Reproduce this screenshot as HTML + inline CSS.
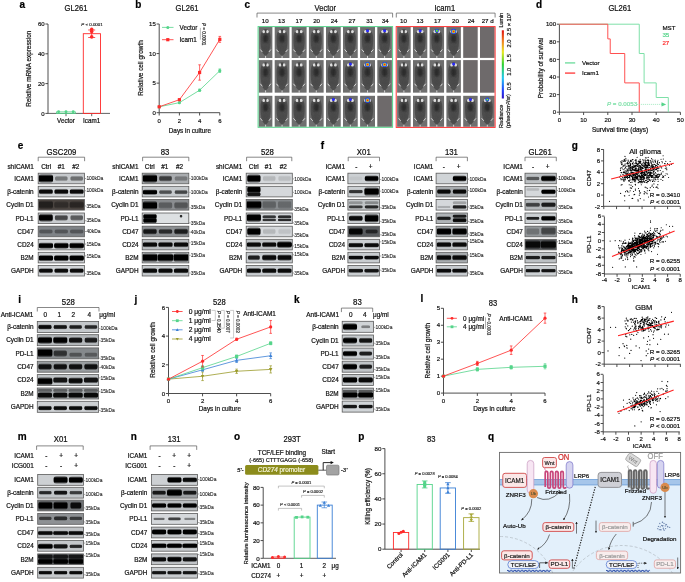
<!DOCTYPE html><html><head><meta charset="utf-8"><style>html,body{margin:0;padding:0;background:#fff;overflow:hidden}svg{display:block;filter:blur(0.35px)}text{font-family:"Liberation Sans",sans-serif}</style></head><body>
<svg width="685" height="582" viewBox="0 0 685 582">
<defs><filter id="bl" x="-30%" y="-60%" width="160%" height="220%"><feGaussianBlur stdDeviation="0.7"/></filter><linearGradient id="vg" x1="0" y1="0" x2="0" y2="1"><stop offset="0" stop-opacity="0.1"/><stop offset="0.25" stop-opacity="1"/><stop offset="0.75" stop-opacity="1"/><stop offset="1" stop-opacity="0.1"/></linearGradient><linearGradient id="hg"><stop offset="0" stop-color="#fff" stop-opacity="0"/><stop offset="0.12" stop-color="#fff" stop-opacity="1"/><stop offset="0.88" stop-color="#fff" stop-opacity="1"/><stop offset="1" stop-color="#fff" stop-opacity="0"/></linearGradient><mask id="hm" maskContentUnits="objectBoundingBox"><rect width="1" height="1" fill="url(#hg)"/></mask><radialGradient id="rg"><stop offset="0" stop-opacity="1"/><stop offset="0.62" stop-opacity="1"/><stop offset="0.85" stop-opacity="0.55"/><stop offset="1" stop-opacity="0"/></radialGradient><filter id="bl3" x="-40%" y="-100%" width="180%" height="300%"><feGaussianBlur stdDeviation="1.3"/></filter><filter id="bl2" x="-30%" y="-30%" width="160%" height="160%"><feGaussianBlur stdDeviation="0.9"/></filter><linearGradient id="cbar" x1="0" y1="1" x2="0" y2="0"><stop offset="0" stop-color="#3010c0"/><stop offset="0.12" stop-color="#2040ff"/><stop offset="0.3" stop-color="#20c8f0"/><stop offset="0.5" stop-color="#30d030"/><stop offset="0.68" stop-color="#e8e820"/><stop offset="0.84" stop-color="#f08020"/><stop offset="1" stop-color="#e01010"/></linearGradient></defs>
<rect width="685" height="582" fill="#fff"/>
<text x="19.5" y="8" style="font-size:10px;stroke-width:0.2px;font-weight:bold" fill="#000" stroke="#000">a</text>
<text transform="translate(76,10.7) scale(1,1.07)" x="0" y="0" style="font-size:7.6px;stroke-width:0.2px" text-anchor="middle" fill="#111" stroke="#111">GL261</text>
<line x1="48" y1="24" x2="48" y2="113.4" stroke="#3a3a3a" stroke-width="0.9"/>
<line x1="45.4" y1="24" x2="48" y2="24" stroke="#3a3a3a" stroke-width="0.9"/>
<text x="44.6" y="26.16" style="font-size:6px;stroke-width:0.19px" text-anchor="end" fill="#111" stroke="#111">60</text>
<line x1="45.4" y1="53.8" x2="48" y2="53.8" stroke="#3a3a3a" stroke-width="0.9"/>
<text x="44.6" y="55.96" style="font-size:6px;stroke-width:0.19px" text-anchor="end" fill="#111" stroke="#111">40</text>
<line x1="45.4" y1="83.6" x2="48" y2="83.6" stroke="#3a3a3a" stroke-width="0.9"/>
<text x="44.6" y="85.76" style="font-size:6px;stroke-width:0.19px" text-anchor="end" fill="#111" stroke="#111">20</text>
<line x1="45.4" y1="113.4" x2="48" y2="113.4" stroke="#3a3a3a" stroke-width="0.9"/>
<text x="44.6" y="115.56" style="font-size:6px;stroke-width:0.19px" text-anchor="end" fill="#111" stroke="#111">0</text>
<line x1="48" y1="113.4" x2="110" y2="113.4" stroke="#3a3a3a" stroke-width="0.8"/>
<line x1="66" y1="113.4" x2="66" y2="116.2" stroke="#3a3a3a" stroke-width="0.8"/>
<line x1="91.7" y1="113.4" x2="91.7" y2="116.2" stroke="#3a3a3a" stroke-width="0.8"/>
<text x="66" y="122.5" style="font-size:6.3px;stroke-width:0.2px" text-anchor="middle" fill="#111" stroke="#111">Vector</text>
<text x="91.7" y="122.5" style="font-size:6.3px;stroke-width:0.2px" text-anchor="middle" fill="#111" stroke="#111">Icam1</text>
<text transform="translate(30.8,68.7) rotate(-90)" x="0" y="0" style="font-size:6.4px;stroke-width:0.2px" text-anchor="middle" fill="#111" stroke="#111">Relative mRNA expression</text>
<rect x="56.5" y="111.9" width="19" height="1.5" fill="none" stroke="#55d48a" stroke-width="0.8"/>
<circle cx="58.6" cy="111.7" r="1.45" fill="#55d48a"/>
<circle cx="66" cy="111.7" r="1.45" fill="#55d48a"/>
<circle cx="73.2" cy="111.7" r="1.45" fill="#55d48a"/>
<rect x="83.3" y="33.7" width="17.2" height="79.7" fill="none" stroke="#ff2a2a" stroke-width="0.9"/>
<line x1="91.7" y1="30" x2="91.7" y2="37.5" stroke="#ff2a2a" stroke-width="0.8"/>
<line x1="88.2" y1="30" x2="95.2" y2="30" stroke="#ff2a2a" stroke-width="0.8"/>
<line x1="88.2" y1="37.5" x2="95.2" y2="37.5" stroke="#ff2a2a" stroke-width="0.8"/>
<circle cx="91.7" cy="29.4" r="1.8" fill="#ff2a2a"/>
<circle cx="91.7" cy="31.6" r="1.8" fill="#ff2a2a"/>
<circle cx="91.7" cy="36.9" r="1.8" fill="#ff2a2a"/>
<text x="81.3" y="25.6" style="font-size:4.4px;stroke-width:0.14px" fill="#111" stroke="#111"><tspan font-style="italic">P</tspan> &lt; 0.0001</text>
<text x="135.3" y="8" style="font-size:10px;stroke-width:0.2px;font-weight:bold" fill="#000" stroke="#000">b</text>
<text transform="translate(187,11) scale(1,1.07)" x="0" y="0" style="font-size:7.6px;stroke-width:0.2px" text-anchor="middle" fill="#111" stroke="#111">GL261</text>
<line x1="159.2" y1="24" x2="159.2" y2="112.7" stroke="#3a3a3a" stroke-width="0.9"/>
<line x1="156.6" y1="24" x2="159.2" y2="24" stroke="#3a3a3a" stroke-width="0.9"/>
<text x="155.8" y="26.16" style="font-size:6px;stroke-width:0.19px" text-anchor="end" fill="#111" stroke="#111">15</text>
<line x1="156.6" y1="53.57" x2="159.2" y2="53.57" stroke="#3a3a3a" stroke-width="0.9"/>
<text x="155.8" y="55.73" style="font-size:6px;stroke-width:0.19px" text-anchor="end" fill="#111" stroke="#111">10</text>
<line x1="156.6" y1="83.14" x2="159.2" y2="83.14" stroke="#3a3a3a" stroke-width="0.9"/>
<text x="155.8" y="85.3" style="font-size:6px;stroke-width:0.19px" text-anchor="end" fill="#111" stroke="#111">5</text>
<line x1="156.6" y1="112.7" x2="159.2" y2="112.7" stroke="#3a3a3a" stroke-width="0.9"/>
<text x="155.8" y="114.86" style="font-size:6px;stroke-width:0.19px" text-anchor="end" fill="#111" stroke="#111">0</text>
<line x1="159.2" y1="112.7" x2="219.8" y2="112.7" stroke="#3a3a3a" stroke-width="0.9"/>
<line x1="159.2" y1="112.7" x2="159.2" y2="115.5" stroke="#3a3a3a" stroke-width="0.9"/>
<text x="159.2" y="122.8" style="font-size:6px;stroke-width:0.19px" text-anchor="middle" fill="#111" stroke="#111">0</text>
<line x1="179.4" y1="112.7" x2="179.4" y2="115.5" stroke="#3a3a3a" stroke-width="0.9"/>
<text x="179.4" y="122.8" style="font-size:6px;stroke-width:0.19px" text-anchor="middle" fill="#111" stroke="#111">2</text>
<line x1="199.6" y1="112.7" x2="199.6" y2="115.5" stroke="#3a3a3a" stroke-width="0.9"/>
<text x="199.6" y="122.8" style="font-size:6px;stroke-width:0.19px" text-anchor="middle" fill="#111" stroke="#111">4</text>
<line x1="219.8" y1="112.7" x2="219.8" y2="115.5" stroke="#3a3a3a" stroke-width="0.9"/>
<text x="219.8" y="122.8" style="font-size:6px;stroke-width:0.19px" text-anchor="middle" fill="#111" stroke="#111">6</text>
<text x="189.9" y="132.5" style="font-size:6.4px;stroke-width:0.2px" text-anchor="middle" fill="#111" stroke="#111">Days in culture</text>
<text transform="translate(143.2,68) rotate(-90)" x="0" y="0" style="font-size:6.4px;stroke-width:0.2px" text-anchor="middle" fill="#111" stroke="#111">Relative cell growth</text>
<polyline points="159.2,106.79 179.4,102.65 199.6,90.23 219.8,70.72" fill="none" stroke="#55d48a" stroke-width="0.8"/>
<circle cx="159.2" cy="106.79" r="1.6" fill="#55d48a"/>
<circle cx="179.4" cy="102.65" r="1.6" fill="#55d48a"/>
<line x1="199.6" y1="91.41" x2="199.6" y2="89.05" stroke="#55d48a" stroke-width="0.7"/>
<line x1="198.3" y1="89.05" x2="200.9" y2="89.05" stroke="#55d48a" stroke-width="0.7"/>
<line x1="198.3" y1="91.41" x2="200.9" y2="91.41" stroke="#55d48a" stroke-width="0.7"/>
<circle cx="199.6" cy="90.23" r="1.6" fill="#55d48a"/>
<line x1="219.8" y1="72.49" x2="219.8" y2="68.94" stroke="#55d48a" stroke-width="0.7"/>
<line x1="218.5" y1="68.94" x2="221.1" y2="68.94" stroke="#55d48a" stroke-width="0.7"/>
<line x1="218.5" y1="72.49" x2="221.1" y2="72.49" stroke="#55d48a" stroke-width="0.7"/>
<circle cx="219.8" cy="70.72" r="1.6" fill="#55d48a"/>
<polyline points="159.2,106.79 179.4,99.69 199.6,72.49 219.8,39.38" fill="none" stroke="#ff2a2a" stroke-width="0.8"/>
<rect x="157.6" y="105.19" width="3.2" height="3.2" fill="#ff2a2a"/>
<rect x="177.8" y="98.09" width="3.2" height="3.2" fill="#ff2a2a"/>
<line x1="199.6" y1="80.18" x2="199.6" y2="64.8" stroke="#ff2a2a" stroke-width="0.7"/>
<line x1="198.3" y1="64.8" x2="200.9" y2="64.8" stroke="#ff2a2a" stroke-width="0.7"/>
<line x1="198.3" y1="80.18" x2="200.9" y2="80.18" stroke="#ff2a2a" stroke-width="0.7"/>
<rect x="198" y="70.89" width="3.2" height="3.2" fill="#ff2a2a"/>
<line x1="219.8" y1="42.34" x2="219.8" y2="36.42" stroke="#ff2a2a" stroke-width="0.7"/>
<line x1="218.5" y1="36.42" x2="221.1" y2="36.42" stroke="#ff2a2a" stroke-width="0.7"/>
<line x1="218.5" y1="42.34" x2="221.1" y2="42.34" stroke="#ff2a2a" stroke-width="0.7"/>
<rect x="218.2" y="37.78" width="3.2" height="3.2" fill="#ff2a2a"/>
<line x1="162" y1="27.4" x2="173.5" y2="27.4" stroke="#55d48a" stroke-width="0.8"/>
<circle cx="167.8" cy="27.4" r="1.5" fill="#55d48a"/>
<text x="179.6" y="29.7" style="font-size:6.3px;stroke-width:0.2px" fill="#111" stroke="#111">Vector</text>
<line x1="162" y1="39.7" x2="173.5" y2="39.7" stroke="#ff2a2a" stroke-width="0.8"/>
<rect x="166.2" y="38.1" width="3.2" height="3.2" fill="#ff2a2a"/>
<text x="179.6" y="42" style="font-size:6.3px;stroke-width:0.2px" fill="#111" stroke="#111">Icam1</text>
<line x1="200.4" y1="27.9" x2="200.4" y2="39.6" stroke="#aaa" stroke-width="0.8"/>
<text transform="translate(201.6,22.9) rotate(90)" x="0" y="0" style="font-size:4.6px;stroke-width:0.15px" fill="#111" stroke="#111"><tspan font-style="italic">P</tspan> = 0.0001</text>
<text x="244.6" y="8" style="font-size:10px;stroke-width:0.2px;font-weight:bold" fill="#000" stroke="#000">c</text>
<text transform="translate(325.3,10.5) scale(1,1.07)" x="0" y="0" style="font-size:7.6px;stroke-width:0.2px" text-anchor="middle" fill="#111" stroke="#111">Vector</text>
<text transform="translate(444.8,10.5) scale(1,1.07)" x="0" y="0" style="font-size:7.6px;stroke-width:0.2px" text-anchor="middle" fill="#111" stroke="#111">Icam1</text>
<path d="M257,17.5 V13.1 H392.6 V17.5" stroke="#555" stroke-width="0.7" fill="none"/>
<path d="M396.3,17.5 V13.1 H495.1 V17.5" stroke="#555" stroke-width="0.7" fill="none"/>
<text x="265.2" y="23.4" style="font-size:6.2px;stroke-width:0.2px" text-anchor="middle" fill="#111" stroke="#111">10</text>
<text x="281.4" y="23.4" style="font-size:6.2px;stroke-width:0.2px" text-anchor="middle" fill="#111" stroke="#111">13</text>
<text x="299" y="23.4" style="font-size:6.2px;stroke-width:0.2px" text-anchor="middle" fill="#111" stroke="#111">17</text>
<text x="316.6" y="23.4" style="font-size:6.2px;stroke-width:0.2px" text-anchor="middle" fill="#111" stroke="#111">20</text>
<text x="334.3" y="23.4" style="font-size:6.2px;stroke-width:0.2px" text-anchor="middle" fill="#111" stroke="#111">24</text>
<text x="352" y="23.4" style="font-size:6.2px;stroke-width:0.2px" text-anchor="middle" fill="#111" stroke="#111">27</text>
<text x="369.6" y="23.4" style="font-size:6.2px;stroke-width:0.2px" text-anchor="middle" fill="#111" stroke="#111">31</text>
<text x="385.3" y="23.4" style="font-size:6.2px;stroke-width:0.2px" text-anchor="middle" fill="#111" stroke="#111">34</text>
<text x="403.5" y="23.4" style="font-size:6.2px;stroke-width:0.2px" text-anchor="middle" fill="#111" stroke="#111">10</text>
<text x="420" y="23.4" style="font-size:6.2px;stroke-width:0.2px" text-anchor="middle" fill="#111" stroke="#111">13</text>
<text x="437.5" y="23.4" style="font-size:6.2px;stroke-width:0.2px" text-anchor="middle" fill="#111" stroke="#111">17</text>
<text x="455.4" y="23.4" style="font-size:6.2px;stroke-width:0.2px" text-anchor="middle" fill="#111" stroke="#111">20</text>
<text x="471.1" y="23.4" style="font-size:6.2px;stroke-width:0.2px" text-anchor="middle" fill="#111" stroke="#111">24</text>
<text x="487.7" y="23.4" style="font-size:6.2px;stroke-width:0.2px" text-anchor="middle" fill="#111" stroke="#111">27 d</text>
<defs><g id="mouse"><rect x="0" y="0" width="14.6" height="31" fill="#6e6e6e"/><path d="M7.3,2 C11,2.5 12.8,6 12.8,11 C13,18 12,23.5 10,26.5 L7.3,29.5 L4.6,26.5 C2.6,23.5 1.6,18 1.8,11 C1.8,6 3.6,2.5 7.3,2 Z" fill="#4e4e4e" filter="url(#bl)"/><ellipse cx="7.3" cy="11.5" rx="2.8" ry="4.2" fill="#2a2a2a" filter="url(#bl2)"/><ellipse cx="7.3" cy="21" rx="3" ry="3.5" fill="#484848" filter="url(#bl2)"/><ellipse cx="5.3" cy="4.6" rx="1.45" ry="1.6" fill="#dddddd" filter="url(#bl)"/><ellipse cx="9.3" cy="4.6" rx="1.45" ry="1.6" fill="#dddddd" filter="url(#bl)"/><ellipse cx="7.3" cy="4" rx="0.8" ry="1.6" fill="#444" filter="url(#bl)"/><path d="M1.6,22.5 L3.8,25 M13,22.5 L10.8,25 M7.3,28.8 V31" stroke="#e0e0e0" stroke-width="0.9" fill="none"/></g></defs>
<use href="#mouse" transform="translate(258.8,27) scale(0.93,1)"/>
<use href="#mouse" transform="translate(274.7,27) scale(1.01,1)"/>
<use href="#mouse" transform="translate(291.7,27) scale(1.02,1)"/>
<use href="#mouse" transform="translate(308.9,27) scale(1.01,1)"/>
<use href="#mouse" transform="translate(326,27) scale(1.01,1)"/>
<use href="#mouse" transform="translate(343,27) scale(1.01,1)"/>
<use href="#mouse" transform="translate(360.1,27) scale(1.02,1)"/>
<circle cx="367.55" cy="30.8" r="1.5" fill="#2a2aff"/>
<use href="#mouse" transform="translate(377.3,27) scale(1,1)"/>
<circle cx="384.6" cy="30.8" r="1.5" fill="#2a2aff"/>
<use href="#mouse" transform="translate(397.1,27) scale(0.93,1)"/>
<use href="#mouse" transform="translate(413,27) scale(0.98,1)"/>
<circle cx="420.15" cy="30.8" r="1.5" fill="#2a2aff"/>
<use href="#mouse" transform="translate(429.6,27) scale(0.99,1)"/>
<circle cx="436.85" cy="30.8" r="2" fill="#2a3aff"/>
<circle cx="436.85" cy="30.8" r="1.2" fill="#30d040"/>
<circle cx="436.85" cy="30.8" r="0.5" fill="#e0e020"/>
<use href="#mouse" transform="translate(446.4,27) scale(0.99,1)"/>
<circle cx="453.65" cy="31.4" r="2.6" fill="#2a2aff"/>
<circle cx="453.65" cy="31.4" r="2" fill="#30c8a0"/>
<circle cx="453.65" cy="31.4" r="1.5" fill="#e8e020"/>
<circle cx="453.65" cy="31.4" r="1" fill="#ff2010"/>
<rect x="463.2" y="27" width="14.5" height="30.9" fill="#6e6a6b"/>
<rect x="480" y="27" width="14.6" height="30.9" fill="#6e6a6b"/>
<use href="#mouse" transform="translate(258.8,60.1) scale(0.93,1.05)"/>
<use href="#mouse" transform="translate(274.7,60.1) scale(1.01,1.05)"/>
<use href="#mouse" transform="translate(291.7,60.1) scale(1.02,1.05)"/>
<use href="#mouse" transform="translate(308.9,60.1) scale(1.01,1.05)"/>
<use href="#mouse" transform="translate(326,60.1) scale(1.01,1.05)"/>
<use href="#mouse" transform="translate(343,60.1) scale(1.01,1.05)"/>
<circle cx="350.4" cy="63.9" r="1.5" fill="#2a2aff"/>
<use href="#mouse" transform="translate(360.1,60.1) scale(1.02,1.05)"/>
<circle cx="367.55" cy="64.5" r="2.6" fill="#2a2aff"/>
<circle cx="367.55" cy="64.5" r="2" fill="#30c8a0"/>
<circle cx="367.55" cy="64.5" r="1.5" fill="#e8e020"/>
<circle cx="367.55" cy="64.5" r="1" fill="#ff2010"/>
<use href="#mouse" transform="translate(377.3,60.1) scale(1,1.05)"/>
<circle cx="384.6" cy="64.5" r="2.6" fill="#2a2aff"/>
<circle cx="384.6" cy="64.5" r="2" fill="#30c8a0"/>
<circle cx="384.6" cy="64.5" r="1.5" fill="#e8e020"/>
<circle cx="384.6" cy="64.5" r="1" fill="#ff2010"/>
<use href="#mouse" transform="translate(397.1,60.1) scale(0.93,1.05)"/>
<use href="#mouse" transform="translate(413,60.1) scale(0.98,1.05)"/>
<use href="#mouse" transform="translate(429.6,60.1) scale(0.99,1.05)"/>
<use href="#mouse" transform="translate(446.4,60.1) scale(0.99,1.05)"/>
<circle cx="453.65" cy="63.9" r="1.5" fill="#2a2aff"/>
<rect x="463.2" y="60.1" width="14.5" height="32.6" fill="#6e6a6b"/>
<rect x="480" y="60.1" width="14.6" height="32.6" fill="#6e6a6b"/>
<use href="#mouse" transform="translate(258.8,95.8) scale(0.93,1)"/>
<use href="#mouse" transform="translate(274.7,95.8) scale(1.01,1)"/>
<use href="#mouse" transform="translate(291.7,95.8) scale(1.02,1)"/>
<use href="#mouse" transform="translate(308.9,95.8) scale(1.01,1)"/>
<use href="#mouse" transform="translate(326,95.8) scale(1.01,1)"/>
<circle cx="333.35" cy="99.6" r="1.5" fill="#2a2aff"/>
<use href="#mouse" transform="translate(343,95.8) scale(1.01,1)"/>
<circle cx="350.4" cy="99.6" r="1.5" fill="#2a2aff"/>
<use href="#mouse" transform="translate(360.1,95.8) scale(1.02,1)"/>
<circle cx="367.55" cy="100.2" r="2.6" fill="#2a2aff"/>
<circle cx="367.55" cy="100.2" r="2" fill="#30c8a0"/>
<circle cx="367.55" cy="100.2" r="1.5" fill="#e8e020"/>
<circle cx="367.55" cy="100.2" r="1" fill="#ff2010"/>
<rect x="377.3" y="95.8" width="14.6" height="31" fill="#6e6a6b"/>
<use href="#mouse" transform="translate(397.1,95.8) scale(0.93,1)"/>
<use href="#mouse" transform="translate(413,95.8) scale(0.98,1)"/>
<use href="#mouse" transform="translate(429.6,95.8) scale(0.99,1)"/>
<use href="#mouse" transform="translate(446.4,95.8) scale(0.99,1)"/>
<use href="#mouse" transform="translate(463.2,95.8) scale(0.99,1)"/>
<circle cx="470.45" cy="99.6" r="1.5" fill="#2a2aff"/>
<use href="#mouse" transform="translate(480,95.8) scale(1,1)"/>
<circle cx="487.3" cy="99.6" r="2" fill="#2a3aff"/>
<circle cx="487.3" cy="99.6" r="1.2" fill="#30d040"/>
<circle cx="487.3" cy="99.6" r="0.5" fill="#e0e020"/>
<rect x="258.1" y="26.6" width="134.5" height="100.7" fill="none" stroke="#55d48a" stroke-width="1"/>
<rect x="396.2" y="26.6" width="98.9" height="100.8" fill="none" stroke="#ff3030" stroke-width="1"/>
<rect x="501.8" y="30.3" width="2.1" height="68.2" fill="url(#cbar)"/>
<text transform="translate(503.1,27.4) rotate(-90)" x="0" y="0" style="font-size:5.3px;stroke-width:0.17px" fill="#111" stroke="#111">Lumin</text>
<text transform="translate(511.4,35.8) rotate(-90)" x="0" y="0" style="font-size:5.7px;stroke-width:0.18px" fill="#111" stroke="#111">2.5 × 10<tspan dy="-1.8" font-size="3.6">7</tspan></text>
<text transform="translate(511.4,43.5) rotate(-90)" x="0" y="0" style="font-size:5.7px;stroke-width:0.18px" text-anchor="middle" fill="#111" stroke="#111">2.0</text>
<text transform="translate(511.4,58.1) rotate(-90)" x="0" y="0" style="font-size:5.7px;stroke-width:0.18px" text-anchor="middle" fill="#111" stroke="#111">1.5</text>
<text transform="translate(511.4,71.8) rotate(-90)" x="0" y="0" style="font-size:5.7px;stroke-width:0.18px" text-anchor="middle" fill="#111" stroke="#111">1.0</text>
<text transform="translate(511.4,86.2) rotate(-90)" x="0" y="0" style="font-size:5.7px;stroke-width:0.18px" text-anchor="middle" fill="#111" stroke="#111">0.5</text>
<text transform="translate(503.3,127.9) rotate(-90)" x="0" y="0" style="font-size:5.5px;stroke-width:0.18px" fill="#111" stroke="#111">Radiance</text>
<text transform="translate(510.4,127.9) rotate(-90)" x="0" y="0" style="font-size:5.5px;stroke-width:0.18px" fill="#111" stroke="#111">(p/sec/cm<tspan dy="-1.5" font-size="3.6">2</tspan><tspan dy="1.5">/sr)</tspan></text>
<text x="536" y="8" style="font-size:10px;stroke-width:0.2px;font-weight:bold" fill="#000" stroke="#000">d</text>
<text transform="translate(619.8,10.6) scale(1,1.07)" x="0" y="0" style="font-size:7.6px;stroke-width:0.2px" text-anchor="middle" fill="#111" stroke="#111">GL261</text>
<line x1="559.4" y1="24.2" x2="559.4" y2="112.2" stroke="#3a3a3a" stroke-width="0.9"/>
<line x1="556.8" y1="24.2" x2="559.4" y2="24.2" stroke="#3a3a3a" stroke-width="0.9"/>
<text x="556" y="26.36" style="font-size:6px;stroke-width:0.19px" text-anchor="end" fill="#111" stroke="#111">100</text>
<line x1="556.8" y1="41.8" x2="559.4" y2="41.8" stroke="#3a3a3a" stroke-width="0.9"/>
<text x="556" y="43.96" style="font-size:6px;stroke-width:0.19px" text-anchor="end" fill="#111" stroke="#111">80</text>
<line x1="556.8" y1="59.4" x2="559.4" y2="59.4" stroke="#3a3a3a" stroke-width="0.9"/>
<text x="556" y="61.56" style="font-size:6px;stroke-width:0.19px" text-anchor="end" fill="#111" stroke="#111">60</text>
<line x1="556.8" y1="77" x2="559.4" y2="77" stroke="#3a3a3a" stroke-width="0.9"/>
<text x="556" y="79.16" style="font-size:6px;stroke-width:0.19px" text-anchor="end" fill="#111" stroke="#111">40</text>
<line x1="556.8" y1="94.6" x2="559.4" y2="94.6" stroke="#3a3a3a" stroke-width="0.9"/>
<text x="556" y="96.76" style="font-size:6px;stroke-width:0.19px" text-anchor="end" fill="#111" stroke="#111">20</text>
<line x1="556.8" y1="112.2" x2="559.4" y2="112.2" stroke="#3a3a3a" stroke-width="0.9"/>
<text x="556" y="114.36" style="font-size:6px;stroke-width:0.19px" text-anchor="end" fill="#111" stroke="#111">0</text>
<line x1="559.4" y1="112.2" x2="680.4" y2="112.2" stroke="#3a3a3a" stroke-width="0.9"/>
<line x1="559.4" y1="112.2" x2="559.4" y2="115" stroke="#3a3a3a" stroke-width="0.9"/>
<text x="559.4" y="122.4" style="font-size:6px;stroke-width:0.19px" text-anchor="middle" fill="#111" stroke="#111">0</text>
<line x1="583.6" y1="112.2" x2="583.6" y2="115" stroke="#3a3a3a" stroke-width="0.9"/>
<text x="583.6" y="122.4" style="font-size:6px;stroke-width:0.19px" text-anchor="middle" fill="#111" stroke="#111">10</text>
<line x1="607.8" y1="112.2" x2="607.8" y2="115" stroke="#3a3a3a" stroke-width="0.9"/>
<text x="607.8" y="122.4" style="font-size:6px;stroke-width:0.19px" text-anchor="middle" fill="#111" stroke="#111">20</text>
<line x1="632" y1="112.2" x2="632" y2="115" stroke="#3a3a3a" stroke-width="0.9"/>
<text x="632" y="122.4" style="font-size:6px;stroke-width:0.19px" text-anchor="middle" fill="#111" stroke="#111">30</text>
<line x1="656.2" y1="112.2" x2="656.2" y2="115" stroke="#3a3a3a" stroke-width="0.9"/>
<text x="656.2" y="122.4" style="font-size:6px;stroke-width:0.19px" text-anchor="middle" fill="#111" stroke="#111">40</text>
<line x1="680.4" y1="112.2" x2="680.4" y2="115" stroke="#3a3a3a" stroke-width="0.9"/>
<text x="680.4" y="122.4" style="font-size:6px;stroke-width:0.19px" text-anchor="middle" fill="#111" stroke="#111">50</text>
<text x="620" y="131.9" style="font-size:6.4px;stroke-width:0.2px" text-anchor="middle" fill="#111" stroke="#111">Survival time (days)</text>
<text transform="translate(543.2,68) rotate(-90)" x="0" y="0" style="font-size:6.4px;stroke-width:0.2px" text-anchor="middle" fill="#111" stroke="#111">Probability of survival</text>
<path d="M559.4,24.2 H639.26 V53.5 H644.1 V82.9 H656.2 V97.5 H668.3 V112.2" stroke="#7ee0a8" stroke-width="1" fill="none"/>
<path d="M559.4,24.2 H607.8 V38.9 H610.22 V53.5 H624.74 V82.9 H639.26 V112.2" stroke="#ff5050" stroke-width="1" fill="none"/>
<line x1="565" y1="62.9" x2="575.2" y2="62.9" stroke="#7ee0a8" stroke-width="1.5"/>
<text x="582" y="65.1" style="font-size:6.2px;stroke-width:0.2px" fill="#111" stroke="#111">Vector</text>
<line x1="565" y1="73.1" x2="575.2" y2="73.1" stroke="#ff5050" stroke-width="1.5"/>
<text x="582" y="75.3" style="font-size:6.2px;stroke-width:0.2px" fill="#111" stroke="#111">Icam1</text>
<text x="662.4" y="30.1" style="font-size:6.2px;stroke-width:0.2px" fill="#111" stroke="#111">MST</text>
<text x="662.4" y="37.4" style="font-size:6.2px;stroke-width:0.2px" fill="#55d48a" stroke="#55d48a">35</text>
<text x="662.4" y="44.8" style="font-size:6.2px;stroke-width:0.2px" fill="#ff3030" stroke="#ff3030">27</text>
<text x="607" y="106.3" style="font-size:6.2px;stroke-width:0.2px" fill="#7ee0a8" stroke="#7ee0a8"><tspan font-style="italic">P</tspan> = 0.0053</text>
<line x1="637" y1="104.4" x2="662" y2="104.4" stroke="#7ee0a8" stroke-width="0.6" stroke-dasharray="1.2,0.8"/>
<path d="M661.5,102.2 L666.2,104.4 L661.5,106.6 Z" stroke="none" stroke-width="0" fill="#55d48a"/>
<text x="17.8" y="148.8" style="font-size:10px;stroke-width:0.2px;font-weight:bold" fill="#000" stroke="#000">e</text>
<text transform="translate(61.5,154.5) scale(1,1.07)" x="0" y="0" style="font-size:7.8px;stroke-width:0.2px" text-anchor="middle" fill="#111" stroke="#111">GSC209</text>
<path d="M38.2,161.2 V157.2 H84.6 V161.2" stroke="#555" stroke-width="0.7" fill="none"/>
<text x="33.7" y="168.9" style="font-size:6.4px;stroke-width:0.2px" text-anchor="end" fill="#111" stroke="#111">shICAM1</text>
<text x="46.2" y="168.9" style="font-size:6.4px;stroke-width:0.2px" text-anchor="middle" fill="#111" stroke="#111">Ctrl</text>
<text x="61.2" y="168.9" style="font-size:6.4px;stroke-width:0.2px" text-anchor="middle" fill="#111" stroke="#111">#1</text>
<text x="75.8" y="168.9" style="font-size:6.4px;stroke-width:0.2px" text-anchor="middle" fill="#111" stroke="#111">#2</text>
<text x="33.7" y="180.8" style="font-size:6.4px;stroke-width:0.2px" text-anchor="end" fill="#111" stroke="#111">ICAM1</text>
<rect x="38.2" y="173.2" width="46.2" height="10.6" fill="#c6c9cc" stroke="#5a5a5a" stroke-width="0.8"/>
<clipPath id="cb1"><rect x="38.6" y="173.6" width="45.4" height="9.8"/></clipPath><g clip-path="url(#cb1)">
<rect x="38.67" y="174" width="14.45" height="9" rx="3.2" fill="url(#vg)" fill-opacity="1"/>
<rect x="55.02" y="175.7" width="12.57" height="5.61" rx="2.52" fill="url(#vg)" fill-opacity="0.4"/>
<rect x="70.42" y="175.7" width="12.57" height="5.61" rx="2.52" fill="url(#vg)" fill-opacity="0.45"/>
</g>
<line x1="85" y1="178.5" x2="86.2" y2="178.5" stroke="#444" stroke-width="0.5"/>
<text x="86.4" y="180.2" style="font-size:4.9px;stroke-width:0.1px" fill="#222" stroke="#222">100kDa</text>
<text x="33.7" y="193.9" style="font-size:6.4px;stroke-width:0.2px" text-anchor="end" fill="#111" stroke="#111">&#946;-catenin</text>
<rect x="38.2" y="186.3" width="46.2" height="10.6" fill="#d2d5d8" stroke="#5a5a5a" stroke-width="0.8"/>
<clipPath id="cb2"><rect x="38.6" y="186.7" width="45.4" height="9.8"/></clipPath><g clip-path="url(#cb2)">
<rect x="38.99" y="188.8" width="13.82" height="5.61" rx="2.52" fill="url(#vg)" fill-opacity="0.95"/>
<rect x="54.39" y="188.8" width="13.82" height="5.61" rx="2.52" fill="url(#vg)" fill-opacity="0.95"/>
<rect x="69.79" y="188.8" width="13.82" height="5.61" rx="2.52" fill="url(#vg)" fill-opacity="0.95"/>
</g>
<line x1="85" y1="190.75" x2="86.2" y2="190.75" stroke="#444" stroke-width="0.5"/>
<text x="86.4" y="192.45" style="font-size:4.9px;stroke-width:0.1px" fill="#222" stroke="#222">100kDa</text>
<text x="33.7" y="207.1" style="font-size:6.4px;stroke-width:0.2px" text-anchor="end" fill="#111" stroke="#111">Cyclin D1</text>
<rect x="38.2" y="199.5" width="46.2" height="10.6" fill="#4a4440" stroke="#5a5a5a" stroke-width="0.8"/>
<clipPath id="cb3"><rect x="38.6" y="199.9" width="45.4" height="9.8"/></clipPath><g clip-path="url(#cb3)">
<rect x="38.83" y="200.3" width="14.14" height="9" rx="3.2" fill="url(#vg)" fill-opacity="0.55"/>
<rect x="54.23" y="200.92" width="14.14" height="7.75" rx="3.2" fill="url(#vg)" fill-opacity="0.35"/>
<rect x="69.63" y="200.92" width="14.14" height="7.75" rx="3.2" fill="url(#vg)" fill-opacity="0.45"/>
</g>
<line x1="85" y1="205.97" x2="86.2" y2="205.97" stroke="#444" stroke-width="0.5"/>
<text x="86.4" y="207.67" style="font-size:4.9px;stroke-width:0.1px" fill="#222" stroke="#222">35kDa</text>
<text x="33.7" y="220.6" style="font-size:6.4px;stroke-width:0.2px" text-anchor="end" fill="#111" stroke="#111">PD-L1</text>
<rect x="38.2" y="213" width="46.2" height="10.6" fill="#c8cbce" stroke="#5a5a5a" stroke-width="0.8"/>
<clipPath id="cb4"><rect x="38.6" y="213.4" width="45.4" height="9.8"/></clipPath><g clip-path="url(#cb4)">
<rect x="38.99" y="213.53" width="13.82" height="8.47" rx="3.2" fill="url(#vg)" fill-opacity="1"/>
<rect x="54.86" y="214.61" width="12.88" height="6.32" rx="2.85" fill="url(#vg)" fill-opacity="0.65"/>
<rect x="70.42" y="214.61" width="12.57" height="6.32" rx="2.85" fill="url(#vg)" fill-opacity="0.55"/>
</g>
<line x1="85" y1="220.74" x2="86.2" y2="220.74" stroke="#444" stroke-width="0.5"/>
<text x="86.4" y="222.44" style="font-size:4.9px;stroke-width:0.1px" fill="#222" stroke="#222">35kDa</text>
<text x="33.7" y="233.8" style="font-size:6.4px;stroke-width:0.2px" text-anchor="end" fill="#111" stroke="#111">CD47</text>
<rect x="38.2" y="226.2" width="46.2" height="10.6" fill="#7f8387" stroke="#5a5a5a" stroke-width="0.8"/>
<clipPath id="cb5"><rect x="38.6" y="226.6" width="45.4" height="9.8"/></clipPath><g clip-path="url(#cb5)">
<rect x="39.22" y="229.05" width="13.35" height="4.89" rx="2.2" fill="url(#vg)" fill-opacity="0.35"/>
<rect x="54.62" y="229.05" width="13.35" height="4.89" rx="2.2" fill="url(#vg)" fill-opacity="0.35"/>
<rect x="70.02" y="229.05" width="13.35" height="4.89" rx="2.2" fill="url(#vg)" fill-opacity="0.35"/>
</g>
<line x1="85" y1="231.5" x2="86.2" y2="231.5" stroke="#444" stroke-width="0.5"/>
<text x="86.4" y="233.2" style="font-size:4.9px;stroke-width:0.1px" fill="#222" stroke="#222">40kDa</text>
<text x="33.7" y="246.9" style="font-size:6.4px;stroke-width:0.2px" text-anchor="end" fill="#111" stroke="#111">CD24</text>
<rect x="38.2" y="239.3" width="46.2" height="10.6" fill="#d0d3d6" stroke="#5a5a5a" stroke-width="0.8"/>
<clipPath id="cb6"><rect x="38.6" y="239.7" width="45.4" height="9.8"/></clipPath><g clip-path="url(#cb6)">
<rect x="38.67" y="242.35" width="14.45" height="6.61" rx="2.97" fill="url(#vg)" fill-opacity="1"/>
<rect x="54.07" y="242.35" width="14.45" height="6.61" rx="2.97" fill="url(#vg)" fill-opacity="1"/>
<rect x="69.47" y="242.35" width="14.45" height="6.61" rx="2.97" fill="url(#vg)" fill-opacity="1"/>
</g>
<line x1="85" y1="244.07" x2="86.2" y2="244.07" stroke="#444" stroke-width="0.5"/>
<text x="86.4" y="245.77" style="font-size:4.9px;stroke-width:0.1px" fill="#222" stroke="#222">15kDa</text>
<text x="33.7" y="259.9" style="font-size:6.4px;stroke-width:0.2px" text-anchor="end" fill="#111" stroke="#111">B2M</text>
<rect x="38.2" y="252.3" width="46.2" height="10.6" fill="#d0d3d6" stroke="#5a5a5a" stroke-width="0.8"/>
<clipPath id="cb7"><rect x="38.6" y="252.7" width="45.4" height="9.8"/></clipPath><g clip-path="url(#cb7)">
<rect x="38.67" y="254.82" width="14.45" height="6.61" rx="2.97" fill="url(#vg)" fill-opacity="1"/>
<rect x="54.07" y="254.82" width="14.45" height="6.61" rx="2.97" fill="url(#vg)" fill-opacity="1"/>
<rect x="69.47" y="254.82" width="14.45" height="6.61" rx="2.97" fill="url(#vg)" fill-opacity="1"/>
</g>
<line x1="85" y1="255.9" x2="86.2" y2="255.9" stroke="#444" stroke-width="0.5"/>
<text x="86.4" y="257.6" style="font-size:4.9px;stroke-width:0.1px" fill="#222" stroke="#222">15kDa</text>
<text x="33.7" y="273" style="font-size:6.4px;stroke-width:0.2px" text-anchor="end" fill="#111" stroke="#111">GAPDH</text>
<rect x="38.2" y="265.4" width="46.2" height="10.6" fill="#d0d3d6" stroke="#5a5a5a" stroke-width="0.8"/>
<clipPath id="cb8"><rect x="38.6" y="265.8" width="45.4" height="9.8"/></clipPath><g clip-path="url(#cb8)">
<rect x="38.99" y="268.11" width="13.82" height="5.18" rx="2.33" fill="url(#vg)" fill-opacity="0.95"/>
<rect x="54.39" y="268.11" width="13.82" height="5.18" rx="2.33" fill="url(#vg)" fill-opacity="0.95"/>
<rect x="69.79" y="268.11" width="13.82" height="5.18" rx="2.33" fill="url(#vg)" fill-opacity="0.95"/>
</g>
<line x1="85" y1="273.67" x2="86.2" y2="273.67" stroke="#444" stroke-width="0.5"/>
<text x="86.4" y="275.37" style="font-size:4.9px;stroke-width:0.1px" fill="#222" stroke="#222">35kDa</text>
<text transform="translate(165,154.5) scale(1,1.07)" x="0" y="0" style="font-size:7.8px;stroke-width:0.2px" text-anchor="middle" fill="#111" stroke="#111">83</text>
<path d="M142.6,161.2 V157.2 H188.8 V161.2" stroke="#555" stroke-width="0.7" fill="none"/>
<text x="138.5" y="168.9" style="font-size:6.4px;stroke-width:0.2px" text-anchor="end" fill="#111" stroke="#111">shICAM1</text>
<text x="149.8" y="168.9" style="font-size:6.4px;stroke-width:0.2px" text-anchor="middle" fill="#111" stroke="#111">Ctrl</text>
<text x="164.7" y="168.9" style="font-size:6.4px;stroke-width:0.2px" text-anchor="middle" fill="#111" stroke="#111">#1</text>
<text x="179.5" y="168.9" style="font-size:6.4px;stroke-width:0.2px" text-anchor="middle" fill="#111" stroke="#111">#2</text>
<text x="138.5" y="180.8" style="font-size:6.4px;stroke-width:0.2px" text-anchor="end" fill="#111" stroke="#111">ICAM1</text>
<rect x="142.2" y="173.2" width="46.6" height="10.6" fill="#aaadb0" stroke="#5a5a5a" stroke-width="0.8"/>
<clipPath id="cb9"><rect x="142.6" y="173.6" width="45.8" height="9.8"/></clipPath><g clip-path="url(#cb9)">
<rect x="142.84" y="174" width="14.26" height="9" rx="3.2" fill="url(#vg)" fill-opacity="1"/>
<rect x="159.16" y="175.34" width="12.68" height="6.32" rx="2.85" fill="url(#vg)" fill-opacity="0.65"/>
<rect x="174.7" y="175.7" width="12.68" height="5.61" rx="2.52" fill="url(#vg)" fill-opacity="0.3"/>
</g>
<line x1="189.4" y1="178.5" x2="190.6" y2="178.5" stroke="#444" stroke-width="0.5"/>
<text x="190.8" y="180.2" style="font-size:4.9px;stroke-width:0.1px" fill="#222" stroke="#222">100kDa</text>
<text x="138.5" y="193.9" style="font-size:6.4px;stroke-width:0.2px" text-anchor="end" fill="#111" stroke="#111">&#946;-catenin</text>
<rect x="142.2" y="186.3" width="46.6" height="10.6" fill="#c6cacd" stroke="#5a5a5a" stroke-width="0.8"/>
<clipPath id="cb10"><rect x="142.6" y="186.7" width="45.8" height="9.8"/></clipPath><g clip-path="url(#cb10)">
<rect x="142.84" y="189.33" width="14.26" height="5.61" rx="2.52" fill="url(#vg)" fill-opacity="1"/>
<rect x="159.16" y="189.83" width="12.68" height="4.61" rx="2.07" fill="url(#vg)" fill-opacity="0.6"/>
<rect x="174.7" y="189.83" width="12.68" height="4.61" rx="2.07" fill="url(#vg)" fill-opacity="0.65"/>
</g>
<line x1="189.4" y1="192.34" x2="190.6" y2="192.34" stroke="#444" stroke-width="0.5"/>
<text x="190.8" y="194.04" style="font-size:4.9px;stroke-width:0.1px" fill="#222" stroke="#222">100kDa</text>
<text x="138.5" y="207.1" style="font-size:6.4px;stroke-width:0.2px" text-anchor="end" fill="#111" stroke="#111">Cyclin D1</text>
<rect x="142.2" y="199.5" width="46.6" height="10.6" fill="#8a8d90" stroke="#5a5a5a" stroke-width="0.8"/>
<clipPath id="cb11"><rect x="142.6" y="199.9" width="45.8" height="9.8"/></clipPath><g clip-path="url(#cb11)">
<rect x="142.84" y="200.83" width="14.26" height="9" rx="3.2" fill="url(#vg)" fill-opacity="1"/>
<rect x="158.77" y="201.45" width="13.47" height="7.75" rx="3.2" fill="url(#vg)" fill-opacity="0.35"/>
<rect x="174.3" y="201.45" width="13.47" height="7.75" rx="3.2" fill="url(#vg)" fill-opacity="0.4"/>
</g>
<line x1="189.4" y1="207.77" x2="190.6" y2="207.77" stroke="#444" stroke-width="0.5"/>
<text x="190.8" y="209.47" style="font-size:4.9px;stroke-width:0.1px" fill="#222" stroke="#222">35kDa</text>
<text x="138.5" y="220.6" style="font-size:6.4px;stroke-width:0.2px" text-anchor="end" fill="#111" stroke="#111">PD-L1</text>
<rect x="142.2" y="213" width="46.6" height="10.6" fill="#dde0e2" stroke="#5a5a5a" stroke-width="0.8"/>
<clipPath id="cb12"><rect x="142.6" y="213.4" width="45.8" height="9.8"/></clipPath><g clip-path="url(#cb12)">
<rect x="143.23" y="213.59" width="13.47" height="5.61" rx="2.52" fill="url(#vg)" fill-opacity="1"/>
<rect x="143.23" y="217.26" width="13.47" height="6.32" rx="2.85" fill="url(#vg)" fill-opacity="1"/>
<rect x="179.85" y="214.45" width="2.38" height="3.46" rx="1.56" fill="url(#vg)" fill-opacity="0.8"/>
</g>
<line x1="189.4" y1="222.86" x2="190.6" y2="222.86" stroke="#444" stroke-width="0.5"/>
<text x="190.8" y="224.56" style="font-size:4.9px;stroke-width:0.1px" fill="#222" stroke="#222">35kDa</text>
<text x="138.5" y="233.8" style="font-size:6.4px;stroke-width:0.2px" text-anchor="end" fill="#111" stroke="#111">CD47</text>
<rect x="142.2" y="226.2" width="46.6" height="10.6" fill="#8c8f92" stroke="#5a5a5a" stroke-width="0.8"/>
<clipPath id="cb13"><rect x="142.6" y="226.6" width="45.8" height="9.8"/></clipPath><g clip-path="url(#cb13)">
<rect x="143.23" y="228.34" width="13.47" height="6.32" rx="2.85" fill="url(#vg)" fill-opacity="0.85"/>
<rect x="158.77" y="228.7" width="13.47" height="5.61" rx="2.52" fill="url(#vg)" fill-opacity="0.7"/>
<rect x="174.3" y="228.34" width="13.47" height="6.32" rx="2.85" fill="url(#vg)" fill-opacity="0.8"/>
</g>
<line x1="189.4" y1="232.03" x2="190.6" y2="232.03" stroke="#444" stroke-width="0.5"/>
<text x="190.8" y="233.73" style="font-size:4.9px;stroke-width:0.1px" fill="#222" stroke="#222">40kDa</text>
<text x="138.5" y="246.9" style="font-size:6.4px;stroke-width:0.2px" text-anchor="end" fill="#111" stroke="#111">CD24</text>
<rect x="142.2" y="239.3" width="46.6" height="10.6" fill="#babec1" stroke="#5a5a5a" stroke-width="0.8"/>
<clipPath id="cb14"><rect x="142.6" y="239.7" width="45.8" height="9.8"/></clipPath><g clip-path="url(#cb14)">
<rect x="142.84" y="241.8" width="14.26" height="5.61" rx="2.52" fill="url(#vg)" fill-opacity="0.95"/>
<rect x="158.37" y="241.8" width="14.26" height="5.61" rx="2.52" fill="url(#vg)" fill-opacity="0.95"/>
<rect x="173.9" y="241.8" width="14.26" height="5.61" rx="2.52" fill="url(#vg)" fill-opacity="0.95"/>
</g>
<line x1="189.4" y1="242.8" x2="190.6" y2="242.8" stroke="#444" stroke-width="0.5"/>
<text x="190.8" y="244.5" style="font-size:4.9px;stroke-width:0.1px" fill="#222" stroke="#222">15kDa</text>
<text x="138.5" y="259.9" style="font-size:6.4px;stroke-width:0.2px" text-anchor="end" fill="#111" stroke="#111">B2M</text>
<rect x="142.2" y="252.3" width="46.6" height="10.6" fill="#bcc0c3" stroke="#5a5a5a" stroke-width="0.8"/>
<clipPath id="cb15"><rect x="142.6" y="252.7" width="45.8" height="9.8"/></clipPath><g clip-path="url(#cb15)">
<rect x="142.36" y="253.1" width="15.21" height="9" rx="3.2" fill="url(#vg)" fill-opacity="1"/>
<rect x="157.89" y="253.1" width="15.21" height="9" rx="3.2" fill="url(#vg)" fill-opacity="1"/>
<rect x="173.43" y="253.1" width="15.21" height="9" rx="3.2" fill="url(#vg)" fill-opacity="1"/>
</g>
<line x1="189.4" y1="255.37" x2="190.6" y2="255.37" stroke="#444" stroke-width="0.5"/>
<text x="190.8" y="257.07" style="font-size:4.9px;stroke-width:0.1px" fill="#222" stroke="#222">15kDa</text>
<text x="138.5" y="273" style="font-size:6.4px;stroke-width:0.2px" text-anchor="end" fill="#111" stroke="#111">GAPDH</text>
<rect x="142.2" y="265.4" width="46.6" height="10.6" fill="#c6cacd" stroke="#5a5a5a" stroke-width="0.8"/>
<clipPath id="cb16"><rect x="142.6" y="265.8" width="45.8" height="9.8"/></clipPath><g clip-path="url(#cb16)">
<rect x="142.84" y="267.9" width="14.26" height="5.61" rx="2.52" fill="url(#vg)" fill-opacity="0.95"/>
<rect x="158.37" y="267.9" width="14.26" height="5.61" rx="2.52" fill="url(#vg)" fill-opacity="0.95"/>
<rect x="173.9" y="267.9" width="14.26" height="5.61" rx="2.52" fill="url(#vg)" fill-opacity="0.95"/>
</g>
<line x1="189.4" y1="273.03" x2="190.6" y2="273.03" stroke="#444" stroke-width="0.5"/>
<text x="190.8" y="274.73" style="font-size:4.9px;stroke-width:0.1px" fill="#222" stroke="#222">35kDa</text>
<text transform="translate(267.4,154.5) scale(1,1.07)" x="0" y="0" style="font-size:7.8px;stroke-width:0.2px" text-anchor="middle" fill="#111" stroke="#111">528</text>
<path d="M246.6,161.2 V157.2 H291.8 V161.2" stroke="#555" stroke-width="0.7" fill="none"/>
<text x="242.2" y="168.9" style="font-size:6.4px;stroke-width:0.2px" text-anchor="end" fill="#111" stroke="#111">shICAM1</text>
<text x="253.8" y="168.9" style="font-size:6.4px;stroke-width:0.2px" text-anchor="middle" fill="#111" stroke="#111">Ctrl</text>
<text x="268.4" y="168.9" style="font-size:6.4px;stroke-width:0.2px" text-anchor="middle" fill="#111" stroke="#111">#1</text>
<text x="283.3" y="168.9" style="font-size:6.4px;stroke-width:0.2px" text-anchor="middle" fill="#111" stroke="#111">#2</text>
<text x="242.2" y="180.8" style="font-size:6.4px;stroke-width:0.2px" text-anchor="end" fill="#111" stroke="#111">ICAM1</text>
<rect x="246.2" y="173.2" width="46.1" height="10.6" fill="#d5d8db" stroke="#5a5a5a" stroke-width="0.8"/>
<clipPath id="cb17"><rect x="246.6" y="173.6" width="45.3" height="9.8"/></clipPath><g clip-path="url(#cb17)">
<rect x="247.22" y="174" width="13.32" height="9" rx="3.2" fill="url(#vg)" fill-opacity="1"/>
<rect x="262.98" y="175.34" width="12.54" height="6.32" rx="2.85" fill="url(#vg)" fill-opacity="0.15"/>
<rect x="278.35" y="175.34" width="12.54" height="6.32" rx="2.85" fill="url(#vg)" fill-opacity="0.12"/>
</g>
<line x1="292.9" y1="178.92" x2="294.1" y2="178.92" stroke="#444" stroke-width="0.5"/>
<text x="294.3" y="180.62" style="font-size:4.9px;stroke-width:0.1px" fill="#222" stroke="#222">100kDa</text>
<text x="242.2" y="193.9" style="font-size:6.4px;stroke-width:0.2px" text-anchor="end" fill="#111" stroke="#111">&#946;-catenin</text>
<rect x="246.2" y="186.3" width="46.1" height="10.6" fill="#d5d8db" stroke="#5a5a5a" stroke-width="0.8"/>
<clipPath id="cb18"><rect x="246.6" y="186.7" width="45.3" height="9.8"/></clipPath><g clip-path="url(#cb18)">
<rect x="247.22" y="185.6" width="13.32" height="7.75" rx="3.2" fill="url(#vg)" fill-opacity="1"/>
<rect x="247.22" y="191.8" width="13.32" height="4.89" rx="2.2" fill="url(#vg)" fill-opacity="0.9"/>
</g>
<line x1="292.9" y1="192.34" x2="294.1" y2="192.34" stroke="#444" stroke-width="0.5"/>
<text x="294.3" y="194.04" style="font-size:4.9px;stroke-width:0.1px" fill="#222" stroke="#222">100kDa</text>
<text x="242.2" y="207.1" style="font-size:6.4px;stroke-width:0.2px" text-anchor="end" fill="#111" stroke="#111">Cyclin D1</text>
<rect x="246.2" y="199.5" width="46.1" height="10.6" fill="#878b8e" stroke="#5a5a5a" stroke-width="0.8"/>
<clipPath id="cb19"><rect x="246.6" y="199.9" width="45.3" height="9.8"/></clipPath><g clip-path="url(#cb19)">
<rect x="246.44" y="200.3" width="14.89" height="9" rx="3.2" fill="url(#vg)" fill-opacity="1"/>
<rect x="262.59" y="200.3" width="13.32" height="9" rx="3.2" fill="url(#vg)" fill-opacity="0.3"/>
<rect x="277.96" y="200.3" width="13.32" height="9" rx="3.2" fill="url(#vg)" fill-opacity="0.25"/>
</g>
<line x1="292.9" y1="209.25" x2="294.1" y2="209.25" stroke="#444" stroke-width="0.5"/>
<text x="294.3" y="210.95" style="font-size:4.9px;stroke-width:0.1px" fill="#222" stroke="#222">35kDa</text>
<text x="242.2" y="220.6" style="font-size:6.4px;stroke-width:0.2px" text-anchor="end" fill="#111" stroke="#111">PD-L1</text>
<rect x="246.2" y="213" width="46.1" height="10.6" fill="#d0d3d6" stroke="#5a5a5a" stroke-width="0.8"/>
<clipPath id="cb20"><rect x="246.6" y="213.4" width="45.3" height="9.8"/></clipPath><g clip-path="url(#cb20)">
<rect x="246.83" y="213.27" width="14.11" height="9" rx="3.2" fill="url(#vg)" fill-opacity="1"/>
<rect x="262.59" y="214.98" width="13.32" height="3.46" rx="1.56" fill="url(#vg)" fill-opacity="0.75"/>
<rect x="262.59" y="218.16" width="13.32" height="3.46" rx="1.56" fill="url(#vg)" fill-opacity="0.75"/>
<rect x="277.96" y="214.98" width="13.32" height="3.46" rx="1.56" fill="url(#vg)" fill-opacity="0.8"/>
<rect x="277.96" y="218.16" width="13.32" height="3.46" rx="1.56" fill="url(#vg)" fill-opacity="0.8"/>
</g>
<line x1="292.9" y1="222.86" x2="294.1" y2="222.86" stroke="#444" stroke-width="0.5"/>
<text x="294.3" y="224.56" style="font-size:4.9px;stroke-width:0.1px" fill="#222" stroke="#222">35kDa</text>
<text x="242.2" y="233.8" style="font-size:6.4px;stroke-width:0.2px" text-anchor="end" fill="#111" stroke="#111">CD47</text>
<rect x="246.2" y="226.2" width="46.1" height="10.6" fill="#d5d8db" stroke="#5a5a5a" stroke-width="0.8"/>
<clipPath id="cb21"><rect x="246.6" y="226.6" width="45.3" height="9.8"/></clipPath><g clip-path="url(#cb21)">
<rect x="247.22" y="227" width="13.32" height="9" rx="3.2" fill="url(#vg)" fill-opacity="1"/>
<rect x="262.98" y="228.34" width="12.54" height="6.32" rx="2.85" fill="url(#vg)" fill-opacity="0.15"/>
<rect x="278.35" y="228.34" width="12.54" height="6.32" rx="2.85" fill="url(#vg)" fill-opacity="0.1"/>
</g>
<line x1="292.9" y1="235.21" x2="294.1" y2="235.21" stroke="#444" stroke-width="0.5"/>
<text x="294.3" y="236.91" style="font-size:4.9px;stroke-width:0.1px" fill="#222" stroke="#222">35kDa</text>
<text x="242.2" y="246.9" style="font-size:6.4px;stroke-width:0.2px" text-anchor="end" fill="#111" stroke="#111">CD24</text>
<rect x="246.2" y="239.3" width="46.1" height="10.6" fill="#bfc3c6" stroke="#5a5a5a" stroke-width="0.8"/>
<clipPath id="cb22"><rect x="246.6" y="239.7" width="45.3" height="9.8"/></clipPath><g clip-path="url(#cb22)">
<rect x="246.83" y="241.8" width="14.11" height="5.61" rx="2.52" fill="url(#vg)" fill-opacity="0.95"/>
<rect x="262.2" y="241.8" width="14.11" height="5.61" rx="2.52" fill="url(#vg)" fill-opacity="0.95"/>
<rect x="277.17" y="241.08" width="14.89" height="7.04" rx="3.17" fill="url(#vg)" fill-opacity="1"/>
</g>
<line x1="292.9" y1="245.98" x2="294.1" y2="245.98" stroke="#444" stroke-width="0.5"/>
<text x="294.3" y="247.68" style="font-size:4.9px;stroke-width:0.1px" fill="#222" stroke="#222">15kDa</text>
<text x="242.2" y="259.9" style="font-size:6.4px;stroke-width:0.2px" text-anchor="end" fill="#111" stroke="#111">B2M</text>
<rect x="246.2" y="252.3" width="46.1" height="10.6" fill="#c8ccd0" stroke="#5a5a5a" stroke-width="0.8"/>
<clipPath id="cb23"><rect x="246.6" y="252.7" width="45.3" height="9.8"/></clipPath><g clip-path="url(#cb23)">
<rect x="248.01" y="254.8" width="11.76" height="5.61" rx="2.52" fill="url(#vg)" fill-opacity="0.85"/>
<rect x="262.2" y="254.29" width="14.11" height="6.61" rx="2.97" fill="url(#vg)" fill-opacity="0.95"/>
<rect x="277.56" y="254.29" width="14.11" height="6.61" rx="2.97" fill="url(#vg)" fill-opacity="0.95"/>
</g>
<line x1="292.9" y1="254.74" x2="294.1" y2="254.74" stroke="#444" stroke-width="0.5"/>
<text x="294.3" y="256.44" style="font-size:4.9px;stroke-width:0.1px" fill="#222" stroke="#222">15kDa</text>
<text x="242.2" y="273" style="font-size:6.4px;stroke-width:0.2px" text-anchor="end" fill="#111" stroke="#111">GAPDH</text>
<rect x="246.2" y="265.4" width="46.1" height="10.6" fill="#c8ccd0" stroke="#5a5a5a" stroke-width="0.8"/>
<clipPath id="cb24"><rect x="246.6" y="265.8" width="45.3" height="9.8"/></clipPath><g clip-path="url(#cb24)">
<rect x="246.83" y="267.9" width="14.11" height="5.61" rx="2.52" fill="url(#vg)" fill-opacity="0.95"/>
<rect x="262.2" y="267.9" width="14.11" height="5.61" rx="2.52" fill="url(#vg)" fill-opacity="0.95"/>
<rect x="277.56" y="267.9" width="14.11" height="5.61" rx="2.52" fill="url(#vg)" fill-opacity="0.95"/>
</g>
<line x1="292.9" y1="273.03" x2="294.1" y2="273.03" stroke="#444" stroke-width="0.5"/>
<text x="294.3" y="274.73" style="font-size:4.9px;stroke-width:0.1px" fill="#222" stroke="#222">35kDa</text>
<text x="320.7" y="148.8" style="font-size:10px;stroke-width:0.2px;font-weight:bold" fill="#000" stroke="#000">f</text>
<text transform="translate(363.8,154.5) scale(1,1.07)" x="0" y="0" style="font-size:7.8px;stroke-width:0.2px" text-anchor="middle" fill="#111" stroke="#111">X01</text>
<path d="M348.2,161.2 V157.2 H379.5 V161.2" stroke="#555" stroke-width="0.7" fill="none"/>
<text x="345" y="168.9" style="font-size:6.4px;stroke-width:0.2px" text-anchor="end" fill="#111" stroke="#111">ICAM1</text>
<text x="356.2" y="168.9" style="font-size:6.4px;stroke-width:0.2px" text-anchor="middle" fill="#111" stroke="#111">-</text>
<text x="370.7" y="168.9" style="font-size:6.4px;stroke-width:0.2px" text-anchor="middle" fill="#111" stroke="#111">+</text>
<text x="345" y="180.8" style="font-size:6.4px;stroke-width:0.2px" text-anchor="end" fill="#111" stroke="#111">ICAM1</text>
<rect x="347.9" y="173.2" width="31.6" height="10.6" fill="#ccd0d3" stroke="#5a5a5a" stroke-width="0.8"/>
<clipPath id="cb25"><rect x="348.3" y="173.6" width="30.8" height="9.8"/></clipPath><g clip-path="url(#cb25)">
<rect x="349.35" y="176.05" width="12.89" height="4.89" rx="2.2" fill="url(#vg)" fill-opacity="0.05"/>
<rect x="364.75" y="175.19" width="13.7" height="6.61" rx="2.97" fill="url(#vg)" fill-opacity="1"/>
</g>
<line x1="380.1" y1="179.56" x2="381.3" y2="179.56" stroke="#444" stroke-width="0.5"/>
<text x="381.5" y="181.26" style="font-size:4.9px;stroke-width:0.1px" fill="#222" stroke="#222">100kDa</text>
<text x="345" y="193.9" style="font-size:6.4px;stroke-width:0.2px" text-anchor="end" fill="#111" stroke="#111">&#946;-catenin</text>
<rect x="347.9" y="186.3" width="31.6" height="10.6" fill="#cbcfd2" stroke="#5a5a5a" stroke-width="0.8"/>
<clipPath id="cb26"><rect x="348.3" y="186.7" width="30.8" height="9.8"/></clipPath><g clip-path="url(#cb26)">
<rect x="348.95" y="189.51" width="13.7" height="4.18" rx="1.88" fill="url(#vg)" fill-opacity="0.75"/>
<rect x="364.35" y="187.1" width="14.5" height="9" rx="3.2" fill="url(#vg)" fill-opacity="1"/>
</g>
<line x1="380.1" y1="191.18" x2="381.3" y2="191.18" stroke="#444" stroke-width="0.5"/>
<text x="381.5" y="192.88" style="font-size:4.9px;stroke-width:0.1px" fill="#222" stroke="#222">100kDa</text>
<text x="345" y="207.1" style="font-size:6.4px;stroke-width:0.2px" text-anchor="end" fill="#111" stroke="#111">Cyclin D1</text>
<rect x="347.9" y="199.5" width="31.6" height="10.6" fill="#c0c4c7" stroke="#5a5a5a" stroke-width="0.8"/>
<clipPath id="cb27"><rect x="348.3" y="199.9" width="30.8" height="9.8"/></clipPath><g clip-path="url(#cb27)">
<rect x="348.95" y="200.95" width="13.7" height="3.46" rx="1.56" fill="url(#vg)" fill-opacity="0.25"/>
<rect x="348.95" y="205.05" width="13.7" height="3.75" rx="1.69" fill="url(#vg)" fill-opacity="0.7"/>
<rect x="364.75" y="200.95" width="13.7" height="3.46" rx="1.56" fill="url(#vg)" fill-opacity="0.3"/>
<rect x="364.75" y="204.9" width="13.7" height="4.03" rx="1.82" fill="url(#vg)" fill-opacity="0.8"/>
</g>
<line x1="380.1" y1="207.77" x2="381.3" y2="207.77" stroke="#444" stroke-width="0.5"/>
<text x="381.5" y="209.47" style="font-size:4.9px;stroke-width:0.1px" fill="#222" stroke="#222">35kDa</text>
<text x="345" y="220.6" style="font-size:6.4px;stroke-width:0.2px" text-anchor="end" fill="#111" stroke="#111">PD-L1</text>
<rect x="347.9" y="213" width="31.6" height="10.6" fill="#ccd0d3" stroke="#5a5a5a" stroke-width="0.8"/>
<clipPath id="cb28"><rect x="348.3" y="213.4" width="30.8" height="9.8"/></clipPath><g clip-path="url(#cb28)">
<rect x="348.95" y="215.14" width="13.7" height="6.32" rx="2.85" fill="url(#vg)" fill-opacity="0.95"/>
<rect x="364.75" y="213.8" width="13.7" height="9" rx="3.2" fill="url(#vg)" fill-opacity="1"/>
</g>
<line x1="380.1" y1="221.37" x2="381.3" y2="221.37" stroke="#444" stroke-width="0.5"/>
<text x="381.5" y="223.07" style="font-size:4.9px;stroke-width:0.1px" fill="#222" stroke="#222">35kDa</text>
<text x="345" y="233.8" style="font-size:6.4px;stroke-width:0.2px" text-anchor="end" fill="#111" stroke="#111">CD47</text>
<rect x="347.9" y="226.2" width="31.6" height="10.6" fill="#585b5e" stroke="#5a5a5a" stroke-width="0.8"/>
<clipPath id="cb29"><rect x="348.3" y="226.6" width="30.8" height="9.8"/></clipPath><g clip-path="url(#cb29)">
<rect x="348.95" y="227.62" width="13.7" height="7.75" rx="3.2" fill="url(#vg)" fill-opacity="0.95"/>
<rect x="365.56" y="229.05" width="12.09" height="4.89" rx="2.2" fill="url(#vg)" fill-opacity="0.6"/>
</g>
<line x1="380.1" y1="234.79" x2="381.3" y2="234.79" stroke="#444" stroke-width="0.5"/>
<text x="381.5" y="236.49" style="font-size:4.9px;stroke-width:0.1px" fill="#222" stroke="#222">35kDa</text>
<text x="345" y="246.9" style="font-size:6.4px;stroke-width:0.2px" text-anchor="end" fill="#111" stroke="#111">CD24</text>
<rect x="347.9" y="239.3" width="31.6" height="10.6" fill="#ccd0d3" stroke="#5a5a5a" stroke-width="0.8"/>
<clipPath id="cb30"><rect x="348.3" y="239.7" width="30.8" height="9.8"/></clipPath><g clip-path="url(#cb30)">
<rect x="348.55" y="242.54" width="14.5" height="5.18" rx="2.33" fill="url(#vg)" fill-opacity="0.95"/>
<rect x="364.35" y="242.54" width="14.5" height="5.18" rx="2.33" fill="url(#vg)" fill-opacity="0.95"/>
</g>
<line x1="380.1" y1="241.84" x2="381.3" y2="241.84" stroke="#444" stroke-width="0.5"/>
<text x="381.5" y="243.54" style="font-size:4.9px;stroke-width:0.1px" fill="#222" stroke="#222">15kDa</text>
<text x="345" y="259.9" style="font-size:6.4px;stroke-width:0.2px" text-anchor="end" fill="#111" stroke="#111">B2M</text>
<rect x="347.9" y="252.3" width="31.6" height="10.6" fill="#c9cdd0" stroke="#5a5a5a" stroke-width="0.8"/>
<clipPath id="cb31"><rect x="348.3" y="252.7" width="30.8" height="9.8"/></clipPath><g clip-path="url(#cb31)">
<rect x="348.55" y="255.3" width="14.5" height="4.61" rx="2.07" fill="url(#vg)" fill-opacity="0.95"/>
<rect x="364.35" y="255.3" width="14.5" height="4.61" rx="2.07" fill="url(#vg)" fill-opacity="0.95"/>
</g>
<line x1="380.1" y1="256.01" x2="381.3" y2="256.01" stroke="#444" stroke-width="0.5"/>
<text x="381.5" y="257.71" style="font-size:4.9px;stroke-width:0.1px" fill="#222" stroke="#222">15kDa</text>
<text x="345" y="273" style="font-size:6.4px;stroke-width:0.2px" text-anchor="end" fill="#111" stroke="#111">GAPDH</text>
<rect x="347.9" y="265.4" width="31.6" height="10.6" fill="#c9cdd0" stroke="#5a5a5a" stroke-width="0.8"/>
<clipPath id="cb32"><rect x="348.3" y="265.8" width="30.8" height="9.8"/></clipPath><g clip-path="url(#cb32)">
<rect x="348.55" y="268.4" width="14.5" height="4.61" rx="2.07" fill="url(#vg)" fill-opacity="0.9"/>
<rect x="364.35" y="268.4" width="14.5" height="4.61" rx="2.07" fill="url(#vg)" fill-opacity="0.9"/>
</g>
<line x1="380.1" y1="270.17" x2="381.3" y2="270.17" stroke="#444" stroke-width="0.5"/>
<text x="381.5" y="271.87" style="font-size:4.9px;stroke-width:0.1px" fill="#222" stroke="#222">35kDa</text>
<text transform="translate(451.4,154.5) scale(1,1.07)" x="0" y="0" style="font-size:7.8px;stroke-width:0.2px" text-anchor="middle" fill="#111" stroke="#111">131</text>
<path d="M436.1,161.2 V157.2 H467.4 V161.2" stroke="#555" stroke-width="0.7" fill="none"/>
<text x="433.4" y="168.9" style="font-size:6.4px;stroke-width:0.2px" text-anchor="end" fill="#111" stroke="#111">ICAM1</text>
<text x="443.7" y="168.9" style="font-size:6.4px;stroke-width:0.2px" text-anchor="middle" fill="#111" stroke="#111">-</text>
<text x="458.6" y="168.9" style="font-size:6.4px;stroke-width:0.2px" text-anchor="middle" fill="#111" stroke="#111">+</text>
<text x="433.4" y="180.8" style="font-size:6.4px;stroke-width:0.2px" text-anchor="end" fill="#111" stroke="#111">ICAM1</text>
<rect x="436.1" y="173.2" width="31.3" height="10.6" fill="#d0d4d7" stroke="#5a5a5a" stroke-width="0.8"/>
<clipPath id="cb33"><rect x="436.5" y="173.6" width="30.5" height="9.8"/></clipPath><g clip-path="url(#cb33)">
<rect x="452.79" y="175.19" width="13.57" height="6.61" rx="2.97" fill="url(#vg)" fill-opacity="1"/>
</g>
<line x1="468" y1="179.14" x2="469.2" y2="179.14" stroke="#444" stroke-width="0.5"/>
<text x="469.4" y="180.84" style="font-size:4.9px;stroke-width:0.1px" fill="#222" stroke="#222">100kDa</text>
<text x="433.4" y="193.9" style="font-size:6.4px;stroke-width:0.2px" text-anchor="end" fill="#111" stroke="#111">&#946;-catenin</text>
<rect x="436.1" y="186.3" width="31.3" height="10.6" fill="#a8acaf" stroke="#5a5a5a" stroke-width="0.8"/>
<clipPath id="cb34"><rect x="436.5" y="186.7" width="30.5" height="9.8"/></clipPath><g clip-path="url(#cb34)">
<rect x="437.14" y="188.87" width="13.57" height="5.47" rx="2.46" fill="url(#vg)" fill-opacity="0.95"/>
<rect x="452.79" y="188.87" width="13.57" height="5.47" rx="2.46" fill="url(#vg)" fill-opacity="0.95"/>
</g>
<line x1="468" y1="190.43" x2="469.2" y2="190.43" stroke="#444" stroke-width="0.5"/>
<text x="469.4" y="192.13" style="font-size:4.9px;stroke-width:0.1px" fill="#222" stroke="#222">100kDa</text>
<text x="433.4" y="207.1" style="font-size:6.4px;stroke-width:0.2px" text-anchor="end" fill="#111" stroke="#111">Cyclin D1</text>
<rect x="436.1" y="199.5" width="31.3" height="10.6" fill="#d5d8db" stroke="#5a5a5a" stroke-width="0.8"/>
<clipPath id="cb35"><rect x="436.5" y="199.9" width="30.5" height="9.8"/></clipPath><g clip-path="url(#cb35)">
<rect x="437.54" y="205.55" width="12.77" height="2.75" rx="1.24" fill="url(#vg)" fill-opacity="0.2"/>
<rect x="452.79" y="200.95" width="13.57" height="3.46" rx="1.56" fill="url(#vg)" fill-opacity="0.25"/>
<rect x="452.79" y="204.76" width="13.57" height="4.32" rx="1.94" fill="url(#vg)" fill-opacity="0.85"/>
</g>
<line x1="468" y1="206.92" x2="469.2" y2="206.92" stroke="#444" stroke-width="0.5"/>
<text x="469.4" y="208.62" style="font-size:4.9px;stroke-width:0.1px" fill="#222" stroke="#222">35kDa</text>
<text x="433.4" y="220.6" style="font-size:6.4px;stroke-width:0.2px" text-anchor="end" fill="#111" stroke="#111">PD-L1</text>
<rect x="436.1" y="213" width="31.3" height="10.6" fill="#b0b4b7" stroke="#5a5a5a" stroke-width="0.8"/>
<clipPath id="cb36"><rect x="436.5" y="213.4" width="30.5" height="9.8"/></clipPath><g clip-path="url(#cb36)">
<rect x="437.14" y="216.14" width="13.57" height="4.32" rx="1.94" fill="url(#vg)" fill-opacity="0.85"/>
<rect x="452.79" y="214.16" width="13.57" height="4.03" rx="1.82" fill="url(#vg)" fill-opacity="0.85"/>
<rect x="452.79" y="217.76" width="13.57" height="4.89" rx="2.2" fill="url(#vg)" fill-opacity="0.95"/>
</g>
<line x1="468" y1="221.37" x2="469.2" y2="221.37" stroke="#444" stroke-width="0.5"/>
<text x="469.4" y="223.07" style="font-size:4.9px;stroke-width:0.1px" fill="#222" stroke="#222">35kDa</text>
<text x="433.4" y="233.8" style="font-size:6.4px;stroke-width:0.2px" text-anchor="end" fill="#111" stroke="#111">CD47</text>
<rect x="436.1" y="226.2" width="31.3" height="10.6" fill="#a9adb0" stroke="#5a5a5a" stroke-width="0.8"/>
<clipPath id="cb37"><rect x="436.5" y="226.6" width="30.5" height="9.8"/></clipPath><g clip-path="url(#cb37)">
<rect x="436.74" y="227.62" width="14.37" height="7.75" rx="3.2" fill="url(#vg)" fill-opacity="1"/>
<rect x="452.39" y="227.62" width="14.37" height="7.75" rx="3.2" fill="url(#vg)" fill-opacity="1"/>
</g>
<line x1="468" y1="233.94" x2="469.2" y2="233.94" stroke="#444" stroke-width="0.5"/>
<text x="469.4" y="235.64" style="font-size:4.9px;stroke-width:0.1px" fill="#222" stroke="#222">35kDa</text>
<text x="433.4" y="246.9" style="font-size:6.4px;stroke-width:0.2px" text-anchor="end" fill="#111" stroke="#111">CD24</text>
<rect x="436.1" y="239.3" width="31.3" height="10.6" fill="#c0c4c7" stroke="#5a5a5a" stroke-width="0.8"/>
<clipPath id="cb38"><rect x="436.5" y="239.7" width="30.5" height="9.8"/></clipPath><g clip-path="url(#cb38)">
<rect x="436.74" y="241.72" width="14.37" height="5.75" rx="2.59" fill="url(#vg)" fill-opacity="0.95"/>
<rect x="452.39" y="241.72" width="14.37" height="5.75" rx="2.59" fill="url(#vg)" fill-opacity="0.95"/>
</g>
<line x1="468" y1="241.53" x2="469.2" y2="241.53" stroke="#444" stroke-width="0.5"/>
<text x="469.4" y="243.23" style="font-size:4.9px;stroke-width:0.1px" fill="#222" stroke="#222">15kDa</text>
<text x="433.4" y="259.9" style="font-size:6.4px;stroke-width:0.2px" text-anchor="end" fill="#111" stroke="#111">B2M</text>
<rect x="436.1" y="252.3" width="31.3" height="10.6" fill="#a8acaf" stroke="#5a5a5a" stroke-width="0.8"/>
<clipPath id="cb39"><rect x="436.5" y="252.7" width="30.5" height="9.8"/></clipPath><g clip-path="url(#cb39)">
<rect x="436.74" y="254.58" width="14.37" height="6.04" rx="2.72" fill="url(#vg)" fill-opacity="0.95"/>
<rect x="452.39" y="254.58" width="14.37" height="6.04" rx="2.72" fill="url(#vg)" fill-opacity="0.95"/>
</g>
<line x1="468" y1="255.06" x2="469.2" y2="255.06" stroke="#444" stroke-width="0.5"/>
<text x="469.4" y="256.76" style="font-size:4.9px;stroke-width:0.1px" fill="#222" stroke="#222">15kDa</text>
<text x="433.4" y="273" style="font-size:6.4px;stroke-width:0.2px" text-anchor="end" fill="#111" stroke="#111">GAPDH</text>
<rect x="436.1" y="265.4" width="31.3" height="10.6" fill="#c8ccd0" stroke="#5a5a5a" stroke-width="0.8"/>
<clipPath id="cb40"><rect x="436.5" y="265.8" width="30.5" height="9.8"/></clipPath><g clip-path="url(#cb40)">
<rect x="436.58" y="268.25" width="14.69" height="4.89" rx="2.2" fill="url(#vg)" fill-opacity="0.95"/>
<rect x="452.23" y="268.25" width="14.69" height="4.89" rx="2.2" fill="url(#vg)" fill-opacity="0.95"/>
</g>
<line x1="468" y1="273.03" x2="469.2" y2="273.03" stroke="#444" stroke-width="0.5"/>
<text x="469.4" y="274.73" style="font-size:4.9px;stroke-width:0.1px" fill="#222" stroke="#222">35kDa</text>
<text transform="translate(540.1,154.5) scale(1,1.07)" x="0" y="0" style="font-size:7.8px;stroke-width:0.2px" text-anchor="middle" fill="#111" stroke="#111">GL261</text>
<path d="M525,161.2 V157.2 H556.3 V161.2" stroke="#555" stroke-width="0.7" fill="none"/>
<text x="522.9" y="168.9" style="font-size:6.4px;stroke-width:0.2px" text-anchor="end" fill="#111" stroke="#111">ICAM1</text>
<text x="533" y="168.9" style="font-size:6.4px;stroke-width:0.2px" text-anchor="middle" fill="#111" stroke="#111">-</text>
<text x="547.5" y="168.9" style="font-size:6.4px;stroke-width:0.2px" text-anchor="middle" fill="#111" stroke="#111">+</text>
<text x="522.9" y="180.8" style="font-size:6.4px;stroke-width:0.2px" text-anchor="end" fill="#111" stroke="#111">ICAM1</text>
<rect x="525" y="173.2" width="31.3" height="10.6" fill="#bcc0c3" stroke="#5a5a5a" stroke-width="0.8"/>
<clipPath id="cb41"><rect x="525.4" y="173.6" width="30.5" height="9.8"/></clipPath><g clip-path="url(#cb41)">
<rect x="526.44" y="176.34" width="12.77" height="4.32" rx="1.94" fill="url(#vg)" fill-opacity="0.55"/>
<rect x="541.13" y="175.19" width="14.69" height="6.61" rx="2.97" fill="url(#vg)" fill-opacity="1"/>
</g>
<line x1="556.9" y1="178.5" x2="558.1" y2="178.5" stroke="#444" stroke-width="0.5"/>
<text x="558.3" y="180.2" style="font-size:4.9px;stroke-width:0.1px" fill="#222" stroke="#222">100kDa</text>
<text x="522.9" y="193.9" style="font-size:6.4px;stroke-width:0.2px" text-anchor="end" fill="#111" stroke="#111">&#946;-catenin</text>
<rect x="525" y="186.3" width="31.3" height="10.6" fill="#d5d8db" stroke="#5a5a5a" stroke-width="0.8"/>
<clipPath id="cb42"><rect x="525.4" y="186.7" width="30.5" height="9.8"/></clipPath><g clip-path="url(#cb42)">
<rect x="526.44" y="187.89" width="12.77" height="3.18" rx="1.43" fill="url(#vg)" fill-opacity="0.15"/>
<rect x="541.29" y="189.08" width="14.37" height="5.47" rx="2.46" fill="url(#vg)" fill-opacity="1"/>
</g>
<line x1="556.9" y1="190.43" x2="558.1" y2="190.43" stroke="#444" stroke-width="0.5"/>
<text x="558.3" y="192.13" style="font-size:4.9px;stroke-width:0.1px" fill="#222" stroke="#222">100kDa</text>
<text x="522.9" y="207.1" style="font-size:6.4px;stroke-width:0.2px" text-anchor="end" fill="#111" stroke="#111">Cyclin D1</text>
<rect x="525" y="199.5" width="31.3" height="10.6" fill="#b4b8bb" stroke="#5a5a5a" stroke-width="0.8"/>
<clipPath id="cb43"><rect x="525.4" y="199.9" width="30.5" height="9.8"/></clipPath><g clip-path="url(#cb43)">
<rect x="525.8" y="202.35" width="14.05" height="4.89" rx="2.2" fill="url(#vg)" fill-opacity="0.65"/>
<rect x="541.29" y="202.07" width="14.37" height="5.47" rx="2.46" fill="url(#vg)" fill-opacity="0.85"/>
</g>
<line x1="556.9" y1="206.92" x2="558.1" y2="206.92" stroke="#444" stroke-width="0.5"/>
<text x="558.3" y="208.62" style="font-size:4.9px;stroke-width:0.1px" fill="#222" stroke="#222">35kDa</text>
<text x="522.9" y="220.6" style="font-size:6.4px;stroke-width:0.2px" text-anchor="end" fill="#111" stroke="#111">PD-L1</text>
<rect x="525" y="213" width="31.3" height="10.6" fill="#ccd0d3" stroke="#5a5a5a" stroke-width="0.8"/>
<clipPath id="cb44"><rect x="525.4" y="213.4" width="30.5" height="9.8"/></clipPath><g clip-path="url(#cb44)">
<rect x="526.44" y="216.43" width="12.77" height="3.75" rx="1.69" fill="url(#vg)" fill-opacity="0.85"/>
<rect x="541.29" y="215.42" width="14.37" height="5.75" rx="2.59" fill="url(#vg)" fill-opacity="1"/>
</g>
<line x1="556.9" y1="220.95" x2="558.1" y2="220.95" stroke="#444" stroke-width="0.5"/>
<text x="558.3" y="222.65" style="font-size:4.9px;stroke-width:0.1px" fill="#222" stroke="#222">35kDa</text>
<text x="522.9" y="233.8" style="font-size:6.4px;stroke-width:0.2px" text-anchor="end" fill="#111" stroke="#111">CD47</text>
<rect x="525" y="226.2" width="31.3" height="10.6" fill="#94989b" stroke="#5a5a5a" stroke-width="0.8"/>
<clipPath id="cb45"><rect x="525.4" y="226.6" width="30.5" height="9.8"/></clipPath><g clip-path="url(#cb45)">
<rect x="526.44" y="227.62" width="12.77" height="7.75" rx="3.2" fill="url(#vg)" fill-opacity="0.25"/>
<rect x="541.29" y="226.47" width="14.37" height="9" rx="3.2" fill="url(#vg)" fill-opacity="0.55"/>
</g>
<line x1="556.9" y1="232.35" x2="558.1" y2="232.35" stroke="#444" stroke-width="0.5"/>
<text x="558.3" y="234.05" style="font-size:4.9px;stroke-width:0.1px" fill="#222" stroke="#222">35kDa</text>
<text x="522.9" y="246.9" style="font-size:6.4px;stroke-width:0.2px" text-anchor="end" fill="#111" stroke="#111">CD24</text>
<rect x="525" y="239.3" width="31.3" height="10.6" fill="#55585b" stroke="#5a5a5a" stroke-width="0.8"/>
<clipPath id="cb46"><rect x="525.4" y="239.7" width="30.5" height="9.8"/></clipPath><g clip-path="url(#cb46)">
<rect x="525.24" y="240.1" width="15.16" height="9" rx="3.2" fill="url(#vg)" fill-opacity="0.9"/>
<rect x="540.89" y="240.1" width="15.16" height="9" rx="3.2" fill="url(#vg)" fill-opacity="0.9"/>
</g>
<line x1="556.9" y1="241.84" x2="558.1" y2="241.84" stroke="#444" stroke-width="0.5"/>
<text x="558.3" y="243.54" style="font-size:4.9px;stroke-width:0.1px" fill="#222" stroke="#222">15kDa</text>
<text x="522.9" y="259.9" style="font-size:6.4px;stroke-width:0.2px" text-anchor="end" fill="#111" stroke="#111">B2M</text>
<rect x="525" y="252.3" width="31.3" height="10.6" fill="#bdc1c4" stroke="#5a5a5a" stroke-width="0.8"/>
<clipPath id="cb47"><rect x="525.4" y="252.7" width="30.5" height="9.8"/></clipPath><g clip-path="url(#cb47)">
<rect x="525.64" y="255.44" width="14.37" height="4.32" rx="1.94" fill="url(#vg)" fill-opacity="0.85"/>
<rect x="541.29" y="255.44" width="14.37" height="4.32" rx="1.94" fill="url(#vg)" fill-opacity="0.85"/>
</g>
<line x1="556.9" y1="255.06" x2="558.1" y2="255.06" stroke="#444" stroke-width="0.5"/>
<text x="558.3" y="256.76" style="font-size:4.9px;stroke-width:0.1px" fill="#222" stroke="#222">15kDa</text>
<text x="522.9" y="273" style="font-size:6.4px;stroke-width:0.2px" text-anchor="end" fill="#111" stroke="#111">GAPDH</text>
<rect x="525" y="265.4" width="31.3" height="10.6" fill="#ccd0d3" stroke="#5a5a5a" stroke-width="0.8"/>
<clipPath id="cb48"><rect x="525.4" y="265.8" width="30.5" height="9.8"/></clipPath><g clip-path="url(#cb48)">
<rect x="525.64" y="268.54" width="14.37" height="4.32" rx="1.94" fill="url(#vg)" fill-opacity="0.9"/>
<rect x="541.29" y="268.54" width="14.37" height="4.32" rx="1.94" fill="url(#vg)" fill-opacity="0.9"/>
</g>
<line x1="556.9" y1="272.08" x2="558.1" y2="272.08" stroke="#444" stroke-width="0.5"/>
<text x="558.3" y="273.78" style="font-size:4.9px;stroke-width:0.1px" fill="#222" stroke="#222">35kDa</text>
<text x="18.2" y="302.6" style="font-size:10px;stroke-width:0.2px;font-weight:bold" fill="#000" stroke="#000">i</text>
<text transform="translate(68.3,304.9) scale(1,1.07)" x="0" y="0" style="font-size:7.8px;stroke-width:0.2px" text-anchor="middle" fill="#111" stroke="#111">528</text>
<path d="M37.3,311.5 V307.5 H99 V311.5" stroke="#555" stroke-width="0.7" fill="none"/>
<text x="33.3" y="317.2" style="font-size:6.4px;stroke-width:0.2px" text-anchor="end" fill="#111" stroke="#111">Anti-ICAM1</text>
<text x="45.2" y="317.2" style="font-size:6.4px;stroke-width:0.2px" text-anchor="middle" fill="#111" stroke="#111">0</text>
<text x="59.2" y="317.2" style="font-size:6.4px;stroke-width:0.2px" text-anchor="middle" fill="#111" stroke="#111">1</text>
<text x="73.2" y="317.2" style="font-size:6.4px;stroke-width:0.2px" text-anchor="middle" fill="#111" stroke="#111">2</text>
<text x="89.3" y="317.2" style="font-size:6.4px;stroke-width:0.2px" text-anchor="middle" fill="#111" stroke="#111">4</text>
<text x="99.3" y="317.2" style="font-size:6.4px;stroke-width:0.2px" fill="#111" stroke="#111">&#956;g/ml</text>
<text x="33.6" y="329.1" style="font-size:6.4px;stroke-width:0.2px" text-anchor="end" fill="#111" stroke="#111">&#946;-catenin</text>
<rect x="37.3" y="321.5" width="61.3" height="11" fill="#c4c8cb" stroke="#5a5a5a" stroke-width="0.8"/>
<clipPath id="cb49"><rect x="37.7" y="321.9" width="60.5" height="10.2"/></clipPath><g clip-path="url(#cb49)">
<rect x="38.32" y="324.32" width="13.29" height="5.35" rx="2.41" fill="url(#vg)" fill-opacity="0.95"/>
<rect x="53.64" y="324.47" width="13.29" height="5.05" rx="2.27" fill="url(#vg)" fill-opacity="0.9"/>
<rect x="69.36" y="324.62" width="12.51" height="4.76" rx="2.14" fill="url(#vg)" fill-opacity="0.85"/>
<rect x="84.68" y="324.62" width="12.51" height="4.76" rx="2.14" fill="url(#vg)" fill-opacity="0.8"/>
</g>
<line x1="99.2" y1="328.54" x2="100.4" y2="328.54" stroke="#444" stroke-width="0.5"/>
<text x="100.6" y="330.24" style="font-size:4.9px;stroke-width:0.1px" fill="#222" stroke="#222">100kDa</text>
<text x="33.6" y="342.3" style="font-size:6.4px;stroke-width:0.2px" text-anchor="end" fill="#111" stroke="#111">Cyclin D1</text>
<rect x="37.3" y="334.7" width="61.3" height="11" fill="#b4b8bb" stroke="#5a5a5a" stroke-width="0.8"/>
<clipPath id="cb50"><rect x="37.7" y="335.1" width="60.5" height="10.2"/></clipPath><g clip-path="url(#cb50)">
<rect x="37.93" y="336.34" width="14.07" height="7.73" rx="3.2" fill="url(#vg)" fill-opacity="1"/>
<rect x="53.25" y="336.34" width="14.07" height="7.73" rx="3.2" fill="url(#vg)" fill-opacity="1"/>
<rect x="68.97" y="336.93" width="13.29" height="6.54" rx="2.94" fill="url(#vg)" fill-opacity="0.9"/>
<rect x="84.68" y="337.08" width="12.51" height="6.24" rx="2.81" fill="url(#vg)" fill-opacity="0.85"/>
</g>
<line x1="99.2" y1="340.75" x2="100.4" y2="340.75" stroke="#444" stroke-width="0.5"/>
<text x="100.6" y="342.45" style="font-size:4.9px;stroke-width:0.1px" fill="#222" stroke="#222">35kDa</text>
<text x="33.6" y="355.5" style="font-size:6.4px;stroke-width:0.2px" text-anchor="end" fill="#111" stroke="#111">PD-L1</text>
<rect x="37.3" y="347.9" width="61.3" height="11" fill="#85898c" stroke="#5a5a5a" stroke-width="0.8"/>
<clipPath id="cb51"><rect x="37.7" y="348.3" width="60.5" height="10.2"/></clipPath><g clip-path="url(#cb51)">
<rect x="37.54" y="348.15" width="14.85" height="9.4" rx="3.2" fill="url(#vg)" fill-opacity="1"/>
<rect x="53.64" y="349.76" width="13.29" height="7.28" rx="3.2" fill="url(#vg)" fill-opacity="0.65"/>
<rect x="69.36" y="352.19" width="12.51" height="5.05" rx="2.27" fill="url(#vg)" fill-opacity="0.4"/>
<rect x="84.68" y="352.19" width="12.51" height="5.05" rx="2.27" fill="url(#vg)" fill-opacity="0.35"/>
</g>
<line x1="99.2" y1="358.13" x2="100.4" y2="358.13" stroke="#444" stroke-width="0.5"/>
<text x="100.6" y="359.83" style="font-size:4.9px;stroke-width:0.1px" fill="#222" stroke="#222">35kDa</text>
<text x="33.6" y="368.8" style="font-size:6.4px;stroke-width:0.2px" text-anchor="end" fill="#111" stroke="#111">CD47</text>
<rect x="37.3" y="361.2" width="61.3" height="11" fill="#9a9ea1" stroke="#5a5a5a" stroke-width="0.8"/>
<clipPath id="cb52"><rect x="37.7" y="361.6" width="60.5" height="10.2"/></clipPath><g clip-path="url(#cb52)">
<rect x="38.32" y="363.28" width="13.29" height="6.84" rx="3.08" fill="url(#vg)" fill-opacity="0.9"/>
<rect x="53.64" y="363.28" width="13.29" height="6.84" rx="3.08" fill="url(#vg)" fill-opacity="0.9"/>
<rect x="68.97" y="363.28" width="13.29" height="6.84" rx="3.08" fill="url(#vg)" fill-opacity="0.9"/>
<rect x="84.29" y="363.28" width="13.29" height="6.84" rx="3.08" fill="url(#vg)" fill-opacity="0.9"/>
</g>
<line x1="99.2" y1="367.69" x2="100.4" y2="367.69" stroke="#444" stroke-width="0.5"/>
<text x="100.6" y="369.39" style="font-size:4.9px;stroke-width:0.1px" fill="#222" stroke="#222">40kDa</text>
<text x="33.6" y="382.2" style="font-size:6.4px;stroke-width:0.2px" text-anchor="end" fill="#111" stroke="#111">CD24</text>
<rect x="37.3" y="374.6" width="61.3" height="11" fill="#bfc3c6" stroke="#5a5a5a" stroke-width="0.8"/>
<clipPath id="cb53"><rect x="37.7" y="375" width="60.5" height="10.2"/></clipPath><g clip-path="url(#cb53)">
<rect x="37.54" y="377.04" width="14.85" height="8.32" rx="3.2" fill="url(#vg)" fill-opacity="1"/>
<rect x="53.25" y="376.83" width="14.07" height="6.54" rx="2.94" fill="url(#vg)" fill-opacity="0.9"/>
<rect x="68.58" y="377.23" width="14.07" height="6.84" rx="3.08" fill="url(#vg)" fill-opacity="0.95"/>
<rect x="83.9" y="376.83" width="14.07" height="6.54" rx="2.94" fill="url(#vg)" fill-opacity="0.9"/>
</g>
<line x1="99.2" y1="377.9" x2="100.4" y2="377.9" stroke="#444" stroke-width="0.5"/>
<text x="100.6" y="379.6" style="font-size:4.9px;stroke-width:0.1px" fill="#222" stroke="#222">15kDa</text>
<text x="33.6" y="395.6" style="font-size:6.4px;stroke-width:0.2px" text-anchor="end" fill="#111" stroke="#111">B2M</text>
<rect x="37.3" y="388" width="61.3" height="11" fill="#a7abae" stroke="#5a5a5a" stroke-width="0.8"/>
<clipPath id="cb54"><rect x="37.7" y="388.4" width="60.5" height="10.2"/></clipPath><g clip-path="url(#cb54)">
<rect x="37.93" y="388.63" width="14.07" height="3.57" rx="1.61" fill="url(#vg)" fill-opacity="0.45"/>
<rect x="37.77" y="391.88" width="14.38" height="6.54" rx="2.94" fill="url(#vg)" fill-opacity="0.95"/>
<rect x="53.25" y="388.63" width="14.07" height="3.57" rx="1.61" fill="url(#vg)" fill-opacity="0.45"/>
<rect x="53.1" y="391.88" width="14.38" height="6.54" rx="2.94" fill="url(#vg)" fill-opacity="0.95"/>
<rect x="68.58" y="388.63" width="14.07" height="3.57" rx="1.61" fill="url(#vg)" fill-opacity="0.45"/>
<rect x="68.42" y="391.88" width="14.38" height="6.54" rx="2.94" fill="url(#vg)" fill-opacity="0.95"/>
<rect x="83.9" y="388.63" width="14.07" height="3.57" rx="1.61" fill="url(#vg)" fill-opacity="0.45"/>
<rect x="83.75" y="391.88" width="14.38" height="6.54" rx="2.94" fill="url(#vg)" fill-opacity="0.95"/>
</g>
<line x1="99.2" y1="391.41" x2="100.4" y2="391.41" stroke="#444" stroke-width="0.5"/>
<text x="100.6" y="393.11" style="font-size:4.9px;stroke-width:0.1px" fill="#222" stroke="#222">15kDa</text>
<text x="33.6" y="408.9" style="font-size:6.4px;stroke-width:0.2px" text-anchor="end" fill="#111" stroke="#111">GAPDH</text>
<rect x="37.3" y="401.3" width="61.3" height="11" fill="#cdd0d3" stroke="#5a5a5a" stroke-width="0.8"/>
<clipPath id="cb55"><rect x="37.7" y="401.7" width="60.5" height="10.2"/></clipPath><g clip-path="url(#cb55)">
<rect x="38.32" y="405.59" width="13.29" height="5.05" rx="2.27" fill="url(#vg)" fill-opacity="0.95"/>
<rect x="53.64" y="405.59" width="13.29" height="5.05" rx="2.27" fill="url(#vg)" fill-opacity="0.95"/>
<rect x="68.97" y="405.59" width="13.29" height="5.05" rx="2.27" fill="url(#vg)" fill-opacity="0.95"/>
<rect x="84.29" y="405.59" width="13.29" height="5.05" rx="2.27" fill="url(#vg)" fill-opacity="0.95"/>
</g>
<line x1="99.2" y1="410.43" x2="100.4" y2="410.43" stroke="#444" stroke-width="0.5"/>
<text x="100.6" y="412.13" style="font-size:4.9px;stroke-width:0.1px" fill="#222" stroke="#222">35kDa</text>
<text x="293.9" y="302.9" style="font-size:10px;stroke-width:0.2px;font-weight:bold" fill="#000" stroke="#000">k</text>
<text transform="translate(357.4,305.3) scale(1,1.07)" x="0" y="0" style="font-size:7.8px;stroke-width:0.2px" text-anchor="middle" fill="#111" stroke="#111">83</text>
<path d="M341.4,312.1 V308.1 H372.7 V312.1" stroke="#555" stroke-width="0.7" fill="none"/>
<text x="339" y="317" style="font-size:6.4px;stroke-width:0.2px" text-anchor="end" fill="#111" stroke="#111">Anti-ICAM1</text>
<text x="350.7" y="317" style="font-size:6.4px;stroke-width:0.2px" text-anchor="middle" fill="#111" stroke="#111">0</text>
<text x="364.7" y="317" style="font-size:6.4px;stroke-width:0.2px" text-anchor="middle" fill="#111" stroke="#111">4</text>
<text x="373" y="317" style="font-size:6.4px;stroke-width:0.2px" fill="#111" stroke="#111">&#956;g/ml</text>
<text x="338.7" y="328.9" style="font-size:6.4px;stroke-width:0.2px" text-anchor="end" fill="#111" stroke="#111">&#946;-catenin</text>
<rect x="342.2" y="321.3" width="31.3" height="11" fill="#d0d4d7" stroke="#5a5a5a" stroke-width="0.8"/>
<clipPath id="cb56"><rect x="342.6" y="321.7" width="30.5" height="10.2"/></clipPath><g clip-path="url(#cb56)">
<rect x="343" y="322.94" width="14.05" height="7.73" rx="3.2" fill="url(#vg)" fill-opacity="1"/>
<rect x="361.29" y="325.01" width="8.78" height="3.57" rx="1.61" fill="url(#vg)" fill-opacity="0.4"/>
</g>
<line x1="374.1" y1="327.35" x2="375.3" y2="327.35" stroke="#444" stroke-width="0.5"/>
<text x="375.5" y="329.05" style="font-size:4.9px;stroke-width:0.1px" fill="#222" stroke="#222">100kDa</text>
<text x="338.7" y="342.6" style="font-size:6.4px;stroke-width:0.2px" text-anchor="end" fill="#111" stroke="#111">Cyclin D1</text>
<rect x="342.2" y="335" width="31.3" height="11" fill="#c4c8cb" stroke="#5a5a5a" stroke-width="0.8"/>
<clipPath id="cb57"><rect x="342.6" y="335.4" width="30.5" height="10.2"/></clipPath><g clip-path="url(#cb57)">
<rect x="343" y="337.08" width="14.05" height="6.84" rx="3.08" fill="url(#vg)" fill-opacity="1"/>
<rect x="359.13" y="337.53" width="13.09" height="5.95" rx="2.68" fill="url(#vg)" fill-opacity="0.9"/>
</g>
<line x1="374.1" y1="343.25" x2="375.3" y2="343.25" stroke="#444" stroke-width="0.5"/>
<text x="375.5" y="344.95" style="font-size:4.9px;stroke-width:0.1px" fill="#222" stroke="#222">35kDa</text>
<text x="338.7" y="355.7" style="font-size:6.4px;stroke-width:0.2px" text-anchor="end" fill="#111" stroke="#111">PD-L1</text>
<rect x="342.2" y="348.1" width="31.3" height="11" fill="#c8ccd0" stroke="#5a5a5a" stroke-width="0.8"/>
<clipPath id="cb58"><rect x="342.6" y="348.5" width="30.5" height="10.2"/></clipPath><g clip-path="url(#cb58)">
<rect x="343" y="350.48" width="14.05" height="6.24" rx="2.81" fill="url(#vg)" fill-opacity="1"/>
<rect x="359.29" y="351.07" width="12.77" height="5.05" rx="2.27" fill="url(#vg)" fill-opacity="0.85"/>
</g>
<line x1="374.1" y1="357.56" x2="375.3" y2="357.56" stroke="#444" stroke-width="0.5"/>
<text x="375.5" y="359.26" style="font-size:4.9px;stroke-width:0.1px" fill="#222" stroke="#222">35kDa</text>
<text x="338.7" y="368.8" style="font-size:6.4px;stroke-width:0.2px" text-anchor="end" fill="#111" stroke="#111">CD47</text>
<rect x="342.2" y="361.2" width="31.3" height="11" fill="#c0c4c7" stroke="#5a5a5a" stroke-width="0.8"/>
<clipPath id="cb59"><rect x="342.6" y="361.6" width="30.5" height="10.2"/></clipPath><g clip-path="url(#cb59)">
<rect x="343" y="363.28" width="14.05" height="6.84" rx="3.08" fill="url(#vg)" fill-opacity="1"/>
<rect x="359.29" y="364.02" width="12.77" height="5.35" rx="2.41" fill="url(#vg)" fill-opacity="0.85"/>
</g>
<line x1="374.1" y1="369.45" x2="375.3" y2="369.45" stroke="#444" stroke-width="0.5"/>
<text x="375.5" y="371.15" style="font-size:4.9px;stroke-width:0.1px" fill="#222" stroke="#222">35kDa</text>
<text x="338.7" y="382" style="font-size:6.4px;stroke-width:0.2px" text-anchor="end" fill="#111" stroke="#111">CD24</text>
<rect x="342.2" y="374.4" width="31.3" height="11" fill="#c4c8cb" stroke="#5a5a5a" stroke-width="0.8"/>
<clipPath id="cb60"><rect x="342.6" y="374.8" width="30.5" height="10.2"/></clipPath><g clip-path="url(#cb60)">
<rect x="342.84" y="376.48" width="14.37" height="6.84" rx="3.08" fill="url(#vg)" fill-opacity="1"/>
<rect x="358.49" y="376.63" width="14.37" height="6.54" rx="2.94" fill="url(#vg)" fill-opacity="0.95"/>
</g>
<line x1="374.1" y1="377.37" x2="375.3" y2="377.37" stroke="#444" stroke-width="0.5"/>
<text x="375.5" y="379.07" style="font-size:4.9px;stroke-width:0.1px" fill="#222" stroke="#222">15kDa</text>
<text x="338.7" y="395.7" style="font-size:6.4px;stroke-width:0.2px" text-anchor="end" fill="#111" stroke="#111">B2M</text>
<rect x="342.2" y="388.1" width="31.3" height="11" fill="#b2b6b9" stroke="#5a5a5a" stroke-width="0.8"/>
<clipPath id="cb61"><rect x="342.6" y="388.5" width="30.5" height="10.2"/></clipPath><g clip-path="url(#cb61)">
<rect x="342.84" y="389.54" width="14.37" height="3.27" rx="1.47" fill="url(#vg)" fill-opacity="0.5"/>
<rect x="342.44" y="391.5" width="15.16" height="6.84" rx="3.08" fill="url(#vg)" fill-opacity="1"/>
<rect x="358.49" y="389.54" width="14.37" height="3.27" rx="1.47" fill="url(#vg)" fill-opacity="0.5"/>
<rect x="358.09" y="391.5" width="15.16" height="6.84" rx="3.08" fill="url(#vg)" fill-opacity="1"/>
</g>
<line x1="374.1" y1="390.52" x2="375.3" y2="390.52" stroke="#444" stroke-width="0.5"/>
<text x="375.5" y="392.22" style="font-size:4.9px;stroke-width:0.1px" fill="#222" stroke="#222">15kDa</text>
<text x="338.7" y="408.7" style="font-size:6.4px;stroke-width:0.2px" text-anchor="end" fill="#111" stroke="#111">GAPDH</text>
<rect x="342.2" y="401.1" width="31.3" height="11" fill="#d0d4d7" stroke="#5a5a5a" stroke-width="0.8"/>
<clipPath id="cb62"><rect x="342.6" y="401.5" width="30.5" height="10.2"/></clipPath><g clip-path="url(#cb62)">
<rect x="343" y="404.37" width="14.05" height="4.46" rx="2.01" fill="url(#vg)" fill-opacity="0.9"/>
<rect x="358.65" y="404.37" width="14.05" height="4.46" rx="2.01" fill="url(#vg)" fill-opacity="0.9"/>
</g>
<line x1="374.1" y1="409.13" x2="375.3" y2="409.13" stroke="#444" stroke-width="0.5"/>
<text x="375.5" y="410.83" style="font-size:4.9px;stroke-width:0.1px" fill="#222" stroke="#222">35kDa</text>
<text x="17.8" y="439.5" style="font-size:10px;stroke-width:0.2px;font-weight:bold" fill="#000" stroke="#000">m</text>
<text transform="translate(60.7,441.5) scale(1,1.07)" x="0" y="0" style="font-size:7.8px;stroke-width:0.2px" text-anchor="middle" fill="#111" stroke="#111">X01</text>
<path d="M36.6,449.9 V445.9 H83.2 V449.9" stroke="#555" stroke-width="0.7" fill="none"/>
<text x="33.7" y="457.9" style="font-size:6.4px;stroke-width:0.2px" text-anchor="end" fill="#111" stroke="#111">ICAM1</text>
<text x="33.7" y="468.4" style="font-size:6.4px;stroke-width:0.2px" text-anchor="end" fill="#111" stroke="#111">ICG001</text>
<text x="46.3" y="457.9" style="font-size:6.4px;stroke-width:0.2px" text-anchor="middle" fill="#111" stroke="#111">-</text>
<text x="46.3" y="468.4" style="font-size:6.4px;stroke-width:0.2px" text-anchor="middle" fill="#111" stroke="#111">-</text>
<text x="61" y="457.9" style="font-size:6.4px;stroke-width:0.2px" text-anchor="middle" fill="#111" stroke="#111">+</text>
<text x="61" y="468.4" style="font-size:6.4px;stroke-width:0.2px" text-anchor="middle" fill="#111" stroke="#111">-</text>
<text x="76" y="457.9" style="font-size:6.4px;stroke-width:0.2px" text-anchor="middle" fill="#111" stroke="#111">+</text>
<text x="76" y="468.4" style="font-size:6.4px;stroke-width:0.2px" text-anchor="middle" fill="#111" stroke="#111">+</text>
<text x="33.7" y="482.1" style="font-size:6.4px;stroke-width:0.2px" text-anchor="end" fill="#111" stroke="#111">ICAM1</text>
<rect x="37.7" y="474.5" width="45.8" height="10.8" fill="#cdd0d3" stroke="#5a5a5a" stroke-width="0.8"/>
<clipPath id="cb63"><rect x="38.1" y="474.9" width="45" height="10"/></clipPath><g clip-path="url(#cb63)">
<rect x="53.59" y="475.88" width="14.01" height="8.04" rx="3.2" fill="url(#vg)" fill-opacity="1"/>
<rect x="68.86" y="476.19" width="14.01" height="7.42" rx="3.2" fill="url(#vg)" fill-opacity="1"/>
</g>
<line x1="84.1" y1="480.55" x2="85.3" y2="480.55" stroke="#444" stroke-width="0.5"/>
<text x="85.5" y="482.25" style="font-size:4.9px;stroke-width:0.1px" fill="#222" stroke="#222">100kDa</text>
<text x="33.7" y="494.9" style="font-size:6.4px;stroke-width:0.2px" text-anchor="end" fill="#111" stroke="#111">&#946;-catenin</text>
<rect x="37.7" y="487.3" width="45.8" height="10.8" fill="#c0c4c7" stroke="#5a5a5a" stroke-width="0.8"/>
<clipPath id="cb64"><rect x="38.1" y="487.7" width="45" height="10"/></clipPath><g clip-path="url(#cb64)">
<rect x="39.1" y="490.54" width="12.46" height="4.32" rx="1.94" fill="url(#vg)" fill-opacity="0.8"/>
<rect x="53.98" y="490.23" width="13.24" height="4.94" rx="2.22" fill="url(#vg)" fill-opacity="0.9"/>
<rect x="69.64" y="490.54" width="12.46" height="4.32" rx="1.94" fill="url(#vg)" fill-opacity="0.7"/>
</g>
<line x1="84.1" y1="494.43" x2="85.3" y2="494.43" stroke="#444" stroke-width="0.5"/>
<text x="85.5" y="496.13" style="font-size:4.9px;stroke-width:0.1px" fill="#222" stroke="#222">100kDa</text>
<text x="33.7" y="507.7" style="font-size:6.4px;stroke-width:0.2px" text-anchor="end" fill="#111" stroke="#111">Cyclin D1</text>
<rect x="37.7" y="500.1" width="45.8" height="10.8" fill="#6e7174" stroke="#5a5a5a" stroke-width="0.8"/>
<clipPath id="cb65"><rect x="38.1" y="500.5" width="45" height="10"/></clipPath><g clip-path="url(#cb65)">
<rect x="38.33" y="501.17" width="14.01" height="8.66" rx="3.2" fill="url(#vg)" fill-opacity="1"/>
<rect x="53.59" y="501.17" width="14.01" height="8.66" rx="3.2" fill="url(#vg)" fill-opacity="1"/>
<rect x="70.42" y="501.48" width="10.9" height="8.04" rx="3.2" fill="url(#vg)" fill-opacity="0.9"/>
</g>
<line x1="84.1" y1="507.88" x2="85.3" y2="507.88" stroke="#444" stroke-width="0.5"/>
<text x="85.5" y="509.58" style="font-size:4.9px;stroke-width:0.1px" fill="#222" stroke="#222">35kDa</text>
<text x="33.7" y="521.1" style="font-size:6.4px;stroke-width:0.2px" text-anchor="end" fill="#111" stroke="#111">PD-L1</text>
<rect x="37.7" y="513.5" width="45.8" height="10.8" fill="#8e9194" stroke="#5a5a5a" stroke-width="0.8"/>
<clipPath id="cb66"><rect x="38.1" y="513.9" width="45" height="10"/></clipPath><g clip-path="url(#cb66)">
<rect x="39.1" y="516.2" width="12.46" height="4.32" rx="1.94" fill="url(#vg)" fill-opacity="0.6"/>
<rect x="53.98" y="515.89" width="13.24" height="4.94" rx="2.22" fill="url(#vg)" fill-opacity="0.7"/>
<rect x="69.64" y="516.2" width="12.46" height="4.32" rx="1.94" fill="url(#vg)" fill-opacity="0.6"/>
</g>
<line x1="84.1" y1="521.92" x2="85.3" y2="521.92" stroke="#444" stroke-width="0.5"/>
<text x="85.5" y="523.62" style="font-size:4.9px;stroke-width:0.1px" fill="#222" stroke="#222">35kDa</text>
<text x="33.7" y="534.7" style="font-size:6.4px;stroke-width:0.2px" text-anchor="end" fill="#111" stroke="#111">CD47</text>
<rect x="37.7" y="527.1" width="45.8" height="10.8" fill="#bfc2c5" stroke="#5a5a5a" stroke-width="0.8"/>
<clipPath id="cb67"><rect x="38.1" y="527.5" width="45" height="10"/></clipPath><g clip-path="url(#cb67)">
<rect x="37.94" y="530.57" width="14.79" height="4.94" rx="2.22" fill="url(#vg)" fill-opacity="0.95"/>
<rect x="53.2" y="530.57" width="14.79" height="4.94" rx="2.22" fill="url(#vg)" fill-opacity="0.95"/>
<rect x="68.47" y="530.57" width="14.79" height="4.94" rx="2.22" fill="url(#vg)" fill-opacity="0.95"/>
</g>
<line x1="84.1" y1="534.44" x2="85.3" y2="534.44" stroke="#444" stroke-width="0.5"/>
<text x="85.5" y="536.14" style="font-size:4.9px;stroke-width:0.1px" fill="#222" stroke="#222">35kDa</text>
<text x="33.7" y="548" style="font-size:6.4px;stroke-width:0.2px" text-anchor="end" fill="#111" stroke="#111">CD24</text>
<rect x="37.7" y="540.4" width="45.8" height="10.8" fill="#c5c8cb" stroke="#5a5a5a" stroke-width="0.8"/>
<clipPath id="cb68"><rect x="38.1" y="540.8" width="45" height="10"/></clipPath><g clip-path="url(#cb68)">
<rect x="37.94" y="543.25" width="14.79" height="6.18" rx="2.78" fill="url(#vg)" fill-opacity="1"/>
<rect x="53.59" y="543.56" width="14.01" height="5.56" rx="2.5" fill="url(#vg)" fill-opacity="0.9"/>
<rect x="69.64" y="544.18" width="12.46" height="4.32" rx="1.94" fill="url(#vg)" fill-opacity="0.8"/>
</g>
<line x1="84.1" y1="543.1" x2="85.3" y2="543.1" stroke="#444" stroke-width="0.5"/>
<text x="85.5" y="544.8" style="font-size:4.9px;stroke-width:0.1px" fill="#222" stroke="#222">15kDa</text>
<text x="33.7" y="561.5" style="font-size:6.4px;stroke-width:0.2px" text-anchor="end" fill="#111" stroke="#111">B2M</text>
<rect x="37.7" y="553.9" width="45.8" height="10.8" fill="#6a6d70" stroke="#5a5a5a" stroke-width="0.8"/>
<clipPath id="cb69"><rect x="38.1" y="554.3" width="45" height="10"/></clipPath><g clip-path="url(#cb69)">
<rect x="37.94" y="553.82" width="14.79" height="5.56" rx="2.5" fill="url(#vg)" fill-opacity="0.8"/>
<rect x="37.94" y="558.06" width="14.79" height="6.8" rx="3.06" fill="url(#vg)" fill-opacity="1"/>
<rect x="53.2" y="553.82" width="14.79" height="5.56" rx="2.5" fill="url(#vg)" fill-opacity="0.8"/>
<rect x="53.2" y="558.06" width="14.79" height="6.8" rx="3.06" fill="url(#vg)" fill-opacity="1"/>
<rect x="68.47" y="553.82" width="14.79" height="5.56" rx="2.5" fill="url(#vg)" fill-opacity="0.8"/>
<rect x="68.47" y="558.06" width="14.79" height="6.8" rx="3.06" fill="url(#vg)" fill-opacity="1"/>
</g>
<line x1="84.1" y1="555.63" x2="85.3" y2="555.63" stroke="#444" stroke-width="0.5"/>
<text x="85.5" y="557.33" style="font-size:4.9px;stroke-width:0.1px" fill="#222" stroke="#222">15kDa</text>
<text x="33.7" y="574.9" style="font-size:6.4px;stroke-width:0.2px" text-anchor="end" fill="#111" stroke="#111">GAPDH</text>
<rect x="37.7" y="567.3" width="45.8" height="10.8" fill="#c5c8cb" stroke="#5a5a5a" stroke-width="0.8"/>
<clipPath id="cb70"><rect x="38.1" y="567.7" width="45" height="10"/></clipPath><g clip-path="url(#cb70)">
<rect x="38.72" y="570.54" width="13.24" height="4.32" rx="1.94" fill="url(#vg)" fill-opacity="0.95"/>
<rect x="53.98" y="570.54" width="13.24" height="4.32" rx="1.94" fill="url(#vg)" fill-opacity="0.95"/>
<rect x="69.25" y="570.54" width="13.24" height="4.32" rx="1.94" fill="url(#vg)" fill-opacity="0.95"/>
</g>
<line x1="84.1" y1="574.75" x2="85.3" y2="574.75" stroke="#444" stroke-width="0.5"/>
<text x="85.5" y="576.45" style="font-size:4.9px;stroke-width:0.1px" fill="#222" stroke="#222">35kDa</text>
<text x="130.7" y="439.5" style="font-size:10px;stroke-width:0.2px;font-weight:bold" fill="#000" stroke="#000">n</text>
<text transform="translate(174.2,441.5) scale(1,1.07)" x="0" y="0" style="font-size:7.8px;stroke-width:0.2px" text-anchor="middle" fill="#111" stroke="#111">131</text>
<path d="M150.1,449.9 V445.9 H196.7 V449.9" stroke="#555" stroke-width="0.7" fill="none"/>
<text x="147.3" y="457.9" style="font-size:6.4px;stroke-width:0.2px" text-anchor="end" fill="#111" stroke="#111">ICAM1</text>
<text x="147.3" y="468.4" style="font-size:6.4px;stroke-width:0.2px" text-anchor="end" fill="#111" stroke="#111">ICG001</text>
<text x="159.5" y="457.9" style="font-size:6.4px;stroke-width:0.2px" text-anchor="middle" fill="#111" stroke="#111">-</text>
<text x="159.5" y="468.4" style="font-size:6.4px;stroke-width:0.2px" text-anchor="middle" fill="#111" stroke="#111">-</text>
<text x="174.2" y="457.9" style="font-size:6.4px;stroke-width:0.2px" text-anchor="middle" fill="#111" stroke="#111">+</text>
<text x="174.2" y="468.4" style="font-size:6.4px;stroke-width:0.2px" text-anchor="middle" fill="#111" stroke="#111">-</text>
<text x="189" y="457.9" style="font-size:6.4px;stroke-width:0.2px" text-anchor="middle" fill="#111" stroke="#111">+</text>
<text x="189" y="468.4" style="font-size:6.4px;stroke-width:0.2px" text-anchor="middle" fill="#111" stroke="#111">+</text>
<text x="147.3" y="482.1" style="font-size:6.4px;stroke-width:0.2px" text-anchor="end" fill="#111" stroke="#111">ICAM1</text>
<rect x="151.4" y="474.5" width="46.1" height="10.8" fill="#cdd0d3" stroke="#5a5a5a" stroke-width="0.8"/>
<clipPath id="cb71"><rect x="151.8" y="474.9" width="45.3" height="10"/></clipPath><g clip-path="url(#cb71)">
<rect x="167.4" y="476.5" width="14.11" height="6.8" rx="3.06" fill="url(#vg)" fill-opacity="1"/>
<rect x="182.76" y="477.12" width="14.11" height="5.56" rx="2.5" fill="url(#vg)" fill-opacity="0.95"/>
</g>
<line x1="198.1" y1="479.58" x2="199.3" y2="479.58" stroke="#444" stroke-width="0.5"/>
<text x="199.5" y="481.28" style="font-size:4.9px;stroke-width:0.1px" fill="#222" stroke="#222">100kDa</text>
<text x="147.3" y="494.9" style="font-size:6.4px;stroke-width:0.2px" text-anchor="end" fill="#111" stroke="#111">&#946;-catenin</text>
<rect x="151.4" y="487.3" width="46.1" height="10.8" fill="#9ea1a4" stroke="#5a5a5a" stroke-width="0.8"/>
<clipPath id="cb72"><rect x="151.8" y="487.7" width="45.3" height="10"/></clipPath><g clip-path="url(#cb72)">
<rect x="152.42" y="490.23" width="13.32" height="4.94" rx="2.22" fill="url(#vg)" fill-opacity="0.85"/>
<rect x="167" y="488.68" width="14.89" height="8.04" rx="3.2" fill="url(#vg)" fill-opacity="1"/>
<rect x="183.16" y="490.23" width="13.32" height="4.94" rx="2.22" fill="url(#vg)" fill-opacity="0.85"/>
</g>
<line x1="198.1" y1="494" x2="199.3" y2="494" stroke="#444" stroke-width="0.5"/>
<text x="199.5" y="495.7" style="font-size:4.9px;stroke-width:0.1px" fill="#222" stroke="#222">100kDa</text>
<text x="147.3" y="507.7" style="font-size:6.4px;stroke-width:0.2px" text-anchor="end" fill="#111" stroke="#111">Cyclin D1</text>
<rect x="151.4" y="500.1" width="46.1" height="10.8" fill="#b9bcbf" stroke="#5a5a5a" stroke-width="0.8"/>
<clipPath id="cb73"><rect x="151.8" y="500.5" width="45.3" height="10"/></clipPath><g clip-path="url(#cb73)">
<rect x="152.03" y="502.72" width="14.11" height="5.56" rx="2.5" fill="url(#vg)" fill-opacity="1"/>
<rect x="167.4" y="502.72" width="14.11" height="5.56" rx="2.5" fill="url(#vg)" fill-opacity="1"/>
<rect x="182.76" y="502.72" width="14.11" height="5.56" rx="2.5" fill="url(#vg)" fill-opacity="1"/>
</g>
<line x1="198.1" y1="506.9" x2="199.3" y2="506.9" stroke="#444" stroke-width="0.5"/>
<text x="199.5" y="508.6" style="font-size:4.9px;stroke-width:0.1px" fill="#222" stroke="#222">35kDa</text>
<text x="147.3" y="521.1" style="font-size:6.4px;stroke-width:0.2px" text-anchor="end" fill="#111" stroke="#111">PD-L1</text>
<rect x="151.4" y="513.5" width="46.1" height="10.8" fill="#d5d8db" stroke="#5a5a5a" stroke-width="0.8"/>
<clipPath id="cb74"><rect x="151.8" y="513.9" width="45.3" height="10"/></clipPath><g clip-path="url(#cb74)">
<rect x="153.6" y="517.36" width="10.97" height="3.08" rx="1.39" fill="url(#vg)" fill-opacity="0.5"/>
<rect x="168.18" y="517.05" width="12.54" height="3.7" rx="1.66" fill="url(#vg)" fill-opacity="0.7"/>
<rect x="184.33" y="517.36" width="10.97" height="3.08" rx="1.39" fill="url(#vg)" fill-opacity="0.4"/>
</g>
<line x1="198.1" y1="522.46" x2="199.3" y2="522.46" stroke="#444" stroke-width="0.5"/>
<text x="199.5" y="524.16" style="font-size:4.9px;stroke-width:0.1px" fill="#222" stroke="#222">35kDa</text>
<text x="147.3" y="534.7" style="font-size:6.4px;stroke-width:0.2px" text-anchor="end" fill="#111" stroke="#111">CD47</text>
<rect x="151.4" y="527.1" width="46.1" height="10.8" fill="#c0c3c6" stroke="#5a5a5a" stroke-width="0.8"/>
<clipPath id="cb75"><rect x="151.8" y="527.5" width="45.3" height="10"/></clipPath><g clip-path="url(#cb75)">
<rect x="152.03" y="528.87" width="14.11" height="6.18" rx="2.78" fill="url(#vg)" fill-opacity="1"/>
<rect x="167.4" y="528.87" width="14.11" height="6.18" rx="2.78" fill="url(#vg)" fill-opacity="1"/>
<rect x="182.76" y="528.87" width="14.11" height="6.18" rx="2.78" fill="url(#vg)" fill-opacity="1"/>
</g>
<line x1="198.1" y1="533.47" x2="199.3" y2="533.47" stroke="#444" stroke-width="0.5"/>
<text x="199.5" y="535.17" style="font-size:4.9px;stroke-width:0.1px" fill="#222" stroke="#222">35kDa</text>
<text x="147.3" y="548" style="font-size:6.4px;stroke-width:0.2px" text-anchor="end" fill="#111" stroke="#111">CD24</text>
<rect x="151.4" y="540.4" width="46.1" height="10.8" fill="#c8cbce" stroke="#5a5a5a" stroke-width="0.8"/>
<clipPath id="cb76"><rect x="151.8" y="540.8" width="45.3" height="10"/></clipPath><g clip-path="url(#cb76)">
<rect x="151.64" y="543.02" width="14.89" height="5.56" rx="2.5" fill="url(#vg)" fill-opacity="1"/>
<rect x="167" y="543.02" width="14.89" height="5.56" rx="2.5" fill="url(#vg)" fill-opacity="1"/>
<rect x="182.37" y="543.02" width="14.89" height="5.56" rx="2.5" fill="url(#vg)" fill-opacity="1"/>
</g>
<line x1="198.1" y1="543.1" x2="199.3" y2="543.1" stroke="#444" stroke-width="0.5"/>
<text x="199.5" y="544.8" style="font-size:4.9px;stroke-width:0.1px" fill="#222" stroke="#222">15kDa</text>
<text x="147.3" y="561.5" style="font-size:6.4px;stroke-width:0.2px" text-anchor="end" fill="#111" stroke="#111">B2M</text>
<rect x="151.4" y="553.9" width="46.1" height="10.8" fill="#c0c3c6" stroke="#5a5a5a" stroke-width="0.8"/>
<clipPath id="cb77"><rect x="151.8" y="554.3" width="45.3" height="10"/></clipPath><g clip-path="url(#cb77)">
<rect x="152.03" y="556.52" width="14.11" height="5.56" rx="2.5" fill="url(#vg)" fill-opacity="0.95"/>
<rect x="167.4" y="556.21" width="14.11" height="6.18" rx="2.78" fill="url(#vg)" fill-opacity="1"/>
<rect x="182.76" y="556.52" width="14.11" height="5.56" rx="2.5" fill="url(#vg)" fill-opacity="0.9"/>
</g>
<line x1="198.1" y1="554.55" x2="199.3" y2="554.55" stroke="#444" stroke-width="0.5"/>
<text x="199.5" y="556.25" style="font-size:4.9px;stroke-width:0.1px" fill="#222" stroke="#222">15kDa</text>
<text x="147.3" y="574.9" style="font-size:6.4px;stroke-width:0.2px" text-anchor="end" fill="#111" stroke="#111">GAPDH</text>
<rect x="151.4" y="567.3" width="46.1" height="10.8" fill="#c8cbce" stroke="#5a5a5a" stroke-width="0.8"/>
<clipPath id="cb78"><rect x="151.8" y="567.7" width="45.3" height="10"/></clipPath><g clip-path="url(#cb78)">
<rect x="152.03" y="570.54" width="14.11" height="4.32" rx="1.94" fill="url(#vg)" fill-opacity="0.9"/>
<rect x="167.4" y="570.54" width="14.11" height="4.32" rx="1.94" fill="url(#vg)" fill-opacity="0.9"/>
<rect x="182.76" y="570.54" width="14.11" height="4.32" rx="1.94" fill="url(#vg)" fill-opacity="0.9"/>
</g>
<line x1="198.1" y1="573.78" x2="199.3" y2="573.78" stroke="#444" stroke-width="0.5"/>
<text x="199.5" y="575.48" style="font-size:4.9px;stroke-width:0.1px" fill="#222" stroke="#222">35kDa</text>
<text x="571.7" y="148.8" style="font-size:10px;stroke-width:0.2px;font-weight:bold" fill="#000" stroke="#000">g</text>
<line x1="603.6" y1="149.3" x2="603.6" y2="206.3" stroke="#3a3a3a" stroke-width="0.9"/>
<line x1="601" y1="149.5" x2="603.6" y2="149.5" stroke="#3a3a3a" stroke-width="0.9"/>
<text x="600.2" y="151.66" style="font-size:6px;stroke-width:0.19px" text-anchor="end" fill="#111" stroke="#111">8</text>
<line x1="601" y1="160.9" x2="603.6" y2="160.9" stroke="#3a3a3a" stroke-width="0.9"/>
<text x="600.2" y="163.06" style="font-size:6px;stroke-width:0.19px" text-anchor="end" fill="#111" stroke="#111">6</text>
<line x1="601" y1="172.3" x2="603.6" y2="172.3" stroke="#3a3a3a" stroke-width="0.9"/>
<text x="600.2" y="174.46" style="font-size:6px;stroke-width:0.19px" text-anchor="end" fill="#111" stroke="#111">4</text>
<line x1="601" y1="183.7" x2="603.6" y2="183.7" stroke="#3a3a3a" stroke-width="0.9"/>
<text x="600.2" y="185.86" style="font-size:6px;stroke-width:0.19px" text-anchor="end" fill="#111" stroke="#111">2</text>
<line x1="601" y1="195.1" x2="603.6" y2="195.1" stroke="#3a3a3a" stroke-width="0.9"/>
<text x="600.2" y="197.26" style="font-size:6px;stroke-width:0.19px" text-anchor="end" fill="#111" stroke="#111">0</text>
<line x1="601" y1="206.5" x2="603.6" y2="206.5" stroke="#3a3a3a" stroke-width="0.9"/>
<text x="600.2" y="208.66" style="font-size:6px;stroke-width:0.19px" text-anchor="end" fill="#111" stroke="#111">-2</text>
<line x1="603.6" y1="206.3" x2="680.2" y2="206.3" stroke="#3a3a3a" stroke-width="0.9"/>
<line x1="603.78" y1="206.3" x2="603.78" y2="209.1" stroke="#3a3a3a" stroke-width="0.9"/>
<line x1="616.54" y1="206.3" x2="616.54" y2="209.1" stroke="#3a3a3a" stroke-width="0.9"/>
<line x1="629.3" y1="206.3" x2="629.3" y2="209.1" stroke="#3a3a3a" stroke-width="0.9"/>
<line x1="642.06" y1="206.3" x2="642.06" y2="209.1" stroke="#3a3a3a" stroke-width="0.9"/>
<line x1="654.82" y1="206.3" x2="654.82" y2="209.1" stroke="#3a3a3a" stroke-width="0.9"/>
<line x1="667.58" y1="206.3" x2="667.58" y2="209.1" stroke="#3a3a3a" stroke-width="0.9"/>
<line x1="680.34" y1="206.3" x2="680.34" y2="209.1" stroke="#3a3a3a" stroke-width="0.9"/>
<text x="645.2" y="153.6" style="font-size:7.4px;stroke-width:0.2px" text-anchor="middle" fill="#111" stroke="#111">All glioma</text>
<text transform="translate(590.8,178) rotate(-90)" x="0" y="0" style="font-size:6.2px;stroke-width:0.2px" text-anchor="middle" fill="#111" stroke="#111">CD47</text>
<path d="M624.67,161.17h0M625.41,167.49h0M645.3,165.52h0M640.95,173.65h0M658.1,164.52h0M648.46,162.09h0M625.71,173.96h0M640.91,177.09h0M647.9,179.52h0M642.44,165.23h0M637.43,170.28h0M628.08,168.79h0M638.92,163.57h0M629.33,174.51h0M644,166.83h0M653.26,168.85h0M633.38,177.78h0M665.28,168.57h0M638.01,178.94h0M624.21,172.56h0M645.18,160.95h0M633.44,173.67h0M642.03,163.23h0M653.45,169.57h0M657.83,176.62h0M634.77,170.63h0M648.86,160.46h0M629.76,162.08h0M651.28,163.4h0M635.17,160.27h0M648.63,165.04h0M648.45,175.64h0M648.11,175.24h0M632.56,168.72h0M635.97,167.48h0M633.78,173.55h0M627.34,173.16h0M657.98,160.27h0M667.54,163.67h0M631.83,173.13h0M646.99,174.53h0M630.54,164.52h0M633.75,175.47h0M635.01,177h0M630.87,167.97h0M666.09,173.73h0M640.51,169.62h0M642.31,172.52h0M636.69,168.87h0M629.25,169.73h0M641.57,177.95h0M655.42,162.19h0M656.59,169.5h0M638.21,161.58h0M653.07,164.31h0M655.55,167.1h0M646.74,175.2h0M629.18,165.49h0M620.91,161.57h0M624.28,172.48h0M625.09,178.08h0M653.75,173.06h0M638.01,172.41h0M642.18,165.39h0M655.66,169.44h0M641.83,167.31h0M621.53,172.7h0M640.24,165.95h0M646.57,162.87h0M628.45,163.29h0M655.4,177.29h0M648.74,160.87h0M631.35,168.25h0M645.5,168.07h0M632.35,176.91h0M645.96,172.19h0M642.31,165.72h0M628.96,163.22h0M652.73,177.38h0M663.65,177.24h0M635.46,174.72h0M640.12,176.36h0M636.9,163.35h0M640.04,176.93h0M630.43,168.2h0M627.15,163.23h0M636.27,170.77h0M640.28,169.77h0M637.81,174.47h0M628.9,167.26h0M624.18,172.97h0M646.38,179.97h0M657.2,177.14h0M623.24,161.4h0M628.26,161.24h0M647.94,173.39h0M634.74,166.19h0M646.74,167.34h0M645.45,157.71h0M654.4,164.4h0M628.12,160.13h0M636.58,170.05h0M633.07,167.13h0M643.43,177.13h0M632.4,172.27h0M633.03,178.13h0M637.49,164.53h0M640.89,176.69h0M654.1,173.55h0M622.36,168.02h0M626.59,174.91h0M655.41,161.42h0M662.34,162.74h0M637.11,176.55h0M636.3,163.82h0M645.06,171.24h0M652.25,170.48h0M640.55,178.8h0M636.49,160.12h0M635.06,168.88h0M648.76,162.38h0M631.44,172.07h0M655.2,159.99h0M654.82,177.8h0M647.68,166.62h0M649.72,165.44h0M651.53,177.41h0M638.9,176.46h0M637.05,173.21h0M647.21,175.09h0M655.93,169.66h0M635.13,166.77h0M632.6,163.92h0M635.27,160.6h0M648.14,157.38h0M645.48,164.53h0M639.18,162.75h0M620.64,175.08h0M624.41,177h0M645.08,159.89h0M645.39,169.49h0M640.24,167.75h0M641.24,176.13h0M654.44,168.76h0M633.31,175.54h0M646.14,157.89h0M644.37,177.72h0M652.38,165.1h0M633.2,167.76h0M624.64,177.51h0M632.43,177.88h0M620.46,170.51h0M641.97,168.42h0M665.03,163.66h0M632.75,169.81h0M625.97,168.28h0M661.29,174.14h0M656.5,165.62h0M644.39,163.55h0M653.11,166.08h0M640.69,166.84h0M649.52,169.46h0M650.85,166.83h0M633.24,162.07h0M633.97,167.65h0M625.95,172.21h0M656.89,165.78h0M642.01,182.13h0M624.64,175.44h0M636.33,174.74h0M635.59,173.54h0M652.21,170.31h0M654.88,160.8h0M625.23,179.16h0M622.77,179.13h0M645.99,170.32h0M646.41,165.97h0M666.77,169.66h0M623.38,172.22h0M635.57,166.32h0M635.48,170.96h0M648.56,177.7h0M650.76,169.47h0M655.61,179.08h0M668.58,177.47h0M650.16,170.7h0M648.44,169.2h0M657.44,170.9h0M661.64,167.91h0M652.22,168.94h0M640.65,168.49h0M648.82,165.3h0M630.42,167.64h0M621.11,167.69h0M669.44,165.23h0M639.94,161.59h0M643.14,173.97h0M637.03,166.12h0M625.11,165.93h0M642.89,159.7h0M661,179.33h0M648.45,170.39h0M635.48,169.15h0M644.14,165.97h0M623.25,172.39h0M631.25,172.17h0M638.76,179.93h0M655.61,165.42h0M640.49,171.81h0M638.39,169.25h0M632.53,163.36h0M650.76,172.55h0M659.78,175.47h0M653.05,168.81h0M635.47,165.53h0M646.96,166.04h0M648.49,164.75h0M636.1,177.05h0M627.28,170.1h0M653.61,166.68h0M664.57,163.56h0M647.81,173.6h0M650.66,160.67h0M633.88,172.87h0M648.12,172.07h0M644.69,167.77h0M625.05,164.13h0M636.6,163.88h0M632.8,179.94h0M638.02,166.2h0M635.82,162.25h0M645.48,163.69h0M642.03,164.64h0M636.49,165.54h0M655.27,166.7h0M648.06,167.01h0M636.72,173.34h0M666.63,168.07h0M640.11,166.24h0M651.59,164.85h0M622.04,160.62h0M630.11,166.96h0M643.6,172.31h0M651.61,158.63h0M634.3,174.23h0M630.53,160.34h0M649.21,176.03h0M626.97,177.27h0M651.92,167.31h0M642.29,176.8h0M642.9,173.36h0M636.18,176.36h0M643.42,174.36h0M640,169.8h0M645.18,175.3h0M659.93,174.38h0M630.59,169.68h0M643.31,160.84h0M628.17,170.08h0M638.54,161.08h0M632.04,179.72h0M641.51,164.48h0M623.4,175.01h0M648.41,172.67h0M628.81,165.83h0M639.1,167.39h0M656.38,177.35h0M641.71,174.18h0M638.36,170.44h0M645.42,167.11h0M631.45,166.93h0M652.98,176.46h0M632.16,169.48h0M638.37,163.86h0M649.2,177.73h0M652.29,166.91h0M653.77,177.89h0M647.83,159.94h0M624.02,179.95h0M652.81,175.69h0M634.25,175.83h0M638.36,175.68h0M632.82,172.87h0M636.99,174.06h0M650.77,173.18h0M658.2,170.84h0M634.23,166.68h0M659.29,176.48h0M643.69,166.44h0M632.13,170.24h0M625.62,176.8h0M646.52,176.77h0M642.11,163.31h0M645.93,166.48h0M631.31,170.21h0M651.72,165.66h0M660.78,166.81h0M637.69,172.71h0M629.88,174.9h0M629.11,163h0M647.09,177.43h0M642.22,171.63h0M630.93,174.64h0M631.39,173.24h0M634.54,177.62h0M655.52,175.64h0M647.37,167.52h0M635.97,162.83h0M630.81,175.09h0M645.96,162.21h0M624.53,168.84h0M637.11,157.36h0M646.28,178.09h0M644.03,163.26h0M640.42,161.56h0M645.52,175.53h0M646.99,160.39h0M656,173.73h0M630.09,173.66h0M621.18,179.68h0M643.75,174.44h0M627.61,174.19h0M630.1,168.35h0M630.94,176.1h0M636.28,161.77h0M628.46,172.01h0M626.3,166.27h0M639.66,162.07h0M652.05,173.49h0M625.18,161.32h0M624.91,170.97h0M648.3,178.28h0M635.53,168.24h0M622.95,174.38h0M635.67,176.6h0M625.97,170.78h0M657.2,168.27h0M640.21,170.14h0M639.91,161.41h0M657.06,163.21h0M649.9,174.56h0M623.83,160.03h0M651.98,179.71h0M632.54,178.51h0M649.72,169.85h0M649.38,164.77h0M646.36,167.55h0M640.37,162.78h0M652.82,159.94h0M637.56,175.71h0M665.83,161.3h0M661.29,172.97h0M640.79,161.57h0M639.27,165.98h0M662.81,175.86h0M651.57,170.53h0M625.16,164.11h0M653.53,162.01h0M641.17,175.29h0M657.38,174.55h0M647.57,166.1h0M628.18,165.07h0M628.76,175.42h0M665.82,166.75h0M656.59,175.4h0M638.12,169.36h0M638.8,167.86h0M648.51,162.92h0M644.68,164.76h0M649.31,167.39h0M663.32,159h0M642.34,167.34h0M658,168.68h0M653.48,168.13h0M653.22,165.97h0M638,163.84h0M626.05,160.07h0M658.23,176.37h0M633.93,170.18h0M641.78,170.66h0M642.38,167.62h0M655.45,165.11h0M628.66,175.13h0M641.38,170.93h0M644.73,173.61h0M635.02,163.64h0M633.14,164.07h0M646.3,171.7h0M642.28,168.34h0M637.99,165.59h0M651.37,175.47h0M646.66,164.75h0M620.89,178.6h0M645.65,174.21h0M638.85,169.35h0M647.73,163.74h0M648.23,162.08h0M647.14,172.03h0M635.21,177.69h0M660.08,165.24h0M640.68,167.42h0M640.21,159.98h0M632.29,159.7h0M636.86,171.48h0M637.03,172.71h0M631.25,170.47h0M649.72,172.44h0M646.06,165.48h0M641.92,173.94h0M632.6,175.12h0M642.52,171.38h0M652.02,165.55h0M633.28,169.62h0M647.71,171.99h0M641.83,175.36h0M651.58,161.97h0M630.15,170.08h0M662.91,171.78h0M641.56,172.85h0M635.73,162.08h0M630.03,166.92h0M650.93,173.74h0M646.21,167.5h0M649.79,170.59h0M633.2,165.89h0M638.24,164.13h0M644.45,172.69h0M636.64,172.93h0M645.29,174h0M634.76,177.01h0M656.41,167.94h0M651.43,176.75h0M626.49,177.43h0M632.81,163.11h0M645.51,167.8h0M650.33,170.61h0M650.59,172.07h0M629.69,175.66h0M628.25,174.6h0M634.95,177.78h0M632.58,174.57h0M623.15,169.58h0M638.7,171.72h0M636.63,170.81h0M652.86,167.32h0M628.95,173.7h0M650.58,162.11h0M630.85,166.83h0M644.85,165.87h0M650.55,168.44h0M658.99,167.99h0M630.46,172h0M635.77,159.88h0M657.47,176.76h0M650.37,175.44h0M665.11,175.47h0M647.67,166.16h0M640.03,169.48h0M645.05,170.62h0M627.14,169.68h0M630.99,161.56h0M649.19,163.28h0M657.24,167.31h0M642.73,167.98h0M623.92,171.72h0M635.02,166.52h0M640.26,171.57h0M645.89,174.73h0M643.72,176.5h0M637.85,171h0M641.43,177.22h0M655.84,179.74h0M639.15,162.35h0M624.52,172.56h0M637.2,173.72h0M640.86,166.19h0M627.96,166.29h0M623.14,165.83h0M647.83,165.38h0M640.43,177.42h0M624.74,159.42h0M653.28,171.89h0M630.55,161.1h0M639.24,165.25h0M641.92,173.89h0M647.41,177.21h0M626.08,172.19h0M631.6,160.89h0M636.97,165.91h0M642.8,175.46h0M634.26,165.66h0M644.05,175.91h0M647.94,170.1h0M647.31,177.35h0M633.33,167.48h0M638.2,168.76h0M633.26,176.81h0M663.05,171.74h0M646.29,169.32h0M647.65,162.77h0M627.03,163.7h0M636.19,168.23h0M630.16,175.18h0M661.98,161.5h0M647.53,165.2h0M642.03,175.08h0M642.75,172h0M629.07,168.21h0M640.06,159.33h0M640.54,163.18h0M620.43,170.41h0M643.44,180.87h0M651.21,166.15h0M639.43,175.02h0M631.8,171.96h0M627.42,162.26h0M628.11,170.59h0M634.71,169.66h0M648.59,164.33h0M644.32,166.33h0M636.29,177.45h0M646.52,169.68h0M653.81,171.11h0M632.97,159.61h0M646.53,169.9h0M639.66,161.24h0M652.72,176.43h0M649.85,175.64h0M657.54,161.68h0M646.44,171.25h0M639.05,168.47h0M651.58,176.92h0M622.6,164.12h0M629.12,166.17h0M654.7,168.01h0M644.71,171.69h0M645.32,169.15h0M633.07,179.06h0M630.05,170.48h0M623.79,180.19h0M646.96,166.01h0M657.78,162.86h0M653.57,174.61h0M638.63,173.19h0M624.71,160.25h0M620.47,168.72h0M639.33,162.96h0M630.56,165.54h0M643.79,162.4h0M648.77,165.21h0M646.39,165.27h0M640.03,162.48h0M623.07,166.44h0M627.42,176.24h0M643.67,179.51h0M659.5,162.69h0M644.67,170.33h0M625.87,158.31h0M655.22,176.8h0M621.52,164.61h0M656.53,169.42h0M640.57,173.61h0M632.38,167.88h0M632.31,176.79h0M626.76,173.69h0M658.72,168.03h0M645.76,161.26h0M621.03,172.54h0M651.05,176.92h0M630.15,164.93h0M646.76,168.1h0M635.5,165.56h0M655.39,172.56h0M632.36,163.68h0M627.55,163.33h0M652.48,168.09h0M640.91,171.23h0M652.33,161.75h0M657.51,166.26h0M651.98,175.3h0M633.87,172.33h0M658.36,164.57h0M631.29,176.27h0M636.35,173.55h0M653.29,168.06h0M661.03,159.25h0M642,171.04h0M649.86,173.73h0M624.98,156.45h0M633.91,170.38h0M624.05,165.25h0M639.44,171.83h0M649.8,173.62h0M638.97,170.93h0M649.01,164.29h0M643.18,168.41h0M625.58,173.08h0M621.3,163.25h0M648.82,176.1h0M641.64,172.36h0M624.91,176.93h0M642.01,170.49h0M650.64,174.9h0M651.85,172.31h0M641.08,172.08h0M647.51,170h0M626.95,163.62h0M658.23,174.05h0M654.04,171.48h0M621.07,162.83h0M637.99,175.66h0M647.74,167.68h0M647.77,176.59h0M647.4,160.18h0M624.87,179.89h0M635.28,173.52h0M660.25,170.51h0M621.89,162.25h0M654.33,170.04h0M649.5,173.92h0M638.88,172.96h0M627.05,171.33h0M627.48,177.01h0M641.73,169.38h0M627.8,174.93h0M649,172.03h0M630.78,164.8h0M637.89,171.14h0M640.92,167.78h0M650.72,167.99h0M632.54,166.57h0M630.58,170.15h0M637.45,176.7h0M644.6,173.22h0M627.27,163.84h0M645.24,162.64h0M657.35,163.99h0M648.85,163.14h0M622.63,177.5h0M635.72,170.27h0M630.58,163.63h0M643.47,164.97h0M638.89,167h0M648.49,160.14h0M637.12,166.53h0M646.89,173.12h0M643.7,177.41h0M657.38,175.25h0M654.79,167.08h0M637.74,177.71h0M662.41,177.36h0M635.57,181.71h0M634.45,179.59h0M630.64,182.5h0M642.99,176.08h0M633.68,179.38h0M650.34,180.86h0M632.72,177.69h0M647.86,181.6h0M649.93,179.88h0M647.47,177.81h0M649.38,177.42h0M637.76,177.33h0M646.77,178.24h0M635.3,180.43h0M630.01,179.14h0M644.68,175.14h0M635.47,179.85h0M639.48,176.15h0M644.11,174.44h0M642.33,179.4h0M635.95,178.25h0M633.59,174.79h0M649.16,179.62h0M650.87,176.18h0M650.82,175.49h0M625.18,179.79h0M657.78,178.04h0M658.36,177.38h0M646.57,182.36h0M637.06,179.76h0M644.29,178.82h0M647.15,182.73h0M637.67,178.73h0M623.39,180.18h0M634.36,180.09h0M619.54,177.03h0M642.28,177.71h0M652.51,181.4h0M641.74,175.68h0M634.67,178.8h0M644.91,173.4h0M654.36,174.91h0M648.46,181.5h0M636.81,176.84h0M658.15,181.34h0M635.56,184.92h0M626.33,175.98h0M624.75,176.91h0M644.69,181.68h0M637.28,177.85h0M653.96,179.62h0M639.24,182.22h0M629.18,177.42h0M645.34,180.51h0M663.57,176.67h0M653.92,183.89h0M625.26,177.39h0M628.19,177.38h0M649.45,175.06h0M643.74,176.33h0M641.04,181.32h0M646.36,180.37h0M623.82,177.97h0M642.7,176.89h0M657.97,179.51h0M634.05,180.21h0M639.88,179.18h0M629.77,177.78h0M631.71,176.1h0M641.49,179.25h0M621.16,179.19h0M639.97,177.87h0M631.12,176.58h0M641.84,178.75h0M630.99,175.56h0M642.06,182.69h0M639.52,181.24h0M654.71,181.25h0M656.48,176.36h0M642.46,176.66h0M629.79,177.77h0M644.64,178.12h0M627.28,175.09h0M639.91,176.35h0M647.88,179.8h0M659,174.76h0M634.97,174.7h0M651.44,175.76h0M644.03,175.86h0M627.81,177.33h0M641.69,181.22h0M662.75,180.49h0M647.52,181.46h0M644.95,182.47h0M636.73,178.05h0M626.42,175.14h0M642.42,181.86h0M654.94,176.99h0M638.73,180.62h0M635.32,175.34h0M636.93,177.08h0M629.47,176.64h0M629.17,181.17h0M628.58,180.67h0M644.24,177.15h0M640.84,179.66h0M627.43,178.58h0M640.28,181.47h0M641.67,180.94h0M632.22,179.61h0M632.61,177.99h0M629.9,180.58h0M636.04,178.64h0M635.03,174.31h0M622.03,184.6h0M637.23,178.69h0M653.26,180.8h0M635.87,176.16h0M643.37,178.55h0M639.08,182.08h0M639.74,193.06h0M630.2,190.71h0M644.32,191.61h0M638.48,188.46h0M652,186.23h0M639.34,190.69h0M641.34,184.73h0M631.04,185.15h0M639.31,195.15h0M652.19,185.09h0M657.82,184.7h0M647.43,188.23h0M629.23,184.75h0M620.62,193.4h0M643.49,181.71h0M656.02,187.35h0M623.99,181.52h0M649.23,180.28h0M643.97,200.01h0M653.5,187.23h0M650.29,187.68h0M644.6,193.85h0M634.69,194.42h0M645.17,187.19h0M632.03,198.52h0M627.02,190.54h0M632.6,186.62h0M657.19,187.21h0M632.7,198.41h0M621.11,185.04h0M640.57,192.84h0M627.48,191.67h0M629.12,195.37h0M633.56,191.5h0M628.89,192.04h0M649.4,190.23h0M644.68,182.37h0M640.79,182.67h0M640.27,198.57h0M625.58,191.68h0M630.34,187.92h0M649.58,190.46h0M647.21,193.76h0M638.21,182.64h0M646.76,193.04h0M624.71,195.89h0M635.41,190.22h0M646.25,187.73h0M624.73,200.74h0M638.16,200.89h0M637.97,199.72h0M656.85,186.92h0M632.01,182.17h0M624.4,195.75h0M639.53,191.28h0M635.25,184.43h0M647.29,190.79h0M633.97,194.73h0M644.01,193.71h0M631.55,188.2h0M634.36,181.61h0M635.35,189.11h0M648.57,197h0M645.25,192.23h0M609.52,201.37h0M663.11,155.77h0M670.13,161.47h0M671.41,164.32h0M658.01,188.26h0M667.58,174.01h0" stroke="#000" stroke-width="1.16" stroke-linecap="round" fill="none"/>
<line x1="611.1" y1="179" x2="673.8" y2="163.3" stroke="#ff2020" stroke-width="1.1"/>
<text x="680.2" y="196.6" style="font-size:6.2px;stroke-width:0.2px" text-anchor="end" fill="#111" stroke="#111">R = 0.3410</text>
<text x="680.2" y="204.2" style="font-size:6.2px;stroke-width:0.2px" text-anchor="end" fill="#111" stroke="#111"><tspan font-style="italic">P</tspan> &lt; 0.0001</text>
<line x1="604.4" y1="216.6" x2="604.4" y2="274" stroke="#3a3a3a" stroke-width="0.9"/>
<line x1="601.8" y1="216.1" x2="604.4" y2="216.1" stroke="#3a3a3a" stroke-width="0.9"/>
<text x="601" y="218.26" style="font-size:6px;stroke-width:0.19px" text-anchor="end" fill="#111" stroke="#111">6</text>
<line x1="601.8" y1="224.3" x2="604.4" y2="224.3" stroke="#3a3a3a" stroke-width="0.9"/>
<text x="601" y="226.46" style="font-size:6px;stroke-width:0.19px" text-anchor="end" fill="#111" stroke="#111">4</text>
<line x1="601.8" y1="232.5" x2="604.4" y2="232.5" stroke="#3a3a3a" stroke-width="0.9"/>
<text x="601" y="234.66" style="font-size:6px;stroke-width:0.19px" text-anchor="end" fill="#111" stroke="#111">2</text>
<line x1="601.8" y1="240.7" x2="604.4" y2="240.7" stroke="#3a3a3a" stroke-width="0.9"/>
<text x="601" y="242.86" style="font-size:6px;stroke-width:0.19px" text-anchor="end" fill="#111" stroke="#111">0</text>
<line x1="601.8" y1="248.9" x2="604.4" y2="248.9" stroke="#3a3a3a" stroke-width="0.9"/>
<text x="601" y="251.06" style="font-size:6px;stroke-width:0.19px" text-anchor="end" fill="#111" stroke="#111">-2</text>
<line x1="601.8" y1="257.1" x2="604.4" y2="257.1" stroke="#3a3a3a" stroke-width="0.9"/>
<text x="601" y="259.26" style="font-size:6px;stroke-width:0.19px" text-anchor="end" fill="#111" stroke="#111">-4</text>
<line x1="601.8" y1="265.3" x2="604.4" y2="265.3" stroke="#3a3a3a" stroke-width="0.9"/>
<text x="601" y="267.46" style="font-size:6px;stroke-width:0.19px" text-anchor="end" fill="#111" stroke="#111">-6</text>
<line x1="601.8" y1="273.5" x2="604.4" y2="273.5" stroke="#3a3a3a" stroke-width="0.9"/>
<text x="601" y="275.66" style="font-size:6px;stroke-width:0.19px" text-anchor="end" fill="#111" stroke="#111">-8</text>
<line x1="604.4" y1="274" x2="680.2" y2="274" stroke="#3a3a3a" stroke-width="0.9"/>
<line x1="604.43" y1="274" x2="604.43" y2="276.8" stroke="#3a3a3a" stroke-width="0.9"/>
<text x="604.43" y="282.2" style="font-size:6px;stroke-width:0.19px" text-anchor="middle" fill="#111" stroke="#111">-4</text>
<line x1="617.07" y1="274" x2="617.07" y2="276.8" stroke="#3a3a3a" stroke-width="0.9"/>
<text x="617.07" y="282.2" style="font-size:6px;stroke-width:0.19px" text-anchor="middle" fill="#111" stroke="#111">-2</text>
<line x1="629.7" y1="274" x2="629.7" y2="276.8" stroke="#3a3a3a" stroke-width="0.9"/>
<text x="629.7" y="282.2" style="font-size:6px;stroke-width:0.19px" text-anchor="middle" fill="#111" stroke="#111">0</text>
<line x1="642.33" y1="274" x2="642.33" y2="276.8" stroke="#3a3a3a" stroke-width="0.9"/>
<text x="642.33" y="282.2" style="font-size:6px;stroke-width:0.19px" text-anchor="middle" fill="#111" stroke="#111">2</text>
<line x1="654.97" y1="274" x2="654.97" y2="276.8" stroke="#3a3a3a" stroke-width="0.9"/>
<text x="654.97" y="282.2" style="font-size:6px;stroke-width:0.19px" text-anchor="middle" fill="#111" stroke="#111">4</text>
<line x1="667.6" y1="274" x2="667.6" y2="276.8" stroke="#3a3a3a" stroke-width="0.9"/>
<text x="667.6" y="282.2" style="font-size:6px;stroke-width:0.19px" text-anchor="middle" fill="#111" stroke="#111">6</text>
<line x1="680.24" y1="274" x2="680.24" y2="276.8" stroke="#3a3a3a" stroke-width="0.9"/>
<text x="680.24" y="282.2" style="font-size:6px;stroke-width:0.19px" text-anchor="middle" fill="#111" stroke="#111">8</text>
<text x="641" y="289.3" style="font-size:6.2px;stroke-width:0.2px" text-anchor="middle" fill="#111" stroke="#111">ICAM1</text>
<text transform="translate(590.8,244.3) rotate(-90)" x="0" y="0" style="font-size:6.2px;stroke-width:0.2px" text-anchor="middle" fill="#111" stroke="#111">PD-L1</text>
<path d="M626.3,247.17h0M642.41,235.87h0M632.92,250.69h0M653.17,234.4h0M640.91,243.43h0M632.01,249.65h0M635.13,257.1h0M658.98,233.37h0M660.89,230.44h0M644.71,238.69h0M622.44,255.66h0M648.33,242.51h0M623.17,251.03h0M626.52,249.63h0M655.6,242.86h0M635.05,243.81h0M639.36,243.67h0M631.02,249.3h0M637.81,239.52h0M628.18,249.79h0M646.86,236.15h0M651.5,243.45h0M635.35,238.45h0M634.85,245.05h0M630.97,250.72h0M634.02,256.21h0M629.23,252.84h0M653.43,235.5h0M643.7,245h0M625.35,248.04h0M631.1,248.32h0M649.22,241.35h0M639.29,248.87h0M650.3,237.79h0M646.82,234.41h0M622.92,251.01h0M646.13,240.33h0M642.69,241.13h0M623.87,251.08h0M651.47,239.87h0M637.54,241.55h0M621.63,249.92h0M655.1,239.29h0M631.1,245.54h0M634.9,249.88h0M641.24,251h0M646.41,246.9h0M633.91,243.54h0M639.22,243.43h0M653.66,232.13h0M660.93,238.23h0M648.95,247.87h0M647.75,235.44h0M632.1,245.41h0M648.14,241.68h0M633.02,240.48h0M626.03,249.16h0M649.32,239.48h0M655.76,231.45h0M644.35,234.76h0M647.24,246.71h0M636.22,244.59h0M641.52,251.04h0M663.11,241.77h0M627.97,247.14h0M641.6,236.9h0M641.85,241.86h0M647.03,244.62h0M626.29,251.78h0M650,241.46h0M652.39,241.66h0M647.32,241.17h0M648.21,240.89h0M641.63,245.62h0M652.38,239.41h0M644.72,239.49h0M630.44,251.7h0M639.16,239.01h0M628.78,253.19h0M629.47,250.17h0M628.67,252.36h0M645.02,246.96h0M639.51,249.56h0M637.55,242.94h0M619.08,252.41h0M641.92,243.71h0M642.25,241.51h0M626.33,250.26h0M646.23,236.08h0M625.68,252.58h0M625.63,250.09h0M628.68,253.06h0M647.51,231.42h0M618.54,245.68h0M630.24,245.17h0M643.24,237.54h0M637.51,248.83h0M639,241.18h0M630.51,246.26h0M639.56,243.61h0M639.74,241.69h0M647.87,242.31h0M636.05,255.15h0M630.66,254.6h0M646.56,246.27h0M632.52,244.92h0M649.81,234.97h0M630.94,246.82h0M650.57,243.64h0M637.33,250.59h0M633.1,243.9h0M640.6,245.55h0M633.96,240.03h0M647.37,246.62h0M661.79,237.23h0M638.12,247.09h0M633.83,243.9h0M624.9,250.14h0M636.34,238.09h0M643.66,240.83h0M645.05,239.58h0M640.94,254.46h0M644.01,243.97h0M646.87,240.08h0M634.11,250.44h0M629.32,247.25h0M638.61,248.6h0M635.97,244.3h0M632.91,247.59h0M633.49,258.07h0M640.62,243.67h0M647.96,235.33h0M632.31,244.7h0M642.42,242.88h0M648.14,237.12h0M626.8,243.09h0M637.9,247.92h0M632.66,248.12h0M628.27,244.19h0M644.06,246.46h0M648.09,239.91h0M640.53,239.8h0M638.76,245.81h0M644.83,250.18h0M627.49,247.02h0M650.59,247.21h0M639.84,247.12h0M636.84,242.85h0M654.89,230.56h0M649.34,237.65h0M641.17,251.8h0M643.72,247.85h0M628.38,248.34h0M623.66,243.09h0M645.82,240.26h0M644.62,241.28h0M640.37,240.97h0M632.89,245.86h0M641.42,240.24h0M628.53,247.73h0M638.41,242.09h0M645.21,241.29h0M644.4,240.49h0M653.57,237.39h0M645.15,246.14h0M637.64,241.8h0M650.38,244.22h0M639.31,245.63h0M640.27,246.15h0M635.42,246.28h0M640.99,239.38h0M631.08,251.92h0M647.72,238.9h0M637.82,250.04h0M650.41,244.63h0M651.2,238.59h0M638.22,245.63h0M648.02,240.9h0M622.1,254.4h0M643.78,238.66h0M650.18,245.9h0M661.25,227.77h0M638.6,253.32h0M630.88,243.34h0M660.68,238.18h0M621.02,255.99h0M659.13,236.49h0M625.49,259.06h0M646.17,238.22h0M634.87,247.1h0M640.5,245.45h0M634.16,249.02h0M633.71,241.4h0M643.77,238.25h0M658.37,246.65h0M639.05,240.43h0M637.54,247.75h0M643.73,244.97h0M631.18,249.06h0M640.26,244.03h0M648.82,240.54h0M634.89,233.09h0M637.4,246.39h0M638.25,247.91h0M623.73,249.89h0M654.5,246.2h0M632.04,245.55h0M632.81,244.8h0M639.22,249.25h0M637.52,247.41h0M645.2,253.04h0M643.88,236.88h0M641.23,242.66h0M634.29,245.03h0M638.21,250.43h0M627.7,259.14h0M644.1,241.79h0M650.74,238.76h0M646.73,247.26h0M620.79,254.38h0M636.37,244.08h0M638.36,245.56h0M640.13,243.04h0M641.74,242.11h0M634.62,246.75h0M624.8,255.11h0M636.95,243.56h0M632.05,253.46h0M649.39,244.01h0M622.27,255.51h0M627.69,259.58h0M635.79,238.61h0M632.18,250.87h0M651.28,239.27h0M638.66,238.86h0M627.75,249.38h0M644.81,241.38h0M627.83,253.09h0M657.71,237.47h0M637.03,240.74h0M621.57,251.84h0M621.87,245.47h0M629.68,247.86h0M630.38,247.5h0M642.92,242.97h0M636.49,244.52h0M637.28,247.45h0M646.09,238.05h0M626.05,254.13h0M631.86,246.18h0M625.53,243.31h0M640.16,243.44h0M648.55,243.95h0M643.49,241.02h0M652.79,243.54h0M653.74,236.07h0M642.28,238.66h0M637.23,246.11h0M648.2,242.37h0M650.69,233.95h0M641.96,242.6h0M633.23,250.83h0M654.31,242.84h0M640.64,242.62h0M630.73,250.81h0M632.69,237.97h0M643.55,236.74h0M660.33,231.61h0M653.11,240.76h0M632.87,240.77h0M654.59,242.64h0M651.39,238.27h0M647.91,236.79h0M659.04,239.14h0M639.9,238.72h0M637.28,242.85h0M639.14,251.75h0M634.34,242.57h0M634.43,252.94h0M634.87,245.71h0M644.89,240.69h0M645.27,246.49h0M633.88,249.83h0M635.53,243.97h0M653.42,239.67h0M650.68,234.99h0M628.43,252.22h0M641.53,249.37h0M658.88,244.52h0M627.63,245.67h0M632.49,244.02h0M630.08,243.5h0M634.15,243.29h0M650.16,246.39h0M631.1,255.14h0M628.87,244.57h0M639.74,240.5h0M654.4,233.79h0M647.36,242.91h0M636.17,244.2h0M648.84,235.8h0M643.1,244.02h0M639.31,237.16h0M642.93,234.24h0M632.92,243.1h0M642.31,239.8h0M632.55,245.55h0M639.48,245.41h0M628.1,254.87h0M636.77,242.95h0M642.77,241.84h0M643.4,248.42h0M650.86,239.32h0M632.59,249.32h0M650.12,239.09h0M623.41,241.65h0M625.26,242.56h0M648.73,244.78h0M652.71,233.46h0M650.69,236.89h0M643.46,241.66h0M634.82,244.89h0M653.07,239.17h0M660.01,242.58h0M640.53,250.12h0M622.53,249.91h0M636.93,247.58h0M629.55,249.18h0M623.91,251.28h0M634.9,251.38h0M644.37,250.19h0M644.54,240.99h0M645.52,241.17h0M648.22,241.78h0M629.32,246.64h0M632.28,248.62h0M641.43,247.37h0M650.11,246.48h0M652.54,239.06h0M657.3,232.25h0M647.03,239.88h0M641.4,249.29h0M634.61,250.16h0M633.05,247.31h0M632.23,246.49h0M637.64,246.91h0M644.16,240.29h0M626.75,250.64h0M669.63,231.98h0M644.86,245.8h0M650.05,233.33h0M646.07,242.09h0M640.51,251.87h0M646.19,242.78h0M644.21,240.67h0M642.36,234.02h0M649.47,242.94h0M646.37,238.7h0M640.62,237.68h0M636.53,252.85h0M629.5,246.53h0M630.29,247.22h0M625.05,248.34h0M637.64,248.8h0M634.64,247.28h0M649.41,239.16h0M638.16,244.02h0M649.15,238.29h0M657.82,239.88h0M648.47,240.02h0M633.89,243.87h0M648.6,236.31h0M645.07,245.68h0M641.94,241.54h0M656.94,236.63h0M641.76,236.57h0M640.88,245.53h0M643.1,239.42h0M641.76,250.42h0M636.19,241.21h0M632.8,243.19h0M641.94,246.59h0M648.23,249.81h0M619.22,258.96h0M645.54,242.91h0M646.56,241.65h0M641.54,245.58h0M636.26,241.25h0M647.93,246.46h0M645.98,232.92h0M647.81,244.84h0M647.68,239.94h0M637.03,241.01h0M652.52,241.14h0M641.45,245.06h0M640.27,237.05h0M635.9,243.18h0M642.82,242.47h0M628.98,245.74h0M629.26,245.19h0M639.33,243.64h0M635.63,249.36h0M629.98,247.95h0M639.39,242.99h0M637.35,241.74h0M641.66,242.77h0M637.81,244.92h0M646.73,244.24h0M628.23,247.06h0M644.43,242.06h0M642.65,248.43h0M630.54,247.78h0M639.9,249.27h0M644.86,250.08h0M652.58,243.36h0M634.63,250.55h0M626.8,250.63h0M621.35,252.9h0M641.88,244.48h0M639.99,250.1h0M621.8,256.92h0M650.73,238.32h0M622.37,243.84h0M646.45,236.78h0M650.24,234.34h0M623.36,250.35h0M632.46,238.82h0M647.01,241.18h0M637.64,253.89h0M641.19,247.06h0M653.68,235.34h0M639.39,245.9h0M651.17,241.75h0M651.1,238.64h0M637.31,243.5h0M657.55,243.71h0M647.61,237.79h0M637.6,238.75h0M646.83,238.92h0M630.14,245.51h0M627.31,246.95h0M661.58,239.11h0M655.67,242.28h0M640.83,240.61h0M625.76,248.33h0M632.45,249.65h0M648.54,240.9h0M644.18,242.23h0M643.94,235.81h0M641.4,244.63h0M640.42,240.77h0M644.72,251.19h0M639.41,242.38h0M666.18,235.98h0M637.43,249.94h0M639.46,251.71h0M631.78,247.65h0M625.1,251.13h0M633.31,241.34h0M656.05,228.56h0M641.55,240.52h0M663.78,237.17h0M657.1,241h0M650.69,246.34h0M636.18,246.37h0M637.61,253.23h0M641.39,244.68h0M654.98,235.49h0M618.47,252.11h0M650.79,240.07h0M633.06,252.61h0M636.45,249.43h0M637.38,246.43h0M652.92,243h0M643.46,247.28h0M642.89,238.45h0M634.42,251.3h0M640.49,243.71h0M633.74,244.73h0M640.85,240.79h0M626.36,246.28h0M652.78,242.36h0M659.96,234.98h0M627.1,253.75h0M632.66,249.73h0M637.74,243.65h0M638.08,246.15h0M630.48,256.57h0M633,252.07h0M648.95,250.73h0M651.57,251.56h0M638.13,244.71h0M628.95,252.63h0M648.88,245.06h0M639.17,244.16h0M646.67,246.72h0M653.31,239.32h0M650.27,245.93h0M651.05,239.97h0M647.92,243.56h0M648.76,240.35h0M621.06,240.96h0M633.41,244.68h0M638.14,246.7h0M636.34,241.56h0M649.5,236.23h0M623.71,247.09h0M624.98,240.16h0M643.97,237.55h0M640.06,243.39h0M632.96,238.3h0M636.79,240.62h0M631.95,247.89h0M636.18,246.02h0M634.97,243.31h0M646.73,248.2h0M635.67,251.39h0M650.91,245.01h0M644.83,241.42h0M639.55,252.56h0M657.23,237.7h0M646.97,236.67h0M630.03,252.28h0M657.45,228.65h0M631.83,247.65h0M649.7,240.74h0M653.41,236.02h0M639.38,241.38h0M635.33,240.45h0M633.46,241.01h0M665.45,241.29h0M657.28,243.43h0M639.43,236.35h0M651.09,236.64h0M643.92,241.67h0M644.8,242.92h0M637.28,250.39h0M657.75,236.94h0M659.38,233h0M644.75,246.81h0M637.54,244.79h0M638.92,245.73h0M636.05,246.67h0M635.28,247.25h0M624.35,253.97h0M655.07,241.99h0M634.85,249.63h0M638.5,246.83h0M660.42,240.25h0M653.88,240.43h0M644.68,231.18h0M640.04,244h0M636.73,246.28h0M641.47,242.38h0M629.07,252.43h0M647.95,241.94h0M640.56,240.89h0M641.27,242.8h0M629.27,248.28h0M623.03,243.17h0M632.42,239.76h0M635.2,246.48h0M653.43,237.65h0M642.09,244.28h0M637.63,248.09h0M632.45,254.7h0M638.73,247.84h0M654.51,228.95h0M659.58,241.19h0M636.63,245.85h0M624.75,243.34h0M647.53,239.64h0M659.91,233.8h0M637.27,243.82h0M635.59,243.63h0M627.03,246.94h0M637.32,246.84h0M636.45,245.88h0M622.67,248.31h0M638.34,236.83h0M640.18,239.77h0M640.03,244.48h0M627.99,250.75h0M634.42,256.6h0M637.35,248.08h0M643.45,238.06h0M637.29,239.87h0M652.96,235.39h0M637,244.66h0M656.98,230.39h0M651.98,246.54h0M658.43,233.39h0M654.06,235.73h0M637.34,242.97h0M639.95,237.44h0M648.95,244.39h0M632.7,242.44h0M649.36,238.87h0M643.91,247.71h0M631.74,244.93h0M621.84,249.06h0M646.34,238.49h0M649.04,231.98h0M643.41,246.03h0M623.1,260.41h0M641.44,239.45h0M623.45,249.77h0M633.19,247.71h0M642.65,242.64h0M628.41,245.26h0M639.09,252.35h0M648.31,233.69h0M636.5,238.32h0M624.38,251.23h0M653.68,232.68h0M645.71,236.96h0M636.28,242.24h0M650.21,235.64h0M644.3,238.49h0M644.88,239.26h0M624.72,247.41h0M630.91,249.15h0M641.04,242.36h0M627.07,251.36h0M642.9,244.47h0M640.75,242.56h0M642.62,245.17h0M642.3,240.46h0M627.54,245.49h0M630.28,246.19h0M646.66,238.41h0M628.47,252.48h0M628.44,246.05h0M641.81,250.95h0M647.94,235.55h0M635.11,246.19h0M642.92,247.08h0M636.06,243.07h0M636.91,245.17h0M641.54,235.83h0M643.1,241.18h0M635.58,240.3h0M641.08,243.57h0M653.76,232.53h0M630.99,248.87h0M653.37,240.55h0M656.35,238.01h0M660.17,239.97h0M620.61,257.99h0M660.5,238.78h0M635.96,248.01h0M632.86,246.09h0M641.69,245.92h0M635,240.12h0M650.1,235.54h0M653,239.5h0M649.31,233.02h0M632,241.24h0M621,257.89h0M630.22,252.03h0M635.39,242.24h0M632.91,248.37h0M627.13,256.01h0M638.47,247.78h0M649.33,239.67h0M621.89,248.07h0M628.13,250.43h0M629.71,251.65h0M634.18,251.43h0M632.79,248.07h0M647.57,237.85h0M658.33,243.58h0M636.26,240.22h0M628.76,249.21h0M647.58,234.25h0M646.06,240.12h0M638.59,241.85h0M641.24,241.99h0M633.67,247.08h0M631.26,252.21h0M631.61,250.99h0M633.37,249.15h0M624.76,248.8h0M643.36,235.96h0M625.79,253.9h0M631.3,247.24h0M631.52,250.74h0M647.53,241.77h0M623.77,246.44h0M662.84,229.95h0M638.48,238.76h0M639.41,245.75h0M642.67,237.34h0M641.28,244.8h0M626.1,248.79h0M629.22,248.77h0M626.07,253.36h0M630.29,250.79h0M628.57,243.3h0M647.97,242.24h0M629.57,243.49h0M637.63,242.51h0M650.27,241.63h0M644.54,240.26h0M635.74,246.47h0M633.81,261.13h0M636.15,238.46h0M650.39,228.11h0M640.85,239.86h0M633.81,249.73h0M631.27,245.57h0M647.93,249.05h0M647.19,237.21h0M648.07,246.27h0M642.09,241.77h0M626.62,254.29h0M662.33,237.94h0M635.13,254.37h0M633.84,240.66h0M644.01,246.07h0M640.46,242.27h0M645.99,245.89h0M643.85,245.34h0M635.03,249.69h0M631.97,245.17h0M622.29,250.31h0M667.46,236.81h0M637.18,245.47h0M655.77,243.82h0M645.74,242.15h0M659.84,236.94h0M660.14,240.07h0M643.67,247.29h0M634.05,251.81h0M635.96,239.02h0M634.66,235.6h0M656.27,236.18h0M640.13,242.65h0M632.43,244.55h0M640.96,252.04h0M640.39,241.41h0M640.56,242.49h0M640.07,246.1h0M650.58,233.78h0M636.95,241.85h0M629.12,243.08h0M631.74,247.2h0M649.54,242.36h0M640.43,239.57h0M634.48,244.82h0M650.99,238.55h0M632.21,248.88h0M637.49,245h0M646.31,248.17h0M639.28,243.5h0M655.09,244.22h0M631.14,243.83h0M639.56,239.57h0M639.55,247.01h0M639.42,239.03h0M647.21,240.33h0M641.43,238.92h0M646.18,240.53h0M647.26,240.72h0M628.88,244.71h0M651.98,233.32h0M639.34,249.44h0M644.06,244.91h0M621.36,250.92h0M632.36,246.84h0M635.16,242.54h0M648.49,238.52h0M651.7,241.62h0M663.48,241.92h0M647.37,236.73h0M636.04,245.15h0M628.12,250.71h0M642.88,248.26h0M620.65,253.36h0M631.65,251.49h0M638.32,250.57h0M650.79,234.87h0M640.29,246.44h0M639.38,244.76h0M632.13,249.98h0M644.16,246.21h0M633.64,248.53h0M630.08,246.99h0M627.3,245.29h0M647.02,241.38h0M648.31,236.13h0M636.1,245.88h0M633.94,248.06h0M636.12,245.3h0M645,232.85h0M643.23,238.82h0M637.67,238.09h0M641.11,244.38h0M637.17,245.11h0M636.05,244.94h0M657.26,236.85h0M632.47,254.89h0M638.87,248.78h0M632.33,246.58h0M643.29,240.82h0M651.2,243.57h0M633.44,250.42h0M629.98,250.87h0M631.57,244.64h0M629.38,239.23h0M619.66,248.85h0M624.46,252.4h0M627.89,248.98h0M644.5,244.05h0M633.34,250.96h0M631.53,251.11h0M633.13,246.66h0M648.39,243.71h0M619.92,253.79h0M647.77,245.33h0M643.26,247.7h0M627.26,248.4h0M621.53,253.34h0M629.38,246.93h0M634.71,249.31h0M644.84,246.13h0M628.34,250.66h0M638.84,244.13h0M637.78,240.22h0M645.04,242.82h0M662.03,241.9h0M641.9,246.75h0M660.49,234.83h0M647.54,239.6h0M653.83,240.99h0M648.36,248.07h0M645.03,237.53h0M647.98,238.58h0M621.18,251.5h0M636.15,239.5h0M644.73,239.67h0M652.24,237.17h0M626.12,253.23h0M619.01,247.7h0M637.55,250.62h0M644.26,244.36h0M636.46,240.31h0M619.36,258.72h0M638.46,245.96h0M650.46,241.59h0M644.53,235.3h0M626.06,255.85h0M632.44,248.23h0M628.68,247.81h0M631.84,242.87h0M644.38,239.73h0M641.55,242.83h0M623.48,251.9h0M621.97,246.06h0M628.3,252.82h0M634.93,237.2h0M628.54,241.96h0M640.73,233.24h0M637.22,247.72h0M639.13,246.98h0M632.4,244.43h0M634.94,242.66h0M645.25,238.34h0M654.8,233.93h0M630.13,242.71h0M651.79,234.5h0M628.95,243.43h0M620.99,247.76h0M635.38,247.36h0M637.7,247.59h0M646.59,241.87h0M638.95,244.52h0M635.83,250.2h0M645.24,238.71h0M627.83,245.21h0M651.79,238.84h0M653.75,247.81h0M652.87,242.21h0M642.34,247.19h0M663.43,236.57h0M645.95,248h0M636.52,243.91h0M638.3,248.12h0M654.03,245.09h0M640.26,244.9h0M635.85,243.25h0M641.77,244.34h0M645.85,242.27h0M644.65,237.09h0M641.82,243.28h0M633.86,240.85h0M648.91,238.48h0M642.46,246.76h0M640.31,242.9h0M628.09,253.06h0M638.38,236.93h0M643.05,249.11h0M651.92,235.74h0M646.45,243.96h0M638.36,235.8h0M650.45,220.91h0M621.64,258.25h0M635.29,249.98h0M632.96,244.06h0M652.58,245.15h0M645.13,238.61h0M642.01,237.79h0M650.97,243.23h0M640.89,242.76h0M627.79,250.13h0M649.57,238.77h0M639.85,233.49h0M645.72,237.94h0M631.04,242.75h0M635.25,246.9h0M635.49,251.41h0M645.22,247.31h0M647.76,244.49h0M652.09,237.98h0M651.12,244.4h0M645.21,239.03h0M642.36,243.75h0M633.86,260.34h0M644.61,247.69h0M629.35,246.95h0M632.09,244.52h0M639.88,245.17h0M631.92,246.72h0M624.42,252.85h0M647.53,245.03h0M638.34,246.44h0M627.28,257.62h0M631.02,251.07h0M629.42,248.7h0M642.7,240.48h0M643.18,247.84h0M653.37,237.34h0M646.93,246.82h0M650.37,230.36h0M644.8,237.54h0M633.91,245.94h0M639.12,241.74h0M641.26,242.55h0M630.67,252.95h0M639.55,233.72h0M610.12,241.11h0M615.17,240.7h0M619.59,240.7h0M612.64,267.35h0M625.28,266.94h0M636.65,266.94h0M650.55,222.25h0M666.34,224.71h0M672.66,226.35h0M669.5,226.35h0M657.49,254.23h0" stroke="#000" stroke-width="1.16" stroke-linecap="round" fill="none"/>
<line x1="612" y1="256.4" x2="674.6" y2="231" stroke="#ff2020" stroke-width="1.1"/>
<text x="680.2" y="263.1" style="font-size:6.2px;stroke-width:0.2px" text-anchor="end" fill="#111" stroke="#111">R = 0.6255</text>
<text x="680.2" y="270.8" style="font-size:6.2px;stroke-width:0.2px" text-anchor="end" fill="#111" stroke="#111"><tspan font-style="italic">P</tspan> &lt; 0.0001</text>
<text x="571.8" y="302.7" style="font-size:10px;stroke-width:0.2px;font-weight:bold" fill="#000" stroke="#000">h</text>
<line x1="604.2" y1="306.6" x2="604.2" y2="364.2" stroke="#3a3a3a" stroke-width="0.9"/>
<line x1="601.6" y1="306.6" x2="604.2" y2="306.6" stroke="#3a3a3a" stroke-width="0.9"/>
<text x="600.8" y="308.76" style="font-size:6px;stroke-width:0.19px" text-anchor="end" fill="#111" stroke="#111">8</text>
<line x1="601.6" y1="318.1" x2="604.2" y2="318.1" stroke="#3a3a3a" stroke-width="0.9"/>
<text x="600.8" y="320.26" style="font-size:6px;stroke-width:0.19px" text-anchor="end" fill="#111" stroke="#111">6</text>
<line x1="601.6" y1="329.6" x2="604.2" y2="329.6" stroke="#3a3a3a" stroke-width="0.9"/>
<text x="600.8" y="331.76" style="font-size:6px;stroke-width:0.19px" text-anchor="end" fill="#111" stroke="#111">4</text>
<line x1="601.6" y1="341.1" x2="604.2" y2="341.1" stroke="#3a3a3a" stroke-width="0.9"/>
<text x="600.8" y="343.26" style="font-size:6px;stroke-width:0.19px" text-anchor="end" fill="#111" stroke="#111">2</text>
<line x1="601.6" y1="352.6" x2="604.2" y2="352.6" stroke="#3a3a3a" stroke-width="0.9"/>
<text x="600.8" y="354.76" style="font-size:6px;stroke-width:0.19px" text-anchor="end" fill="#111" stroke="#111">0</text>
<line x1="601.6" y1="364.1" x2="604.2" y2="364.1" stroke="#3a3a3a" stroke-width="0.9"/>
<text x="600.8" y="366.26" style="font-size:6px;stroke-width:0.19px" text-anchor="end" fill="#111" stroke="#111">-2</text>
<line x1="604.2" y1="364.2" x2="680.6" y2="364.2" stroke="#3a3a3a" stroke-width="0.9"/>
<line x1="604.2" y1="364.2" x2="604.2" y2="367" stroke="#3a3a3a" stroke-width="0.9"/>
<line x1="616.9" y1="364.2" x2="616.9" y2="367" stroke="#3a3a3a" stroke-width="0.9"/>
<line x1="629.6" y1="364.2" x2="629.6" y2="367" stroke="#3a3a3a" stroke-width="0.9"/>
<line x1="642.3" y1="364.2" x2="642.3" y2="367" stroke="#3a3a3a" stroke-width="0.9"/>
<line x1="655" y1="364.2" x2="655" y2="367" stroke="#3a3a3a" stroke-width="0.9"/>
<line x1="667.7" y1="364.2" x2="667.7" y2="367" stroke="#3a3a3a" stroke-width="0.9"/>
<line x1="680.4" y1="364.2" x2="680.4" y2="367" stroke="#3a3a3a" stroke-width="0.9"/>
<text transform="translate(643.7,310.1) scale(1,1.07)" x="0" y="0" style="font-size:7.5px;stroke-width:0.2px" text-anchor="middle" fill="#111" stroke="#111">GBM</text>
<text transform="translate(590.8,335.5) rotate(-90)" x="0" y="0" style="font-size:6.2px;stroke-width:0.2px" text-anchor="middle" fill="#111" stroke="#111">CD47</text>
<path d="M634.29,318.39h0M637.89,322.19h0M644.88,330.32h0M643.35,324.82h0M659.48,326.78h0M650.19,324.02h0M655.18,320.83h0M647.93,324.98h0M655.16,328.69h0M664.43,318.92h0M643.13,321.86h0M652.49,326.27h0M648.44,328.32h0M643.53,328.88h0M665.37,317.42h0M657.88,329.96h0M644.45,321.8h0M646.28,319.74h0M633.41,322.18h0M649.09,320.3h0M642.19,317.14h0M643.91,322.69h0M625.67,323.75h0M626.43,328.76h0M634.84,327.73h0M656.19,322.26h0M642.25,329.06h0M626.86,319.98h0M641.45,327.72h0M647.71,320.17h0M647.35,324.46h0M646.33,323.99h0M636.76,330.62h0M640.3,326.39h0M652.03,325.36h0M656.74,322.29h0M660.89,327.08h0M637.76,323.18h0M625.06,320.9h0M627.91,321.18h0M652.45,322.11h0M650.62,329.7h0M636.29,318.56h0M632.27,326.22h0M648.86,328.17h0M638.54,328.96h0M644.08,323.71h0M654.2,330.84h0M648.23,328.97h0M640.32,321.58h0M647.67,328.47h0M657.62,329.79h0M647.79,322.07h0M635.65,329.22h0M648.41,324.59h0M638.6,326.81h0M645.81,329.51h0M652.6,323.37h0M635.54,326.54h0M656.67,324.31h0M628.45,330.52h0M636.02,318.42h0M639.99,325.16h0M659.15,329.21h0M654.29,322.63h0M648.97,324.93h0M644.38,320.38h0M638.79,326.44h0M641.93,319.53h0M647.6,328.14h0M653.4,327.29h0M658.42,321.94h0M651.77,322.86h0M648.18,320.38h0M630.25,319.62h0M655.05,324.13h0M634.81,323.41h0M653.87,327.73h0M650.8,327.06h0M625.25,326.84h0M642.08,330.91h0M652.72,325.66h0M648.97,331.22h0M649.65,325.25h0M634.56,323.8h0M635.36,320.9h0M634.99,321.66h0M651.14,323.73h0M657.39,329.23h0M645.79,321.4h0M635.51,321.91h0M628,320.48h0M636.07,326.21h0M639.71,326.05h0M658.01,326.78h0M629.63,329.74h0M660.83,325.94h0M633.83,329.98h0M658.73,321.9h0M635.17,324.94h0M668.6,325.08h0M652.03,322.03h0M649.87,327.62h0M647.85,316.91h0M647.43,318.12h0M642.86,320.89h0M649.91,318.74h0M641.42,319.55h0M642.82,318.3h0M653.52,332.09h0M632.33,319.97h0M644.05,329.88h0M649.58,322.5h0M642.62,328.54h0M637.2,330.63h0M642.73,327.87h0M640.97,328.5h0M631.36,322.02h0M656.57,318.38h0M647.25,321.82h0M643.57,329.86h0M650.49,323.57h0M642.33,329.35h0M636.07,328.23h0M650.83,325.52h0M651.52,331.02h0M628.41,330.57h0M637.34,320.68h0M632.63,320.05h0M651.45,325.06h0M658.07,326.71h0M642.07,331.1h0M650.01,327.32h0M641.59,320.9h0M644.27,323.24h0M655.19,328.03h0M642.99,322.37h0M630.63,328.29h0M640.87,320.63h0M640.18,327.27h0M626.38,323.84h0M650.5,324.35h0M645.07,320.25h0M656.33,326.48h0M642.84,326.77h0M642.56,327.45h0M644.86,319.38h0M636.18,330.79h0M649.25,323.11h0M656.39,321.68h0M648.15,326.08h0M644.32,325.89h0M661.62,325.95h0M642.51,319.28h0M654.83,326.71h0M646.35,317.84h0M644.56,319.45h0M661.33,327.79h0M659.15,323.87h0M648.95,319.07h0M643.05,327.87h0M665.16,321.76h0M644.18,319.08h0M639.65,321.77h0M631.54,318.98h0M651.31,320.87h0M650.28,325.35h0M656.54,329.81h0M666.16,324.8h0M653.74,320.51h0M644.1,324.52h0M640.23,325.91h0M627.77,325.92h0M654.25,321.17h0M667.78,322.37h0M655.22,317.64h0M661.67,316.86h0M633.01,319.88h0M635.15,326.86h0M653.51,320.6h0M658.98,321.03h0M645.95,319.15h0M648.95,327.94h0M626.12,328.25h0M642.42,326.36h0M660.92,319.98h0M649.49,325.54h0M626.33,318.18h0M664.39,319.6h0M643.55,330.95h0M634.4,328.17h0M654.47,327.88h0M657.82,325.41h0M660.84,325.5h0M647.46,321.56h0M635.29,324.93h0M658.73,329.27h0M665.65,326.97h0M656.06,326.57h0M640.36,323.7h0M635.25,322.35h0M658.09,329.55h0M658.84,323.1h0M646.18,323.06h0M638.66,328.27h0M639.75,327.5h0M652.67,319.32h0M630.36,319.09h0M638.11,322.86h0M641.01,323.16h0M625.84,336.34h0M631.8,334.42h0M660.74,339.32h0M630.74,339.14h0M641.88,329.81h0M629.77,334.84h0M653.05,334.66h0M649.87,340.1h0M637.95,332.53h0M664.5,334.13h0M648.5,336.52h0M633.67,335.33h0M625.71,334.65h0M643.55,330.4h0M653.53,338.32h0M643.7,337.89h0M626.9,336.86h0M636.68,334.26h0M623.03,343.64h0M657.57,344.16h0M624.12,345.86h0M647.52,341.33h0M648.66,349.08h0M646.25,355.66h0M641.04,360.56h0M636.07,345.9h0M627.14,348.09h0M626.87,347.8h0M629.64,353.42h0M649.89,344.7h0M639.39,347.76h0M619.37,347.74h0M624.75,358.1h0M624.57,346.56h0M626.79,345.4h0M646.21,350.89h0M647.11,344.39h0M631.03,350.44h0M619.07,355.52h0M647.86,353.53h0M671.51,312.35h0M608.01,350.88h0M668.34,334.2h0M615.63,327.3h0M610.55,327.3h0" stroke="#000" stroke-width="1.24" stroke-linecap="round" fill="none"/>
<line x1="618" y1="335.8" x2="673.8" y2="321.1" stroke="#ff2020" stroke-width="1.1"/>
<text x="680.2" y="353.7" style="font-size:6.2px;stroke-width:0.2px" text-anchor="end" fill="#111" stroke="#111">R = 0.3265</text>
<text x="680.2" y="361.2" style="font-size:6.2px;stroke-width:0.2px" text-anchor="end" fill="#111" stroke="#111"><tspan font-style="italic">P</tspan> &lt; 0.0001</text>
<line x1="603.2" y1="374.7" x2="603.2" y2="431.9" stroke="#3a3a3a" stroke-width="0.9"/>
<line x1="600.6" y1="374.3" x2="603.2" y2="374.3" stroke="#3a3a3a" stroke-width="0.9"/>
<text x="599.8" y="376.46" style="font-size:6px;stroke-width:0.19px" text-anchor="end" fill="#111" stroke="#111">6</text>
<line x1="600.6" y1="382.5" x2="603.2" y2="382.5" stroke="#3a3a3a" stroke-width="0.9"/>
<text x="599.8" y="384.66" style="font-size:6px;stroke-width:0.19px" text-anchor="end" fill="#111" stroke="#111">4</text>
<line x1="600.6" y1="390.7" x2="603.2" y2="390.7" stroke="#3a3a3a" stroke-width="0.9"/>
<text x="599.8" y="392.86" style="font-size:6px;stroke-width:0.19px" text-anchor="end" fill="#111" stroke="#111">2</text>
<line x1="600.6" y1="398.9" x2="603.2" y2="398.9" stroke="#3a3a3a" stroke-width="0.9"/>
<text x="599.8" y="401.06" style="font-size:6px;stroke-width:0.19px" text-anchor="end" fill="#111" stroke="#111">0</text>
<line x1="600.6" y1="407.1" x2="603.2" y2="407.1" stroke="#3a3a3a" stroke-width="0.9"/>
<text x="599.8" y="409.26" style="font-size:6px;stroke-width:0.19px" text-anchor="end" fill="#111" stroke="#111">-2</text>
<line x1="600.6" y1="415.3" x2="603.2" y2="415.3" stroke="#3a3a3a" stroke-width="0.9"/>
<text x="599.8" y="417.46" style="font-size:6px;stroke-width:0.19px" text-anchor="end" fill="#111" stroke="#111">-4</text>
<line x1="600.6" y1="423.5" x2="603.2" y2="423.5" stroke="#3a3a3a" stroke-width="0.9"/>
<text x="599.8" y="425.66" style="font-size:6px;stroke-width:0.19px" text-anchor="end" fill="#111" stroke="#111">-6</text>
<line x1="600.6" y1="431.7" x2="603.2" y2="431.7" stroke="#3a3a3a" stroke-width="0.9"/>
<text x="599.8" y="433.86" style="font-size:6px;stroke-width:0.19px" text-anchor="end" fill="#111" stroke="#111">-8</text>
<line x1="603.2" y1="431.9" x2="679.8" y2="431.9" stroke="#3a3a3a" stroke-width="0.9"/>
<line x1="603.22" y1="431.9" x2="603.22" y2="434.7" stroke="#3a3a3a" stroke-width="0.9"/>
<text x="603.22" y="441.2" style="font-size:6px;stroke-width:0.19px" text-anchor="middle" fill="#111" stroke="#111">-4</text>
<line x1="615.86" y1="431.9" x2="615.86" y2="434.7" stroke="#3a3a3a" stroke-width="0.9"/>
<text x="615.86" y="441.2" style="font-size:6px;stroke-width:0.19px" text-anchor="middle" fill="#111" stroke="#111">-2</text>
<line x1="628.5" y1="431.9" x2="628.5" y2="434.7" stroke="#3a3a3a" stroke-width="0.9"/>
<text x="628.5" y="441.2" style="font-size:6px;stroke-width:0.19px" text-anchor="middle" fill="#111" stroke="#111">0</text>
<line x1="641.14" y1="431.9" x2="641.14" y2="434.7" stroke="#3a3a3a" stroke-width="0.9"/>
<text x="641.14" y="441.2" style="font-size:6px;stroke-width:0.19px" text-anchor="middle" fill="#111" stroke="#111">2</text>
<line x1="653.78" y1="431.9" x2="653.78" y2="434.7" stroke="#3a3a3a" stroke-width="0.9"/>
<text x="653.78" y="441.2" style="font-size:6px;stroke-width:0.19px" text-anchor="middle" fill="#111" stroke="#111">4</text>
<line x1="666.42" y1="431.9" x2="666.42" y2="434.7" stroke="#3a3a3a" stroke-width="0.9"/>
<text x="666.42" y="441.2" style="font-size:6px;stroke-width:0.19px" text-anchor="middle" fill="#111" stroke="#111">6</text>
<line x1="679.06" y1="431.9" x2="679.06" y2="434.7" stroke="#3a3a3a" stroke-width="0.9"/>
<text x="679.06" y="441.2" style="font-size:6px;stroke-width:0.19px" text-anchor="middle" fill="#111" stroke="#111">8</text>
<text x="642" y="447.7" style="font-size:6.2px;stroke-width:0.2px" text-anchor="middle" fill="#111" stroke="#111">ICAM1</text>
<text transform="translate(590.8,403) rotate(-90)" x="0" y="0" style="font-size:6.2px;stroke-width:0.2px" text-anchor="middle" fill="#111" stroke="#111">PD-L1</text>
<path d="M631.09,401.1h0M649.49,401.73h0M649.8,403.4h0M639.98,405.46h0M651.55,394.35h0M632.26,403.87h0M649.77,399.09h0M668.02,396.77h0M657.62,388.85h0M641.71,405.31h0M656.43,404.82h0M644.65,405.33h0M644.81,401.92h0M632.68,402.25h0M655.99,400.67h0M651.17,396.85h0M638.56,404.21h0M650.26,393.22h0M642.29,410.29h0M652.52,395.16h0M626.56,408.86h0M644.84,400.85h0M647.79,402.02h0M651.03,407.99h0M648.3,400.67h0M643.77,397.59h0M657.83,398.64h0M643.96,404.05h0M645.32,401.82h0M633.51,399.78h0M648.27,398.38h0M657.46,401.21h0M648.63,391.99h0M641.48,404.45h0M637.32,397.86h0M654.95,394.53h0M653.68,398.91h0M641.19,397.94h0M635.91,402.38h0M644.59,403.17h0M646.79,403.97h0M638.72,409.87h0M632.78,407.9h0M648.25,398.4h0M632.88,405.41h0M666.17,391.18h0M648.63,406.55h0M640.01,397.21h0M631.12,408.63h0M637.67,403.1h0M650.44,404.44h0M651.23,407.6h0M636.02,401.64h0M633.64,407.48h0M639.59,395.61h0M635.04,399.88h0M663.32,394.15h0M636.9,402.94h0M635.02,405.13h0M634.39,409.75h0M629.28,402.33h0M638.04,407.05h0M654.71,396.74h0M641.25,404.26h0M644.48,401.26h0M640.34,402.35h0M651.83,397.95h0M656.95,391.36h0M634.65,407.67h0M632.15,407.84h0M651.28,398.75h0M639.68,401.55h0M623.57,406.95h0M642.56,398.21h0M641.52,397.32h0M654.52,397.34h0M649.83,401.53h0M637.55,407.09h0M642.34,405.7h0M633.93,405.07h0M630.35,403.3h0M635.49,404.57h0M641.37,397.34h0M650.04,398.89h0M638.64,399.01h0M642.96,404.82h0M645.52,397.24h0M643.93,400.12h0M658.37,396.76h0M651.55,391.22h0M660.51,398.4h0M649.36,397.68h0M667.13,386.3h0M653.98,391.76h0M649.62,402.2h0M665.66,398.51h0M651.71,394.23h0M646.2,395.46h0M644.16,397.05h0M646.68,402.1h0M653.75,398.69h0M650.4,401.88h0M646.64,397.09h0M655.39,400.11h0M639.19,402.18h0M634.54,401.58h0M667.01,388.64h0M650.37,401.04h0M649.81,395.9h0M663.19,394.16h0M656.22,396.88h0M641.75,402.8h0M647.05,404.94h0M640.9,395.63h0M627.12,403.34h0M651.8,398.9h0M636.99,398.5h0M641.13,400.17h0M642.35,405.29h0M654.36,393.63h0M635.49,399.21h0M632.5,409.75h0M652.65,398.57h0M644.46,393.8h0M634.13,401.66h0M640.58,401.19h0M642.31,404h0M644.94,403.5h0M644.62,403.75h0M641.81,400.57h0M631.07,405.53h0M651.14,397h0M653.34,400.52h0M650.04,396.65h0M644.37,396.65h0M643.83,400.16h0M643.2,401.16h0M634.46,406.64h0M623.46,400.04h0M644.26,399.27h0M650.44,395.74h0M643.74,406.51h0M633.01,397.91h0M648.48,395.9h0M634.39,405.86h0M646.98,402.12h0M655.86,398.61h0M640.33,406.2h0M647.84,393.68h0M646.48,399.32h0M641,398.28h0M644.43,393.18h0M641.89,402.54h0M639.45,409.49h0M646.63,398.71h0M629.22,410.58h0M634.23,405.28h0M634.72,400.87h0M655.83,398.19h0M644.67,404.14h0M657.01,399.44h0M636.91,402.98h0M636.71,392.59h0M642.61,401.74h0M635.01,404.07h0M638.63,403.98h0M653.92,398.7h0M648.41,400.99h0M654,399.33h0M635.22,404.63h0M656.33,397.02h0M636.13,403.9h0M637.68,401.69h0M637.96,401.36h0M652.93,394.84h0M658.73,393.33h0M661.95,388.3h0M641.85,398.05h0M637.44,403.59h0M643.6,403.47h0M647.37,399.27h0M663.32,389.72h0M642.13,403.59h0M639.34,404.73h0M637.34,402.8h0M631.65,406.25h0M649.08,400.53h0M633.83,406.15h0M652.55,399.88h0M659.14,400.81h0M636.82,400.67h0M657.18,395.91h0M628.8,407.26h0M635.85,406.08h0M640.9,403.79h0M644.03,399.67h0M641.69,408.07h0M642.72,410.89h0M645.09,401.47h0M635.65,395.37h0M660.11,388.78h0M646.48,401.18h0M648.8,392.06h0M643.6,400.99h0M638.91,402.49h0M652.33,400.54h0M654.41,395.66h0M665.5,391.12h0M656.39,399.25h0M667.29,390.84h0M643.73,394.52h0M645.96,404.24h0M650.24,395.67h0M644.35,401.89h0M629.25,399.45h0M640.35,400.25h0M639.78,404.61h0M647.16,402.41h0M653.36,402.8h0M650.14,393.24h0M640.36,400.79h0M652.33,398.66h0M642.38,401.56h0M636.82,403.66h0M640.34,403.75h0M635.83,405.92h0M646.04,394.89h0M659.86,398.99h0M635.37,403.67h0M635.35,406.56h0M634.82,425.96h0M641.14,421.86h0M619.02,413.25h0M620.92,411.2h0M624.71,409.56h0M667.68,381.68h0M660.1,411.61h0M666.42,385.37h0M662,381.27h0" stroke="#000" stroke-width="1.24" stroke-linecap="round" fill="none"/>
<line x1="617.2" y1="412" x2="673.6" y2="389.9" stroke="#ff2020" stroke-width="1.1"/>
<text x="680.2" y="421.1" style="font-size:6.2px;stroke-width:0.2px" text-anchor="end" fill="#111" stroke="#111">R = 0.6275</text>
<text x="680.2" y="428.1" style="font-size:6.2px;stroke-width:0.2px" text-anchor="end" fill="#111" stroke="#111"><tspan font-style="italic">P</tspan> &lt; 0.0001</text>
<text x="134.6" y="302.6" style="font-size:10px;stroke-width:0.2px;font-weight:bold" fill="#000" stroke="#000">j</text>
<line x1="168.5" y1="307.4" x2="168.5" y2="393.5" stroke="#3a3a3a" stroke-width="0.9"/>
<line x1="165.9" y1="307.4" x2="168.5" y2="307.4" stroke="#3a3a3a" stroke-width="0.9"/>
<text x="165.1" y="309.56" style="font-size:6px;stroke-width:0.19px" text-anchor="end" fill="#111" stroke="#111">6</text>
<line x1="165.9" y1="336.1" x2="168.5" y2="336.1" stroke="#3a3a3a" stroke-width="0.9"/>
<text x="165.1" y="338.26" style="font-size:6px;stroke-width:0.19px" text-anchor="end" fill="#111" stroke="#111">4</text>
<line x1="165.9" y1="364.8" x2="168.5" y2="364.8" stroke="#3a3a3a" stroke-width="0.9"/>
<text x="165.1" y="366.96" style="font-size:6px;stroke-width:0.19px" text-anchor="end" fill="#111" stroke="#111">2</text>
<line x1="165.9" y1="393.5" x2="168.5" y2="393.5" stroke="#3a3a3a" stroke-width="0.9"/>
<text x="165.1" y="395.66" style="font-size:6px;stroke-width:0.19px" text-anchor="end" fill="#111" stroke="#111">0</text>
<line x1="168.5" y1="393.5" x2="270.7" y2="393.5" stroke="#3a3a3a" stroke-width="0.9"/>
<line x1="168.5" y1="393.5" x2="168.5" y2="396.3" stroke="#3a3a3a" stroke-width="0.9"/>
<text x="168.5" y="402.9" style="font-size:6px;stroke-width:0.19px" text-anchor="middle" fill="#111" stroke="#111">0</text>
<line x1="202.56" y1="393.5" x2="202.56" y2="396.3" stroke="#3a3a3a" stroke-width="0.9"/>
<text x="202.56" y="402.9" style="font-size:6px;stroke-width:0.19px" text-anchor="middle" fill="#111" stroke="#111">2</text>
<line x1="236.62" y1="393.5" x2="236.62" y2="396.3" stroke="#3a3a3a" stroke-width="0.9"/>
<text x="236.62" y="402.9" style="font-size:6px;stroke-width:0.19px" text-anchor="middle" fill="#111" stroke="#111">4</text>
<line x1="270.68" y1="393.5" x2="270.68" y2="396.3" stroke="#3a3a3a" stroke-width="0.9"/>
<text x="270.68" y="402.9" style="font-size:6px;stroke-width:0.19px" text-anchor="middle" fill="#111" stroke="#111">6</text>
<text x="219.9" y="410.6" style="font-size:6.4px;stroke-width:0.2px" text-anchor="middle" fill="#111" stroke="#111">Days in culture</text>
<text transform="translate(155.3,350) rotate(-90)" x="0" y="0" style="font-size:6.4px;stroke-width:0.2px" text-anchor="middle" fill="#111" stroke="#111">Relative cell growth</text>
<text transform="translate(219.3,305.4) scale(1,1.07)" x="0" y="0" style="font-size:7.6px;stroke-width:0.2px" text-anchor="middle" fill="#111" stroke="#111">528</text>
<text x="243.2" y="315.5" style="font-size:6.4px;stroke-width:0.2px" fill="#111" stroke="#111">Anti-ICAM1</text>
<polyline points="168.5,379.15 202.56,376.28 236.62,371.26 270.68,369.39" fill="none" stroke="#9a9a2a" stroke-width="0.8"/>
<path d="M168.5,380.91 L170.26,377.87 L166.74,377.87 Z" fill="#9a9a2a"/>
<line x1="202.56" y1="380.58" x2="202.56" y2="371.98" stroke="#9a9a2a" stroke-width="0.7"/>
<line x1="201.26" y1="371.98" x2="203.86" y2="371.98" stroke="#9a9a2a" stroke-width="0.7"/>
<line x1="201.26" y1="380.58" x2="203.86" y2="380.58" stroke="#9a9a2a" stroke-width="0.7"/>
<path d="M202.56,378.04 L204.32,375 L200.8,375 Z" fill="#9a9a2a"/>
<line x1="236.62" y1="373.41" x2="236.62" y2="369.11" stroke="#9a9a2a" stroke-width="0.7"/>
<line x1="235.32" y1="369.11" x2="237.92" y2="369.11" stroke="#9a9a2a" stroke-width="0.7"/>
<line x1="235.32" y1="373.41" x2="237.92" y2="373.41" stroke="#9a9a2a" stroke-width="0.7"/>
<path d="M236.62,373.02 L238.38,369.98 L234.86,369.98 Z" fill="#9a9a2a"/>
<line x1="270.68" y1="372.98" x2="270.68" y2="365.8" stroke="#9a9a2a" stroke-width="0.7"/>
<line x1="269.38" y1="365.8" x2="271.98" y2="365.8" stroke="#9a9a2a" stroke-width="0.7"/>
<line x1="269.38" y1="372.98" x2="271.98" y2="372.98" stroke="#9a9a2a" stroke-width="0.7"/>
<path d="M270.68,371.15 L272.44,368.11 L268.92,368.11 Z" fill="#9a9a2a"/>
<polyline points="168.5,379.15 202.56,369.82 236.62,360.35 270.68,355.76" fill="none" stroke="#3a7fd5" stroke-width="0.8"/>
<path d="M168.5,377.39 L170.26,380.43 L166.74,380.43 Z" fill="#3a7fd5"/>
<line x1="202.56" y1="371.26" x2="202.56" y2="368.39" stroke="#3a7fd5" stroke-width="0.7"/>
<line x1="201.26" y1="368.39" x2="203.86" y2="368.39" stroke="#3a7fd5" stroke-width="0.7"/>
<line x1="201.26" y1="371.26" x2="203.86" y2="371.26" stroke="#3a7fd5" stroke-width="0.7"/>
<path d="M202.56,368.06 L204.32,371.1 L200.8,371.1 Z" fill="#3a7fd5"/>
<line x1="236.62" y1="362.5" x2="236.62" y2="358.2" stroke="#3a7fd5" stroke-width="0.7"/>
<line x1="235.32" y1="358.2" x2="237.92" y2="358.2" stroke="#3a7fd5" stroke-width="0.7"/>
<line x1="235.32" y1="362.5" x2="237.92" y2="362.5" stroke="#3a7fd5" stroke-width="0.7"/>
<path d="M236.62,358.59 L238.38,361.63 L234.86,361.63 Z" fill="#3a7fd5"/>
<line x1="270.68" y1="358.63" x2="270.68" y2="352.89" stroke="#3a7fd5" stroke-width="0.7"/>
<line x1="269.38" y1="352.89" x2="271.98" y2="352.89" stroke="#3a7fd5" stroke-width="0.7"/>
<line x1="269.38" y1="358.63" x2="271.98" y2="358.63" stroke="#3a7fd5" stroke-width="0.7"/>
<path d="M270.68,354 L272.44,357.04 L268.92,357.04 Z" fill="#3a7fd5"/>
<polyline points="168.5,379.15 202.56,367.67 236.62,356.48 270.68,343.27" fill="none" stroke="#55d48a" stroke-width="0.8"/>
<rect x="166.9" y="377.55" width="3.2" height="3.2" fill="#55d48a"/>
<line x1="202.56" y1="369.82" x2="202.56" y2="365.52" stroke="#55d48a" stroke-width="0.7"/>
<line x1="201.26" y1="365.52" x2="203.86" y2="365.52" stroke="#55d48a" stroke-width="0.7"/>
<line x1="201.26" y1="369.82" x2="203.86" y2="369.82" stroke="#55d48a" stroke-width="0.7"/>
<rect x="200.96" y="366.07" width="3.2" height="3.2" fill="#55d48a"/>
<line x1="236.62" y1="357.91" x2="236.62" y2="355.04" stroke="#55d48a" stroke-width="0.7"/>
<line x1="235.32" y1="355.04" x2="237.92" y2="355.04" stroke="#55d48a" stroke-width="0.7"/>
<line x1="235.32" y1="357.91" x2="237.92" y2="357.91" stroke="#55d48a" stroke-width="0.7"/>
<rect x="235.02" y="354.88" width="3.2" height="3.2" fill="#55d48a"/>
<line x1="270.68" y1="344.71" x2="270.68" y2="341.84" stroke="#55d48a" stroke-width="0.7"/>
<line x1="269.38" y1="341.84" x2="271.98" y2="341.84" stroke="#55d48a" stroke-width="0.7"/>
<line x1="269.38" y1="344.71" x2="271.98" y2="344.71" stroke="#55d48a" stroke-width="0.7"/>
<rect x="269.08" y="341.67" width="3.2" height="3.2" fill="#55d48a"/>
<polyline points="168.5,379.15 202.56,361.21 236.62,339.26 270.68,326.92" fill="none" stroke="#ff2a2a" stroke-width="0.8"/>
<circle cx="168.5" cy="379.15" r="1.6" fill="#ff2a2a"/>
<line x1="202.56" y1="366.95" x2="202.56" y2="355.47" stroke="#ff2a2a" stroke-width="0.7"/>
<line x1="201.26" y1="355.47" x2="203.86" y2="355.47" stroke="#ff2a2a" stroke-width="0.7"/>
<line x1="201.26" y1="366.95" x2="203.86" y2="366.95" stroke="#ff2a2a" stroke-width="0.7"/>
<circle cx="202.56" cy="361.21" r="1.6" fill="#ff2a2a"/>
<line x1="236.62" y1="340.41" x2="236.62" y2="338.11" stroke="#ff2a2a" stroke-width="0.7"/>
<line x1="235.32" y1="338.11" x2="237.92" y2="338.11" stroke="#ff2a2a" stroke-width="0.7"/>
<line x1="235.32" y1="340.41" x2="237.92" y2="340.41" stroke="#ff2a2a" stroke-width="0.7"/>
<circle cx="236.62" cy="339.26" r="1.6" fill="#ff2a2a"/>
<line x1="270.68" y1="333.37" x2="270.68" y2="320.46" stroke="#ff2a2a" stroke-width="0.7"/>
<line x1="269.38" y1="320.46" x2="271.98" y2="320.46" stroke="#ff2a2a" stroke-width="0.7"/>
<line x1="269.38" y1="333.37" x2="271.98" y2="333.37" stroke="#ff2a2a" stroke-width="0.7"/>
<circle cx="270.68" cy="326.92" r="1.6" fill="#ff2a2a"/>
<line x1="172" y1="311.5" x2="182.6" y2="311.5" stroke="#ff2a2a" stroke-width="0.8"/>
<circle cx="177.3" cy="311.5" r="1.4" fill="#ff2a2a"/>
<text x="188.7" y="313.8" style="font-size:6.7px;stroke-width:0.21px" fill="#111" stroke="#111">0 &#956;g/ml</text>
<line x1="172" y1="320.7" x2="182.6" y2="320.7" stroke="#55d48a" stroke-width="0.8"/>
<rect x="175.9" y="319.3" width="2.8" height="2.8" fill="#55d48a"/>
<text x="188.7" y="323" style="font-size:6.7px;stroke-width:0.21px" fill="#111" stroke="#111">1 &#956;g/ml</text>
<line x1="172" y1="329.8" x2="182.6" y2="329.8" stroke="#3a7fd5" stroke-width="0.8"/>
<path d="M177.3,328.26 L178.84,330.92 L175.76,330.92 Z" fill="#3a7fd5"/>
<text x="188.7" y="332.1" style="font-size:6.7px;stroke-width:0.21px" fill="#111" stroke="#111">2 &#956;g/ml</text>
<line x1="172" y1="339" x2="182.6" y2="339" stroke="#9a9a2a" stroke-width="0.8"/>
<path d="M177.3,340.54 L178.84,337.88 L175.76,337.88 Z" fill="#9a9a2a"/>
<text x="188.7" y="341.3" style="font-size:6.7px;stroke-width:0.21px" fill="#111" stroke="#111">4 &#956;g/ml</text>
<path d="M211.6,310.4 H215.3 V320.5 H211.6" stroke="#999" stroke-width="0.5" fill="none"/>
<text transform="translate(217,310.8) rotate(90)" x="0" y="0" style="font-size:4.5px;stroke-width:0.14px" fill="#111" stroke="#111"><tspan font-style="italic">P</tspan> = 0.3540</text>
<path d="M220.9,310.4 H224.3 V328.2 H220.9" stroke="#999" stroke-width="0.5" fill="none"/>
<text transform="translate(226,310.8) rotate(90)" x="0" y="0" style="font-size:4.5px;stroke-width:0.14px" fill="#111" stroke="#111"><tspan font-style="italic">P</tspan> = 0.0007</text>
<path d="M230.1,310.4 H233.6 V338 H230.1" stroke="#999" stroke-width="0.5" fill="none"/>
<text transform="translate(235.5,310.8) rotate(90)" x="0" y="0" style="font-size:4.5px;stroke-width:0.14px" fill="#111" stroke="#111"><tspan font-style="italic">P</tspan> = 0.0003</text>
<text x="420.6" y="302.3" style="font-size:10px;stroke-width:0.2px;font-weight:bold" fill="#000" stroke="#000">l</text>
<line x1="443.5" y1="308.3" x2="443.5" y2="393.1" stroke="#3a3a3a" stroke-width="0.9"/>
<line x1="440.9" y1="308.3" x2="443.5" y2="308.3" stroke="#3a3a3a" stroke-width="0.9"/>
<text x="440.1" y="310.46" style="font-size:6px;stroke-width:0.19px" text-anchor="end" fill="#111" stroke="#111">5</text>
<line x1="440.9" y1="325.26" x2="443.5" y2="325.26" stroke="#3a3a3a" stroke-width="0.9"/>
<text x="440.1" y="327.42" style="font-size:6px;stroke-width:0.19px" text-anchor="end" fill="#111" stroke="#111">4</text>
<line x1="440.9" y1="342.22" x2="443.5" y2="342.22" stroke="#3a3a3a" stroke-width="0.9"/>
<text x="440.1" y="344.38" style="font-size:6px;stroke-width:0.19px" text-anchor="end" fill="#111" stroke="#111">3</text>
<line x1="440.9" y1="359.18" x2="443.5" y2="359.18" stroke="#3a3a3a" stroke-width="0.9"/>
<text x="440.1" y="361.34" style="font-size:6px;stroke-width:0.19px" text-anchor="end" fill="#111" stroke="#111">2</text>
<line x1="440.9" y1="376.14" x2="443.5" y2="376.14" stroke="#3a3a3a" stroke-width="0.9"/>
<text x="440.1" y="378.3" style="font-size:6px;stroke-width:0.19px" text-anchor="end" fill="#111" stroke="#111">1</text>
<line x1="440.9" y1="393.1" x2="443.5" y2="393.1" stroke="#3a3a3a" stroke-width="0.9"/>
<text x="440.1" y="395.26" style="font-size:6px;stroke-width:0.19px" text-anchor="end" fill="#111" stroke="#111">0</text>
<line x1="443.5" y1="393.1" x2="545" y2="393.1" stroke="#3a3a3a" stroke-width="0.9"/>
<line x1="443.5" y1="393.1" x2="443.5" y2="395.9" stroke="#3a3a3a" stroke-width="0.9"/>
<text x="443.5" y="402.7" style="font-size:6px;stroke-width:0.19px" text-anchor="middle" fill="#111" stroke="#111">0</text>
<line x1="477.34" y1="393.1" x2="477.34" y2="395.9" stroke="#3a3a3a" stroke-width="0.9"/>
<text x="477.34" y="402.7" style="font-size:6px;stroke-width:0.19px" text-anchor="middle" fill="#111" stroke="#111">2</text>
<line x1="511.18" y1="393.1" x2="511.18" y2="395.9" stroke="#3a3a3a" stroke-width="0.9"/>
<text x="511.18" y="402.7" style="font-size:6px;stroke-width:0.19px" text-anchor="middle" fill="#111" stroke="#111">4</text>
<line x1="545.02" y1="393.1" x2="545.02" y2="395.9" stroke="#3a3a3a" stroke-width="0.9"/>
<text x="545.02" y="402.7" style="font-size:6px;stroke-width:0.19px" text-anchor="middle" fill="#111" stroke="#111">6</text>
<text x="494.4" y="410.5" style="font-size:6.4px;stroke-width:0.2px" text-anchor="middle" fill="#111" stroke="#111">Days in culture</text>
<text transform="translate(430,350.7) rotate(-90)" x="0" y="0" style="font-size:6.4px;stroke-width:0.2px" text-anchor="middle" fill="#111" stroke="#111">Relative cell growth</text>
<text transform="translate(493,305.6) scale(1,1.07)" x="0" y="0" style="font-size:7.6px;stroke-width:0.2px" text-anchor="middle" fill="#111" stroke="#111">83</text>
<text x="499.3" y="321.3" style="font-size:6.5px;stroke-width:0.21px" fill="#111" stroke="#111">Anti-ICAM1</text>
<polyline points="443.5,376.14 477.34,369.36 511.18,367.32 545.02,366.3" fill="none" stroke="#55d48a" stroke-width="0.8"/>
<rect x="441.9" y="374.54" width="3.2" height="3.2" fill="#55d48a"/>
<line x1="477.34" y1="371.05" x2="477.34" y2="367.66" stroke="#55d48a" stroke-width="0.7"/>
<line x1="476.04" y1="367.66" x2="478.64" y2="367.66" stroke="#55d48a" stroke-width="0.7"/>
<line x1="476.04" y1="371.05" x2="478.64" y2="371.05" stroke="#55d48a" stroke-width="0.7"/>
<rect x="475.74" y="367.76" width="3.2" height="3.2" fill="#55d48a"/>
<line x1="511.18" y1="369.02" x2="511.18" y2="365.62" stroke="#55d48a" stroke-width="0.7"/>
<line x1="509.88" y1="365.62" x2="512.48" y2="365.62" stroke="#55d48a" stroke-width="0.7"/>
<line x1="509.88" y1="369.02" x2="512.48" y2="369.02" stroke="#55d48a" stroke-width="0.7"/>
<rect x="509.58" y="365.72" width="3.2" height="3.2" fill="#55d48a"/>
<line x1="545.02" y1="368.85" x2="545.02" y2="363.76" stroke="#55d48a" stroke-width="0.7"/>
<line x1="543.72" y1="363.76" x2="546.32" y2="363.76" stroke="#55d48a" stroke-width="0.7"/>
<line x1="543.72" y1="368.85" x2="546.32" y2="368.85" stroke="#55d48a" stroke-width="0.7"/>
<rect x="543.42" y="364.7" width="3.2" height="3.2" fill="#55d48a"/>
<polyline points="443.5,376.14 477.34,363.42 511.18,350.19 545.02,318.14" fill="none" stroke="#ff2a2a" stroke-width="0.8"/>
<circle cx="443.5" cy="376.14" r="1.6" fill="#ff2a2a"/>
<line x1="477.34" y1="365.46" x2="477.34" y2="361.38" stroke="#ff2a2a" stroke-width="0.7"/>
<line x1="476.04" y1="361.38" x2="478.64" y2="361.38" stroke="#ff2a2a" stroke-width="0.7"/>
<line x1="476.04" y1="365.46" x2="478.64" y2="365.46" stroke="#ff2a2a" stroke-width="0.7"/>
<circle cx="477.34" cy="363.42" r="1.6" fill="#ff2a2a"/>
<line x1="511.18" y1="354.43" x2="511.18" y2="345.95" stroke="#ff2a2a" stroke-width="0.7"/>
<line x1="509.88" y1="345.95" x2="512.48" y2="345.95" stroke="#ff2a2a" stroke-width="0.7"/>
<line x1="509.88" y1="354.43" x2="512.48" y2="354.43" stroke="#ff2a2a" stroke-width="0.7"/>
<circle cx="511.18" cy="350.19" r="1.6" fill="#ff2a2a"/>
<line x1="545.02" y1="323.22" x2="545.02" y2="313.05" stroke="#ff2a2a" stroke-width="0.7"/>
<line x1="543.72" y1="313.05" x2="546.32" y2="313.05" stroke="#ff2a2a" stroke-width="0.7"/>
<line x1="543.72" y1="323.22" x2="546.32" y2="323.22" stroke="#ff2a2a" stroke-width="0.7"/>
<circle cx="545.02" cy="318.14" r="1.6" fill="#ff2a2a"/>
<line x1="446.8" y1="318.3" x2="456.9" y2="318.3" stroke="#ff2a2a" stroke-width="0.8"/>
<circle cx="452" cy="318.3" r="1.4" fill="#ff2a2a"/>
<text x="463.1" y="320.5" style="font-size:6.4px;stroke-width:0.2px" fill="#111" stroke="#111">0 &#956;g/ml</text>
<line x1="446.8" y1="326.8" x2="456.9" y2="326.8" stroke="#55d48a" stroke-width="0.8"/>
<rect x="450.6" y="325.4" width="2.8" height="2.8" fill="#55d48a"/>
<text x="463.1" y="329" style="font-size:6.4px;stroke-width:0.2px" fill="#111" stroke="#111">4 &#956;g/ml</text>
<line x1="485.5" y1="317.3" x2="485.5" y2="328.8" stroke="#999" stroke-width="0.8"/>
<text transform="translate(487.3,313.4) rotate(90)" x="0" y="0" style="font-size:4.5px;stroke-width:0.14px" fill="#111" stroke="#111"><tspan font-style="italic">P</tspan> = 0.0003</text>
<text x="233.9" y="440.4" style="font-size:10px;stroke-width:0.2px;font-weight:bold" fill="#000" stroke="#000">o</text>
<text transform="translate(292.1,441.9) scale(1,1.07)" x="0" y="0" style="font-size:7.6px;stroke-width:0.2px" text-anchor="middle" fill="#111" stroke="#111">293T</text>
<text x="282" y="454.7" style="font-size:6.4px;stroke-width:0.2px" text-anchor="middle" fill="#111" stroke="#111">TCF/LEF binding</text>
<text x="281.2" y="461.6" style="font-size:5.6px;stroke-width:0.18px" text-anchor="middle" fill="#111" stroke="#111">(-665) CTTTGAGG (-658)</text>
<text x="321.5" y="454.4" style="font-size:6.4px;stroke-width:0.2px" fill="#111" stroke="#111">Start</text>
<text x="237" y="472.3" style="font-size:6.2px;stroke-width:0.2px;font-style:italic" fill="#111" stroke="#111">5'-</text>
<rect x="245.1" y="465.1" width="73.3" height="9.7" fill="#8c8c1c" rx="1.5"/>
<text x="281.5" y="471.9" style="font-size:6.4px;stroke-width:0.2px" text-anchor="middle" fill="#f4f4d8" stroke="#f4f4d8"><tspan font-style="italic">CD274</tspan> promoter</text>
<line x1="318.3" y1="470.2" x2="326.5" y2="470.2" stroke="#333" stroke-width="0.8"/>
<path d="M323.2,470.2 V462.6 H331" stroke="#111" stroke-width="0.9" fill="none"/>
<path d="M330.6,460.9 L333.8,462.6 L330.6,464.3 Z" stroke="none" stroke-width="0" fill="#111"/>
<rect x="326.5" y="465.2" width="12.5" height="9.8" fill="#a3a3a3" stroke="#7a7a7a" stroke-width="0.7" rx="1.2"/>
<text x="340.8" y="472.4" style="font-size:6.2px;stroke-width:0.2px;font-style:italic" fill="#111" stroke="#111">-3'</text>
<line x1="263.2" y1="487.4" x2="263.2" y2="558.3" stroke="#3a3a3a" stroke-width="0.9"/>
<line x1="260.6" y1="487.4" x2="263.2" y2="487.4" stroke="#3a3a3a" stroke-width="0.9"/>
<text x="259.8" y="489.63" style="font-size:6.2px;stroke-width:0.2px" text-anchor="end" fill="#111" stroke="#111">80</text>
<line x1="260.6" y1="505.12" x2="263.2" y2="505.12" stroke="#3a3a3a" stroke-width="0.9"/>
<text x="259.8" y="507.35" style="font-size:6.2px;stroke-width:0.2px" text-anchor="end" fill="#111" stroke="#111">60</text>
<line x1="260.6" y1="522.85" x2="263.2" y2="522.85" stroke="#3a3a3a" stroke-width="0.9"/>
<text x="259.8" y="525.08" style="font-size:6.2px;stroke-width:0.2px" text-anchor="end" fill="#111" stroke="#111">40</text>
<line x1="260.6" y1="540.57" x2="263.2" y2="540.57" stroke="#3a3a3a" stroke-width="0.9"/>
<text x="259.8" y="542.81" style="font-size:6.2px;stroke-width:0.2px" text-anchor="end" fill="#111" stroke="#111">20</text>
<line x1="260.6" y1="558.3" x2="263.2" y2="558.3" stroke="#3a3a3a" stroke-width="0.9"/>
<text x="259.8" y="560.53" style="font-size:6.2px;stroke-width:0.2px" text-anchor="end" fill="#111" stroke="#111">0</text>
<line x1="263.2" y1="558.3" x2="336" y2="558.3" stroke="#3a3a3a" stroke-width="0.8"/>
<text transform="translate(247.8,523.5) rotate(-90)" x="0" y="0" style="font-size:5.9px;stroke-width:0.19px" text-anchor="middle" fill="#111" stroke="#111">Relative luminescence intensity</text>
<rect x="294.2" y="517.09" width="15.8" height="41.21" fill="none" stroke="#55d48a" stroke-width="0.9"/>
<rect x="317.3" y="505.12" width="14.9" height="53.18" fill="none" stroke="#3a7fd5" stroke-width="0.9"/>
<rect x="272.5" y="556.97" width="12" height="1.33" fill="none" stroke="#ff2a2a" stroke-width="0.7"/>
<circle cx="272.4" cy="557.6" r="1.5" fill="#ff2a2a"/>
<circle cx="278.4" cy="556.5" r="1.5" fill="#ff2a2a"/>
<circle cx="284.6" cy="557" r="1.5" fill="#ff2a2a"/>
<rect x="295.1" y="516" width="2.8" height="2.8" fill="#55d48a"/>
<rect x="300.7" y="515.5" width="2.8" height="2.8" fill="#55d48a"/>
<rect x="306.4" y="515.8" width="2.8" height="2.8" fill="#55d48a"/>
<line x1="324.3" y1="502.02" x2="324.3" y2="507.78" stroke="#3a7fd5" stroke-width="0.7"/>
<line x1="321.5" y1="502.02" x2="327.1" y2="502.02" stroke="#3a7fd5" stroke-width="0.7"/>
<line x1="321.5" y1="507.78" x2="327.1" y2="507.78" stroke="#3a7fd5" stroke-width="0.7"/>
<path d="M320.3,503.95 L321.95,506.8 L318.65,506.8 Z" fill="#3a7fd5"/>
<path d="M324.3,500.95 L325.95,503.8 L322.65,503.8 Z" fill="#3a7fd5"/>
<path d="M328.6,503.95 L330.25,506.8 L326.95,506.8 Z" fill="#3a7fd5"/>
<text x="251.3" y="567.6" style="font-size:6.3px;stroke-width:0.2px" fill="#111" stroke="#111">ICAM1</text>
<text x="251.3" y="578.1" style="font-size:6.3px;stroke-width:0.2px" fill="#111" stroke="#111">CD274</text>
<text x="278.4" y="567.6" style="font-size:6.3px;stroke-width:0.2px" text-anchor="middle" fill="#111" stroke="#111">0</text>
<text x="278.4" y="578.1" style="font-size:6.3px;stroke-width:0.2px" text-anchor="middle" fill="#111" stroke="#111">+</text>
<text x="301.6" y="567.6" style="font-size:6.3px;stroke-width:0.2px" text-anchor="middle" fill="#111" stroke="#111">1</text>
<text x="301.6" y="578.1" style="font-size:6.3px;stroke-width:0.2px" text-anchor="middle" fill="#111" stroke="#111">+</text>
<text x="324.3" y="567.6" style="font-size:6.3px;stroke-width:0.2px" text-anchor="middle" fill="#111" stroke="#111">2</text>
<text x="324.3" y="578.1" style="font-size:6.3px;stroke-width:0.2px" text-anchor="middle" fill="#111" stroke="#111">+</text>
<text x="331.5" y="567.6" style="font-size:6.3px;stroke-width:0.2px" fill="#111" stroke="#111">&#956;g</text>
<path d="M278.4,488.3 V486.1 H324.3 V488.3" stroke="#888" stroke-width="0.5" fill="none"/>
<text x="301.4" y="484.2" style="font-size:4.1px;stroke-width:0.13px" text-anchor="middle" fill="#111" stroke="#111"><tspan font-style="italic">P</tspan> = 0.0001</text>
<path d="M301.6,497.6 V495.4 H324.3 V497.6" stroke="#888" stroke-width="0.5" fill="none"/>
<text x="313" y="493.3" style="font-size:4.1px;stroke-width:0.13px" text-anchor="middle" fill="#111" stroke="#111"><tspan font-style="italic">P</tspan> = 0.0002</text>
<path d="M278.4,510.6 V508.4 H301.6 V510.6" stroke="#888" stroke-width="0.5" fill="none"/>
<text x="290" y="506.3" style="font-size:4.1px;stroke-width:0.13px" text-anchor="middle" fill="#111" stroke="#111"><tspan font-style="italic">P</tspan> &lt; 0.0001</text>
<text x="358.3" y="440.3" style="font-size:10px;stroke-width:0.2px;font-weight:bold" fill="#000" stroke="#000">p</text>
<text transform="translate(431.3,441.7) scale(1,1.07)" x="0" y="0" style="font-size:7.6px;stroke-width:0.2px" text-anchor="middle" fill="#111" stroke="#111">83</text>
<line x1="384.9" y1="448.5" x2="384.9" y2="549.2" stroke="#3a3a3a" stroke-width="0.9"/>
<line x1="382.3" y1="448.6" x2="384.9" y2="448.6" stroke="#3a3a3a" stroke-width="0.9"/>
<text x="381.5" y="450.83" style="font-size:6.2px;stroke-width:0.2px" text-anchor="end" fill="#111" stroke="#111">80</text>
<line x1="382.3" y1="473.75" x2="384.9" y2="473.75" stroke="#3a3a3a" stroke-width="0.9"/>
<text x="381.5" y="475.98" style="font-size:6.2px;stroke-width:0.2px" text-anchor="end" fill="#111" stroke="#111">60</text>
<line x1="382.3" y1="498.9" x2="384.9" y2="498.9" stroke="#3a3a3a" stroke-width="0.9"/>
<text x="381.5" y="501.13" style="font-size:6.2px;stroke-width:0.2px" text-anchor="end" fill="#111" stroke="#111">40</text>
<line x1="382.3" y1="524.05" x2="384.9" y2="524.05" stroke="#3a3a3a" stroke-width="0.9"/>
<text x="381.5" y="526.28" style="font-size:6.2px;stroke-width:0.2px" text-anchor="end" fill="#111" stroke="#111">20</text>
<line x1="382.3" y1="549.2" x2="384.9" y2="549.2" stroke="#3a3a3a" stroke-width="0.9"/>
<text x="381.5" y="551.43" style="font-size:6.2px;stroke-width:0.2px" text-anchor="end" fill="#111" stroke="#111">0</text>
<line x1="384.9" y1="549.2" x2="479.9" y2="549.2" stroke="#3a3a3a" stroke-width="0.9"/>
<line x1="401.1" y1="549.2" x2="401.1" y2="552" stroke="#3a3a3a" stroke-width="0.9"/>
<line x1="424.7" y1="549.2" x2="424.7" y2="552" stroke="#3a3a3a" stroke-width="0.9"/>
<line x1="447.9" y1="549.2" x2="447.9" y2="552" stroke="#3a3a3a" stroke-width="0.9"/>
<line x1="471.3" y1="549.2" x2="471.3" y2="552" stroke="#3a3a3a" stroke-width="0.9"/>
<text transform="translate(370,496.5) rotate(-90)" x="0" y="0" style="font-size:6.35px;stroke-width:0.2px" text-anchor="middle" fill="#111" stroke="#111">Killing efficiency (%)</text>
<rect x="393.4" y="532.48" width="15.3" height="16.72" fill="none" stroke="#ff2a2a" stroke-width="0.9"/>
<rect x="417.1" y="484.44" width="15.2" height="64.76" fill="none" stroke="#55d48a" stroke-width="0.9"/>
<rect x="440.2" y="487.96" width="15.3" height="61.24" fill="none" stroke="#3a7fd5" stroke-width="0.9"/>
<rect x="463.6" y="517.64" width="15.4" height="31.56" fill="none" stroke="#a8a83a" stroke-width="0.9"/>
<circle cx="398.9" cy="533.48" r="1.5" fill="#ff2a2a"/>
<circle cx="401.1" cy="532.22" r="1.5" fill="#ff2a2a"/>
<circle cx="403.3" cy="531.22" r="1.5" fill="#ff2a2a"/>
<line x1="424.7" y1="487.96" x2="424.7" y2="480.92" stroke="#55d48a" stroke-width="0.8"/>
<line x1="421.9" y1="480.92" x2="427.5" y2="480.92" stroke="#55d48a" stroke-width="0.8"/>
<line x1="421.9" y1="487.96" x2="427.5" y2="487.96" stroke="#55d48a" stroke-width="0.8"/>
<rect x="423.2" y="484.83" width="3" height="3" fill="#55d48a"/>
<rect x="423.2" y="482.94" width="3" height="3" fill="#55d48a"/>
<rect x="423.2" y="481.05" width="3" height="3" fill="#55d48a"/>
<line x1="447.9" y1="493.24" x2="447.9" y2="482.68" stroke="#3a7fd5" stroke-width="0.8"/>
<line x1="445.1" y1="482.68" x2="450.7" y2="482.68" stroke="#3a7fd5" stroke-width="0.8"/>
<line x1="445.1" y1="493.24" x2="450.7" y2="493.24" stroke="#3a7fd5" stroke-width="0.8"/>
<path d="M447.9,490.33 L449.55,493.18 L446.25,493.18 Z" fill="#3a7fd5"/>
<path d="M447.9,486.31 L449.55,489.16 L446.25,489.16 Z" fill="#3a7fd5"/>
<path d="M447.9,482.41 L449.55,485.26 L446.25,485.26 Z" fill="#3a7fd5"/>
<line x1="471.3" y1="521.41" x2="471.3" y2="513.86" stroke="#a8a83a" stroke-width="0.8"/>
<line x1="468.5" y1="513.86" x2="474.1" y2="513.86" stroke="#a8a83a" stroke-width="0.8"/>
<line x1="468.5" y1="521.41" x2="474.1" y2="521.41" stroke="#a8a83a" stroke-width="0.8"/>
<path d="M471.3,521.93 L472.95,519.08 L469.65,519.08 Z" fill="#a8a83a"/>
<path d="M471.3,519.41 L472.95,516.56 L469.65,516.56 Z" fill="#a8a83a"/>
<path d="M471.3,516.65 L472.95,513.8 L469.65,513.8 Z" fill="#a8a83a"/>
<text x="424.7" y="475.2" style="font-size:4.1px;stroke-width:0.13px" text-anchor="middle" fill="#111" stroke="#111"><tspan font-style="italic">P</tspan> = 0.0028</text>
<text x="447.9" y="478" style="font-size:4.1px;stroke-width:0.13px" text-anchor="middle" fill="#111" stroke="#111"><tspan font-style="italic">P</tspan> = 0.0084</text>
<text x="471.3" y="510.3" style="font-size:4.1px;stroke-width:0.13px" text-anchor="middle" fill="#111" stroke="#111"><tspan font-style="italic">P</tspan> = 0.0002</text>
<text transform="translate(403.3,555.2) rotate(-45)" x="0" y="0" style="font-size:6.2px;stroke-width:0.2px" text-anchor="end" fill="#111" stroke="#111">Control</text>
<text transform="translate(426.9,555.2) rotate(-45)" x="0" y="0" style="font-size:6.2px;stroke-width:0.2px" text-anchor="end" fill="#111" stroke="#111">Anti-ICAM1</text>
<text transform="translate(450.1,555.2) rotate(-45)" x="0" y="0" style="font-size:6.2px;stroke-width:0.2px" text-anchor="end" fill="#111" stroke="#111">ICG001</text>
<text transform="translate(473.5,555.2) rotate(-45)" x="0" y="0" style="font-size:6.2px;stroke-width:0.2px" text-anchor="end" fill="#111" stroke="#111">Anti-PD-L1</text>
<text x="488" y="439.5" style="font-size:10px;stroke-width:0.2px;font-weight:bold" fill="#000" stroke="#000">q</text>
<defs><clipPath id="qc"><rect x="499.5" y="452.4" width="181.1" height="120.6"/></clipPath><marker id="ah" viewBox="0 0 6 6" refX="5" refY="3" markerWidth="4" markerHeight="4" orient="auto"><path d="M0,0 L6,3 L0,6 Z" fill="#222"/></marker></defs>
<g clip-path="url(#qc)">
<rect x="499.5" y="452.4" width="181.1" height="120.6" fill="#ffffff"/>
<rect x="499.5" y="482" width="181.1" height="92" fill="#e3f0fb"/>
<circle cx="500" cy="592.8" r="56.3" fill="none" stroke="#b8c0c8" stroke-width="0.8" stroke-dasharray="3,2"/>
<circle cx="622" cy="605.5" r="60" fill="none" stroke="#b8c0c8" stroke-width="0.8" stroke-dasharray="3,2"/>
<rect x="499.5" y="479.3" width="181.1" height="5.8" fill="#a6c6ea"/>
<line x1="499.5" y1="479.5" x2="680.6" y2="479.5" stroke="#6f9fd8" stroke-width="0.8"/>
<line x1="499.5" y1="484.9" x2="680.6" y2="484.9" stroke="#6f9fd8" stroke-width="0.8"/>
</g>
<rect x="499.5" y="452.4" width="181.1" height="120.6" fill="none" stroke="#6a6a6a" stroke-width="0.9"/>
<rect x="502.8" y="473.3" width="23.7" height="14.1" fill="#fbe8e8" stroke="#d04848" stroke-width="0.9" rx="2.3"/>
<text x="514.65" y="482.62" style="font-size:6.3px;stroke-width:0.2px" text-anchor="middle" fill="#222" stroke="#222">ICAM1</text>
<rect x="527.2" y="460.4" width="6.6" height="32.9" fill="#f7e6f3" stroke="#c89ac0" stroke-width="0.7" rx="3.3"/>
<circle cx="533.4" cy="493.7" r="4.6" fill="#d98a4c"/>
<text x="533.4" y="495.2" style="font-size:4.3px;stroke-width:0.14px" text-anchor="middle" fill="#553" stroke="#553">Ub</text>
<text x="505.8" y="496.9" style="font-size:6.2px;stroke-width:0.2px" fill="#111" stroke="#111">ZNRF3</text>
<path d="M545.2,486.91 V472.69 A1.29,1.29 0 0 1 547.79,472.69 V486.91 A1.29,1.29 0 0 0 550.38,486.91 V472.69 A1.29,1.29 0 0 1 552.96,472.69 V486.91 A1.29,1.29 0 0 0 555.55,486.91 V472.69 A1.29,1.29 0 0 1 558.14,472.69 V486.91 A1.29,1.29 0 0 0 560.73,486.91 V472.69 A1.29,1.29 0 0 1 563.31,472.69 V486.91 A1.29,1.29 0 0 0 565.9,486.91 V486.91" stroke="#c8457a" stroke-width="1.7" fill="none"/>
<rect x="542.6" y="457.5" width="13.8" height="10.2" fill="#fbe8e8" stroke="#d04848" stroke-width="0.9" rx="2"/>
<text x="549.5" y="464.62" style="font-size:5.6px;stroke-width:0.18px" text-anchor="middle" fill="#222" stroke="#222">Wnt</text>
<path d="M545,467.8 q-1,1.5 0.5,2.2 q1,0.8 -0.5,1.8" stroke="#c8457a" stroke-width="0.6" fill="none"/>
<text transform="translate(557.9,459.7) scale(1,1.07)" x="0" y="0" style="font-size:7.6px;stroke-width:0.2px" fill="#d03030" stroke="#d03030">ON</text>
<rect x="566.2" y="461.6" width="6.7" height="26.6" fill="#d6d4f0" stroke="#7a74c8" stroke-width="0.7" rx="3.35"/>
<text x="574" y="477.7" style="font-size:6.1px;stroke-width:0.2px" fill="#111" stroke="#111">LRP6</text>
<text x="545.2" y="494" style="font-size:6.1px;stroke-width:0.2px" fill="#111" stroke="#111">Frizzled</text>
<path d="M537,497.5 Q549,503.5 560,491.8" stroke="#222" stroke-width="0.6" fill="none" marker-end="url(#ah)"/>
<path d="M531.8,499 Q532,512 521.5,520" stroke="#222" stroke-width="0.6" fill="none" marker-end="url(#ah)"/>
<text x="503" y="527.7" style="font-size:6.2px;stroke-width:0.2px" fill="#111" stroke="#111">Auto-Ub</text>
<path d="M569.5,494 Q571,509 563.5,519.8" stroke="#222" stroke-width="0.6" fill="none" marker-end="url(#ah)"/>
<rect x="542.9" y="522.6" width="30.9" height="8.8" fill="#fbe8e8" stroke="#d04848" stroke-width="0.9" rx="2.3"/>
<text x="558.35" y="529.23" style="font-size:6.2px;stroke-width:0.2px" text-anchor="middle" fill="#222" stroke="#222">&#946;-catenin</text>
<path d="M576.5,533.6 V522" stroke="#222" stroke-width="0.6" fill="none" marker-end="url(#ah)"/>
<path d="M549.5,534.5 Q546.5,544.5 537.5,549.2" stroke="#222" stroke-width="0.6" fill="none" marker-end="url(#ah)"/>
<rect x="501.6" y="550.8" width="30.6" height="9.1" fill="#fbe8e8" stroke="#d04848" stroke-width="0.9" rx="2.3"/>
<text x="516.9" y="557.58" style="font-size:6.2px;stroke-width:0.2px" text-anchor="middle" fill="#222" stroke="#222">&#946;-catenin</text>
<rect x="507.8" y="560.6" width="31" height="8" fill="#eef0f5" stroke="#6a8ad8" stroke-width="0.9" rx="4"/>
<text x="523.3" y="567.1" style="font-size:6.2px;stroke-width:0.2px" text-anchor="middle" fill="#111" stroke="#111">TCF/LEF</text>
<path d="M507,570.9 q0.9,-1.3 1.8,0 q0.9,1.3 1.8,0 q0.9,-1.3 1.8,0 q0.9,1.3 1.8,0 q0.9,-1.3 1.8,0 q0.9,1.3 1.8,0 q0.9,-1.3 1.8,0 q0.9,1.3 1.8,0 q0.9,-1.3 1.8,0 q0.9,1.3 1.8,0 q0.9,-1.3 1.8,0 q0.9,1.3 1.8,0 q0.9,-1.3 1.8,0 q0.9,1.3 1.8,0 q0.9,-1.3 1.8,0 q0.9,1.3 1.8,0 q0.9,-1.3 1.8,0 q0.9,1.3 1.8,0 q0.9,-1.3 1.8,0 q0.9,1.3 1.8,0 q0.9,-1.3 1.8,0 q0.9,1.3 1.8,0 q0.9,-1.3 1.8,0 q0.9,1.3 1.8,0" stroke="#23439a" stroke-width="1.0" fill="none"/>
<path d="M507,570.9 q0.9,1.3 1.8,0 q0.9,-1.3 1.8,0 q0.9,1.3 1.8,0 q0.9,-1.3 1.8,0 q0.9,1.3 1.8,0 q0.9,-1.3 1.8,0 q0.9,1.3 1.8,0 q0.9,-1.3 1.8,0 q0.9,1.3 1.8,0 q0.9,-1.3 1.8,0 q0.9,1.3 1.8,0 q0.9,-1.3 1.8,0 q0.9,1.3 1.8,0 q0.9,-1.3 1.8,0 q0.9,1.3 1.8,0 q0.9,-1.3 1.8,0 q0.9,1.3 1.8,0 q0.9,-1.3 1.8,0 q0.9,1.3 1.8,0 q0.9,-1.3 1.8,0 q0.9,1.3 1.8,0 q0.9,-1.3 1.8,0 q0.9,1.3 1.8,0 q0.9,-1.3 1.8,0" transform="translate(0.9,0)" stroke="#3a5cb8" stroke-width="0.8" fill="none"/>
<path d="M539.6,568 V562.8 H547.5" stroke="#222" stroke-width="0.7" fill="none" marker-end="url(#ah)"/>
<rect x="549" y="559.9" width="20.7" height="8.4" fill="#fbe8e8" stroke="#d04848" stroke-width="0.9" rx="2.3"/>
<text x="559.35" y="566.33" style="font-size:6.2px;stroke-width:0.2px" text-anchor="middle" fill="#222" stroke="#222">PD-L1</text>
<path d="M572.4,568.6 V559" stroke="#222" stroke-width="0.6" fill="none" marker-end="url(#ah)"/>
<line x1="573.8" y1="568.6" x2="595.4" y2="486.4" stroke="#222" stroke-width="1.2" stroke-dasharray="1.3,1.3"/>
<rect x="598.1" y="472.4" width="23.4" height="15" fill="#cfd0d6" stroke="#8c8c90" stroke-width="0.9" rx="2.8"/>
<text x="609.8" y="482.17" style="font-size:6.3px;stroke-width:0.2px" text-anchor="middle" fill="#222" stroke="#222">ICAM1</text>
<path d="M628.8,487.62 V471.48 A1.28,1.28 0 0 1 631.35,471.48 V487.62 A1.28,1.28 0 0 0 633.9,487.62 V471.48 A1.28,1.28 0 0 1 636.45,471.48 V487.62 A1.28,1.28 0 0 0 639,487.62 V471.48 A1.28,1.28 0 0 1 641.55,471.48 V487.62 A1.28,1.28 0 0 0 644.1,487.62 V471.48 A1.28,1.28 0 0 1 646.65,471.48 V487.62 A1.28,1.28 0 0 0 649.2,487.62 V487.62" stroke="#666666" stroke-width="2" fill="none"/>
<g transform="translate(633.2,459.8) rotate(33)"><rect x="-7" y="-4.3" width="14" height="8.6" rx="2" fill="#dadada" stroke="#9a9a9a" stroke-width="0.7"/><text x="0" y="2" text-anchor="middle" style="font-size:5.4px" fill="#777">Wnt</text></g>
<path d="M628.3,465.5 q-1.5,1.5 0,2.5 q1.3,1 -0.3,2.2" stroke="#888" stroke-width="0.6" fill="none"/>
<text transform="translate(647.6,459) scale(1,1.07)" x="0" y="0" style="font-size:7.6px;stroke-width:0.2px" fill="#9a9a9a" stroke="#9a9a9a">OFF</text>
<rect x="650" y="460.4" width="6.5" height="32.9" fill="#f7e6f3" stroke="#c89ac0" stroke-width="0.7" rx="3.25"/>
<rect x="657.3" y="460.4" width="6.5" height="27.8" fill="#d6d4f0" stroke="#7a74c8" stroke-width="0.7" rx="3.25"/>
<circle cx="665" cy="487.4" r="4.6" fill="#d98a4c"/>
<text x="665" y="488.9" style="font-size:4.3px;stroke-width:0.14px" text-anchor="middle" fill="#553" stroke="#553">Ub</text>
<text x="664.4" y="477.2" style="font-size:6.1px;stroke-width:0.2px" fill="#111" stroke="#111">LRP6</text>
<text x="624.7" y="492.6" style="font-size:6.1px;stroke-width:0.2px" fill="#111" stroke="#111">Frizzled</text>
<text x="641.9" y="499.9" style="font-size:6.2px;stroke-width:0.2px" fill="#111" stroke="#111">ZNRF3</text>
<path d="M665,492 V517.5" stroke="#222" stroke-width="0.6" fill="none" marker-end="url(#ah)"/>
<circle cx="664.13" cy="530.37" r="0.65" fill="#7088b0"/>
<circle cx="660.59" cy="529.64" r="0.65" fill="#7088b0"/>
<circle cx="662.46" cy="525.96" r="0.65" fill="#7088b0"/>
<circle cx="669.69" cy="527.38" r="0.65" fill="#7088b0"/>
<circle cx="663.64" cy="529.13" r="0.65" fill="#7088b0"/>
<circle cx="667.8" cy="526.91" r="0.65" fill="#7088b0"/>
<circle cx="665.88" cy="524.34" r="0.65" fill="#7088b0"/>
<circle cx="662.29" cy="525.62" r="0.65" fill="#7088b0"/>
<circle cx="659.77" cy="523.5" r="0.65" fill="#7088b0"/>
<circle cx="658.44" cy="526.4" r="0.65" fill="#7088b0"/>
<circle cx="662.9" cy="525.72" r="0.65" fill="#7088b0"/>
<circle cx="664.03" cy="523.44" r="0.65" fill="#7088b0"/>
<circle cx="663.26" cy="528.26" r="0.65" fill="#7088b0"/>
<circle cx="666.46" cy="524.68" r="0.65" fill="#7088b0"/>
<circle cx="662.59" cy="522.38" r="0.65" fill="#7088b0"/>
<circle cx="662.37" cy="522.24" r="0.65" fill="#7088b0"/>
<circle cx="659.28" cy="529.7" r="0.65" fill="#7088b0"/>
<circle cx="657.76" cy="528.69" r="0.65" fill="#7088b0"/>
<circle cx="665.29" cy="525.9" r="0.65" fill="#7088b0"/>
<circle cx="665.57" cy="528.56" r="0.65" fill="#7088b0"/>
<circle cx="667.54" cy="526.36" r="0.65" fill="#7088b0"/>
<circle cx="661.61" cy="525.29" r="0.65" fill="#7088b0"/>
<circle cx="660.24" cy="526.88" r="0.65" fill="#7088b0"/>
<circle cx="661.08" cy="529.85" r="0.65" fill="#7088b0"/>
<text x="642.7" y="540.6" style="font-size:6.2px;stroke-width:0.2px" fill="#111" stroke="#111">Degradation</text>
<path d="M651.5,502 Q651,519 633.5,524.2" stroke="#222" stroke-width="0.6" fill="none"/>
<line x1="633.2" y1="521.8" x2="633.2" y2="526.6" stroke="#222" stroke-width="0.7"/>
<path d="M596,520.6 V532.5" stroke="#222" stroke-width="0.6" fill="none" marker-end="url(#ah)"/>
<rect x="599.3" y="522.6" width="31.2" height="8.8" fill="#f8eded" stroke="#e0aaaa" stroke-width="0.9" rx="2.3"/>
<text x="614.9" y="529.23" style="font-size:6.2px;stroke-width:0.2px" text-anchor="middle" fill="#9a9a9a" stroke="#9a9a9a">&#946;-catenin</text>
<path d="M616.3,534 Q610.5,540.5 608.8,549.5" stroke="#222" stroke-width="0.6" fill="none" marker-end="url(#ah)"/>
<rect x="596.4" y="551.1" width="31.2" height="8.5" fill="#f8eded" stroke="#e0aaaa" stroke-width="0.9" rx="2.3"/>
<text x="612" y="557.58" style="font-size:6.2px;stroke-width:0.2px" text-anchor="middle" fill="#9a9a9a" stroke="#9a9a9a">&#946;-catenin</text>
<rect x="606.2" y="560.6" width="30.6" height="8" fill="#eef0f5" stroke="#6a8ad8" stroke-width="0.9" rx="4"/>
<text x="621.5" y="567.1" style="font-size:6.2px;stroke-width:0.2px" text-anchor="middle" fill="#111" stroke="#111">TCF/LEF</text>
<path d="M606,570.9 q0.9,-1.3 1.8,0 q0.9,1.3 1.8,0 q0.9,-1.3 1.8,0 q0.9,1.3 1.8,0 q0.9,-1.3 1.8,0 q0.9,1.3 1.8,0 q0.9,-1.3 1.8,0 q0.9,1.3 1.8,0 q0.9,-1.3 1.8,0 q0.9,1.3 1.8,0 q0.9,-1.3 1.8,0 q0.9,1.3 1.8,0 q0.9,-1.3 1.8,0 q0.9,1.3 1.8,0 q0.9,-1.3 1.8,0 q0.9,1.3 1.8,0 q0.9,-1.3 1.8,0 q0.9,1.3 1.8,0 q0.9,-1.3 1.8,0 q0.9,1.3 1.8,0 q0.9,-1.3 1.8,0 q0.9,1.3 1.8,0 q0.9,-1.3 1.8,0 q0.9,1.3 1.8,0" stroke="#23439a" stroke-width="1.0" fill="none"/>
<path d="M606,570.9 q0.9,1.3 1.8,0 q0.9,-1.3 1.8,0 q0.9,1.3 1.8,0 q0.9,-1.3 1.8,0 q0.9,1.3 1.8,0 q0.9,-1.3 1.8,0 q0.9,1.3 1.8,0 q0.9,-1.3 1.8,0 q0.9,1.3 1.8,0 q0.9,-1.3 1.8,0 q0.9,1.3 1.8,0 q0.9,-1.3 1.8,0 q0.9,1.3 1.8,0 q0.9,-1.3 1.8,0 q0.9,1.3 1.8,0 q0.9,-1.3 1.8,0 q0.9,1.3 1.8,0 q0.9,-1.3 1.8,0 q0.9,1.3 1.8,0 q0.9,-1.3 1.8,0 q0.9,1.3 1.8,0 q0.9,-1.3 1.8,0 q0.9,1.3 1.8,0 q0.9,-1.3 1.8,0" transform="translate(0.9,0)" stroke="#3a5cb8" stroke-width="0.8" fill="none"/>
<path d="M638,568 V563.2 H646.5" stroke="#222" stroke-width="0.7" fill="none" stroke-dasharray="1,1" marker-end="url(#ah)"/>
<rect x="654.3" y="559.9" width="21.2" height="8.4" fill="#f8eded" stroke="#e0aaaa" stroke-width="0.9" rx="2.3"/>
<text x="664.9" y="566.33" style="font-size:6.2px;stroke-width:0.2px" text-anchor="middle" fill="#9a9a9a" stroke="#9a9a9a">PD-L1</text>
<path d="M677.7,557.5 V569" stroke="#222" stroke-width="0.6" fill="none" marker-end="url(#ah)"/>
</svg></body></html>
